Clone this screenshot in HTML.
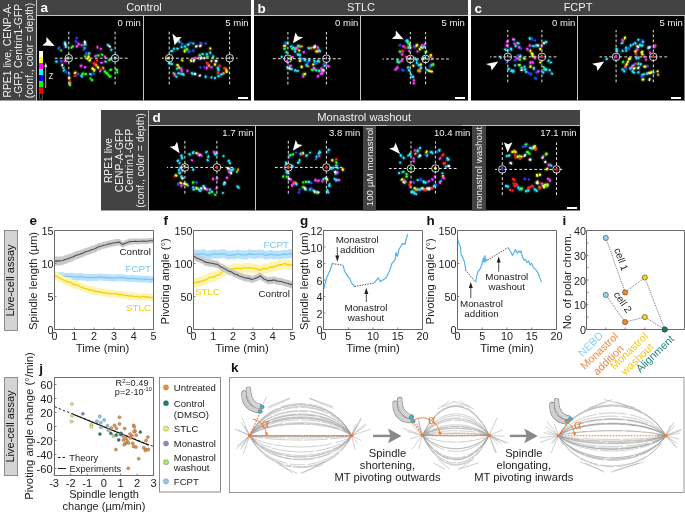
<!DOCTYPE html><html><head><meta charset="utf-8"><style>html,body{margin:0;padding:0;background:#fff;}svg{display:block;will-change:transform;}</style></head><body><svg width="685" height="513" viewBox="0 0 685 513" font-family='"Liberation Sans", sans-serif'>
<rect x="0" y="0" width="685" height="513" fill="#fff" />
<rect x="0" y="0" width="36" height="100.5" fill="#434343" />
<rect x="36" y="0" width="1" height="100.5" fill="#c4c4c4" />
<text transform="translate(10.6,50.5) rotate(-90)" font-size="10.4" fill="#f0f0f0" text-anchor="middle" font-weight="normal">RPE1 live, CENP-A-</text>
<text transform="translate(21.7,50.5) rotate(-90)" font-size="10.4" fill="#f0f0f0" text-anchor="middle" font-weight="normal">-GFP, Centrin1-GFP</text>
<text transform="translate(32.8,50.5) rotate(-90)" font-size="10.4" fill="#f0f0f0" text-anchor="middle" font-weight="normal">(conf., color = depth)</text>
<rect x="37" y="0" width="214" height="15" fill="#434343" />
<rect x="37" y="15" width="214" height="1" fill="#c4c4c4" />
<rect x="37" y="16" width="214" height="84.5" fill="#000" />
<rect x="143" y="16" width="1" height="84.5" fill="#c4c4c4" />
<text x="40.5" y="12" font-size="13.5" fill="#fff" text-anchor="start" font-weight="bold" >a</text>
<text x="144.0" y="10.7" font-size="11" fill="#f0f0f0" text-anchor="middle" font-weight="normal" >Control</text>
<rect x="254" y="0" width="214" height="15" fill="#434343" />
<rect x="254" y="15" width="214" height="1" fill="#c4c4c4" />
<rect x="254" y="16" width="214" height="84.5" fill="#000" />
<rect x="360" y="16" width="1" height="84.5" fill="#c4c4c4" />
<text x="257.5" y="12.7" font-size="13.5" fill="#fff" text-anchor="start" font-weight="bold" >b</text>
<text x="361.0" y="10.7" font-size="11" fill="#f0f0f0" text-anchor="middle" font-weight="normal" >STLC</text>
<rect x="471" y="0" width="214" height="15" fill="#434343" />
<rect x="471" y="15" width="214" height="1" fill="#c4c4c4" />
<rect x="471" y="16" width="214" height="84.5" fill="#000" />
<rect x="577" y="16" width="1" height="84.5" fill="#c4c4c4" />
<text x="474.5" y="12.7" font-size="13.5" fill="#fff" text-anchor="start" font-weight="bold" >c</text>
<text x="578.0" y="10.7" font-size="11" fill="#f0f0f0" text-anchor="middle" font-weight="normal" >FCPT</text>
<rect x="684" y="16" width="1" height="84.5" fill="#777" />
<rect x="39" y="51" width="4" height="6" fill="#ffffff" />
<rect x="39" y="57" width="4" height="6" fill="#ffff00" />
<rect x="39" y="63" width="4" height="6" fill="#ff00ff" />
<rect x="39" y="69" width="4" height="6" fill="#00ffff" />
<rect x="39" y="75" width="4" height="6" fill="#0000ff" />
<rect x="39" y="81" width="4" height="6" fill="#00ff00" />
<rect x="39" y="87" width="4" height="6" fill="#ff0000" />
<rect x="39" y="93" width="4" height="6" fill="#000000" />
<rect x="39.5" y="93.5" width="3" height="5.5" fill="none" stroke="#555" stroke-width="0.8"/>
<line x1="45.7" y1="88" x2="45.7" y2="66" stroke="#ddd" stroke-width="0.8"/>
<polygon points="45.7,62.5 44.2,67 47.2,67" fill="#ddd"/>
<text x="48.5" y="79" font-size="10" fill="#ddd" text-anchor="start" font-weight="normal" >z</text>
<defs><filter id="gl" x="-50%" y="-50%" width="200%" height="200%"><feGaussianBlur stdDeviation="0.9" result="b"/><feMerge><feMergeNode in="b"/><feMergeNode in="SourceGraphic"/></feMerge></filter></defs>
<g filter="url(#gl)"><ellipse cx="76.7" cy="38.0" rx="1.34" ry="0.91" fill="#2a4cff" transform="rotate(32 76.7 38.0)"/><ellipse cx="76.0" cy="41.5" rx="1.25" ry="1.08" fill="#2a4cff" transform="rotate(45 76.0 41.5)"/><ellipse cx="64.9" cy="42.6" rx="1.33" ry="1.06" fill="#28e6ff" transform="rotate(97 64.9 42.6)"/><ellipse cx="65.4" cy="44.6" rx="1.66" ry="1.00" fill="#ffffff" transform="rotate(76 65.4 44.6)"/><ellipse cx="66.1" cy="47.0" rx="1.47" ry="0.92" fill="#28e6ff" transform="rotate(162 66.1 47.0)"/><ellipse cx="71.6" cy="47.5" rx="1.32" ry="0.97" fill="#2cff2c" transform="rotate(123 71.6 47.5)"/><ellipse cx="72.8" cy="46.4" rx="1.19" ry="1.05" fill="#2cff2c" transform="rotate(153 72.8 46.4)"/><ellipse cx="76.9" cy="46.4" rx="1.30" ry="1.13" fill="#ff3cff" transform="rotate(95 76.9 46.4)"/><ellipse cx="78.7" cy="44.0" rx="1.56" ry="0.99" fill="#ff3cff" transform="rotate(72 78.7 44.0)"/><ellipse cx="81.6" cy="45.2" rx="1.26" ry="0.85" fill="#ff3cff" transform="rotate(37 81.6 45.2)"/><ellipse cx="84.9" cy="42.3" rx="1.69" ry="1.01" fill="#ffffff" transform="rotate(83 84.9 42.3)"/><ellipse cx="85.1" cy="44.6" rx="1.64" ry="1.03" fill="#28e6ff" transform="rotate(176 85.1 44.6)"/><ellipse cx="84.5" cy="48.1" rx="1.31" ry="0.91" fill="#28e6ff" transform="rotate(166 84.5 48.1)"/><ellipse cx="83.9" cy="49.3" rx="1.20" ry="1.09" fill="#2a4cff" transform="rotate(107 83.9 49.3)"/><ellipse cx="58.8" cy="48.1" rx="1.69" ry="1.13" fill="#2a4cff" transform="rotate(119 58.8 48.1)"/><ellipse cx="61.1" cy="50.5" rx="1.12" ry="0.86" fill="#2cff2c" transform="rotate(85 61.1 50.5)"/><ellipse cx="97.4" cy="47.3" rx="1.59" ry="0.87" fill="#ff3cff" transform="rotate(77 97.4 47.3)"/><ellipse cx="100.9" cy="48.7" rx="1.15" ry="0.94" fill="#ff3cff" transform="rotate(1 100.9 48.7)"/><ellipse cx="107.9" cy="45.0" rx="1.30" ry="1.01" fill="#28e6ff" transform="rotate(36 107.9 45.0)"/><ellipse cx="109.6" cy="46.4" rx="1.57" ry="0.87" fill="#ffffff" transform="rotate(38 109.6 46.4)"/><ellipse cx="111.4" cy="49.9" rx="1.25" ry="0.97" fill="#28e6ff" transform="rotate(137 111.4 49.9)"/><ellipse cx="86.3" cy="53.4" rx="1.31" ry="1.06" fill="#2a4cff" transform="rotate(166 86.3 53.4)"/><ellipse cx="89.2" cy="53.4" rx="1.18" ry="1.11" fill="#28e6ff" transform="rotate(108 89.2 53.4)"/><ellipse cx="88.6" cy="56.9" rx="1.55" ry="1.03" fill="#ffff28" transform="rotate(73 88.6 56.9)"/><ellipse cx="85.1" cy="56.3" rx="1.16" ry="0.89" fill="#2cff2c" transform="rotate(31 85.1 56.3)"/><ellipse cx="87.4" cy="58.7" rx="1.21" ry="0.89" fill="#ffff28" transform="rotate(37 87.4 58.7)"/><ellipse cx="89.8" cy="60.4" rx="1.44" ry="1.08" fill="#ffff28" transform="rotate(144 89.8 60.4)"/><ellipse cx="95.6" cy="56.0" rx="1.61" ry="0.89" fill="#ff3cff" transform="rotate(148 95.6 56.0)"/><ellipse cx="98.5" cy="55.5" rx="1.21" ry="0.87" fill="#2cff2c" transform="rotate(52 98.5 55.5)"/><ellipse cx="102.0" cy="54.6" rx="1.45" ry="0.86" fill="#2cff2c" transform="rotate(39 102.0 54.6)"/><ellipse cx="105.0" cy="56.9" rx="1.34" ry="1.10" fill="#ff3cff" transform="rotate(72 105.0 56.9)"/><ellipse cx="105.6" cy="61.6" rx="1.35" ry="0.96" fill="#28e6ff" transform="rotate(17 105.6 61.6)"/><ellipse cx="109.6" cy="59.8" rx="1.63" ry="1.13" fill="#2cff2c" transform="rotate(130 109.6 59.8)"/><ellipse cx="114.9" cy="58.1" rx="1.34" ry="0.98" fill="#28e6ff" transform="rotate(56 114.9 58.1)"/><ellipse cx="67.8" cy="58.1" rx="1.49" ry="1.05" fill="#2cff2c" transform="rotate(56 67.8 58.1)"/><ellipse cx="65.2" cy="61.0" rx="1.62" ry="1.07" fill="#ff3cff" transform="rotate(39 65.2 61.0)"/><ellipse cx="61.1" cy="61.0" rx="1.59" ry="1.05" fill="#2a4cff" transform="rotate(45 61.1 61.0)"/><ellipse cx="56.4" cy="61.6" rx="1.28" ry="1.08" fill="#28e6ff" transform="rotate(14 56.4 61.6)"/><ellipse cx="96.8" cy="60.4" rx="1.36" ry="1.14" fill="#ff2424" transform="rotate(46 96.8 60.4)"/><ellipse cx="93.9" cy="63.3" rx="1.40" ry="1.12" fill="#ff2424" transform="rotate(157 93.9 63.3)"/><ellipse cx="95.0" cy="64.2" rx="1.57" ry="1.01" fill="#ff2424" transform="rotate(167 95.0 64.2)"/><ellipse cx="96.2" cy="65.1" rx="1.25" ry="1.11" fill="#ff9a10" transform="rotate(74 96.2 65.1)"/><ellipse cx="98.0" cy="67.4" rx="1.49" ry="1.03" fill="#ffff28" transform="rotate(51 98.0 67.4)"/><ellipse cx="101.5" cy="62.7" rx="1.51" ry="1.03" fill="#ff3cff" transform="rotate(178 101.5 62.7)"/><ellipse cx="103.2" cy="68.0" rx="1.50" ry="0.98" fill="#ff9a10" transform="rotate(68 103.2 68.0)"/><ellipse cx="100.3" cy="70.9" rx="1.63" ry="0.95" fill="#ff3cff" transform="rotate(120 100.3 70.9)"/><ellipse cx="92.7" cy="68.6" rx="1.52" ry="1.14" fill="#ffff28" transform="rotate(35 92.7 68.6)"/><ellipse cx="94.4" cy="70.4" rx="1.50" ry="0.90" fill="#ffff28" transform="rotate(115 94.4 70.4)"/><ellipse cx="81.0" cy="65.7" rx="1.49" ry="1.07" fill="#ff3cff" transform="rotate(156 81.0 65.7)"/><ellipse cx="85.1" cy="67.2" rx="1.24" ry="1.11" fill="#ff3cff" transform="rotate(62 85.1 67.2)"/><ellipse cx="62.3" cy="65.1" rx="1.34" ry="0.88" fill="#ffffff" transform="rotate(96 62.3 65.1)"/><ellipse cx="63.5" cy="68.0" rx="1.10" ry="0.94" fill="#28e6ff" transform="rotate(121 63.5 68.0)"/><ellipse cx="64.0" cy="70.4" rx="1.55" ry="0.90" fill="#28e6ff" transform="rotate(141 64.0 70.4)"/><ellipse cx="66.4" cy="72.1" rx="1.37" ry="0.91" fill="#2a4cff" transform="rotate(135 66.4 72.1)"/><ellipse cx="69.3" cy="73.9" rx="1.54" ry="0.99" fill="#2a4cff" transform="rotate(96 69.3 73.9)"/><ellipse cx="75.1" cy="72.7" rx="1.47" ry="1.04" fill="#ffff28" transform="rotate(138 75.1 72.7)"/><ellipse cx="75.1" cy="76.2" rx="1.56" ry="0.91" fill="#ff2424" transform="rotate(4 75.1 76.2)"/><ellipse cx="78.1" cy="73.9" rx="1.16" ry="0.94" fill="#2a4cff" transform="rotate(104 78.1 73.9)"/><ellipse cx="81.6" cy="76.2" rx="1.68" ry="0.98" fill="#28e6ff" transform="rotate(66 81.6 76.2)"/><ellipse cx="82.7" cy="73.9" rx="1.43" ry="1.13" fill="#2cff2c" transform="rotate(106 82.7 73.9)"/><ellipse cx="85.7" cy="74.2" rx="1.28" ry="1.08" fill="#2cff2c" transform="rotate(179 85.7 74.2)"/><ellipse cx="90.4" cy="74.2" rx="1.58" ry="0.97" fill="#28e6ff" transform="rotate(31 90.4 74.2)"/><ellipse cx="93.9" cy="73.9" rx="1.38" ry="0.89" fill="#2a4cff" transform="rotate(24 93.9 73.9)"/><ellipse cx="105.0" cy="71.5" rx="1.37" ry="1.11" fill="#2cff2c" transform="rotate(126 105.0 71.5)"/><ellipse cx="106.7" cy="73.3" rx="1.35" ry="1.14" fill="#2cff2c" transform="rotate(32 106.7 73.3)"/><ellipse cx="108.5" cy="75.0" rx="1.25" ry="0.93" fill="#2cff2c" transform="rotate(103 108.5 75.0)"/><ellipse cx="110.2" cy="76.5" rx="1.63" ry="0.96" fill="#2cff2c" transform="rotate(149 110.2 76.5)"/><ellipse cx="110.8" cy="69.8" rx="1.66" ry="0.99" fill="#2cff2c" transform="rotate(161 110.8 69.8)"/><ellipse cx="116.7" cy="69.8" rx="1.63" ry="0.99" fill="#2cff2c" transform="rotate(31 116.7 69.8)"/><ellipse cx="117.3" cy="72.3" rx="1.14" ry="0.92" fill="#2cff2c" transform="rotate(83 117.3 72.3)"/><ellipse cx="90.4" cy="78.5" rx="1.11" ry="0.95" fill="#2cff2c" transform="rotate(89 90.4 78.5)"/><ellipse cx="92.1" cy="80.1" rx="1.30" ry="1.07" fill="#2cff2c" transform="rotate(103 92.1 80.1)"/><ellipse cx="69.3" cy="78.0" rx="1.42" ry="1.04" fill="#ffff28" transform="rotate(105 69.3 78.0)"/><ellipse cx="69.9" cy="81.5" rx="1.35" ry="0.90" fill="#ff2424" transform="rotate(106 69.9 81.5)"/><ellipse cx="70.1" cy="83.2" rx="1.13" ry="0.86" fill="#ff9a10" transform="rotate(62 70.1 83.2)"/><ellipse cx="69.9" cy="85.0" rx="1.24" ry="1.08" fill="#2cff2c" transform="rotate(29 69.9 85.0)"/></g>
<g stroke="#e8e8e8" stroke-width="1" stroke-dasharray="2.8,2.2" fill="none">
<line x1="53.6" y1="58.2" x2="128.9" y2="58.2" stroke-dashoffset="3.80"/>
<line x1="68.8" y1="31.7" x2="68.8" y2="85.5" stroke-dashoffset="0.10"/>
<line x1="115.1" y1="31.7" x2="115.1" y2="85.5" stroke-dashoffset="0.10"/>
</g>
<circle cx="68.8" cy="58.2" r="3.8" fill="none" stroke="#e6e6e6" stroke-width="0.9"/>
<circle cx="115.1" cy="58.2" r="3.8" fill="none" stroke="#e6e6e6" stroke-width="0.9"/>
<polygon points="54.7,45.9 46.4,36.9 46.4,42.1 42.2,45.5" fill="#fff"/>
<text x="140.8" y="26.4" font-size="9.5" fill="#f2f2f2" text-anchor="end" font-weight="normal" >0 min</text>
<g filter="url(#gl)"><ellipse cx="179.3" cy="41.7" rx="1.36" ry="1.06" fill="#28e6ff" transform="rotate(75 179.3 41.7)"/><ellipse cx="182.2" cy="43.8" rx="1.58" ry="0.89" fill="#2a4cff" transform="rotate(31 182.2 43.8)"/><ellipse cx="181.6" cy="47.0" rx="1.27" ry="0.96" fill="#28e6ff" transform="rotate(101 181.6 47.0)"/><ellipse cx="185.1" cy="46.4" rx="1.22" ry="1.02" fill="#28e6ff" transform="rotate(126 185.1 46.4)"/><ellipse cx="188.1" cy="44.6" rx="1.49" ry="1.09" fill="#28e6ff" transform="rotate(15 188.1 44.6)"/><ellipse cx="190.4" cy="42.9" rx="1.51" ry="1.07" fill="#2a4cff" transform="rotate(149 190.4 42.9)"/><ellipse cx="193.3" cy="43.5" rx="1.19" ry="0.88" fill="#28e6ff" transform="rotate(137 193.3 43.5)"/><ellipse cx="196.3" cy="46.4" rx="1.49" ry="0.90" fill="#ffffff" transform="rotate(157 196.3 46.4)"/><ellipse cx="200.4" cy="45.8" rx="1.53" ry="1.03" fill="#ffffff" transform="rotate(137 200.4 45.8)"/><ellipse cx="200.9" cy="42.9" rx="1.47" ry="0.95" fill="#2a4cff" transform="rotate(10 200.9 42.9)"/><ellipse cx="205.6" cy="43.5" rx="1.31" ry="1.04" fill="#2a4cff" transform="rotate(34 205.6 43.5)"/><ellipse cx="174.0" cy="48.7" rx="1.21" ry="0.88" fill="#28e6ff" transform="rotate(89 174.0 48.7)"/><ellipse cx="171.7" cy="51.1" rx="1.68" ry="1.07" fill="#28e6ff" transform="rotate(2 171.7 51.1)"/><ellipse cx="177.5" cy="48.7" rx="1.33" ry="1.05" fill="#28e6ff" transform="rotate(17 177.5 48.7)"/><ellipse cx="184.6" cy="51.1" rx="1.58" ry="0.92" fill="#ffff28" transform="rotate(80 184.6 51.1)"/><ellipse cx="186.9" cy="49.3" rx="1.58" ry="1.11" fill="#2cff2c" transform="rotate(14 186.9 49.3)"/><ellipse cx="189.2" cy="51.6" rx="1.59" ry="1.11" fill="#2a4cff" transform="rotate(151 189.2 51.6)"/><ellipse cx="193.3" cy="50.8" rx="1.56" ry="0.96" fill="#2a4cff" transform="rotate(56 193.3 50.8)"/><ellipse cx="210.3" cy="48.5" rx="1.13" ry="0.97" fill="#ffff28" transform="rotate(54 210.3 48.5)"/><ellipse cx="199.8" cy="55.1" rx="1.20" ry="1.13" fill="#2cff2c" transform="rotate(159 199.8 55.1)"/><ellipse cx="202.7" cy="54.0" rx="1.59" ry="0.94" fill="#28e6ff" transform="rotate(22 202.7 54.0)"/><ellipse cx="206.8" cy="54.0" rx="1.36" ry="0.87" fill="#28e6ff" transform="rotate(64 206.8 54.0)"/><ellipse cx="210.3" cy="52.8" rx="1.46" ry="0.95" fill="#28e6ff" transform="rotate(60 210.3 52.8)"/><ellipse cx="207.4" cy="56.7" rx="1.30" ry="1.10" fill="#2cff2c" transform="rotate(6 207.4 56.7)"/><ellipse cx="213.2" cy="56.9" rx="1.59" ry="1.03" fill="#28e6ff" transform="rotate(99 213.2 56.9)"/><ellipse cx="168.2" cy="58.1" rx="1.52" ry="0.86" fill="#ffff28" transform="rotate(155 168.2 58.1)"/><ellipse cx="195.1" cy="58.1" rx="1.27" ry="0.97" fill="#ff3cff" transform="rotate(92 195.1 58.1)"/><ellipse cx="198.6" cy="58.1" rx="1.64" ry="0.92" fill="#ff3cff" transform="rotate(94 198.6 58.1)"/><ellipse cx="200.9" cy="58.1" rx="1.69" ry="0.91" fill="#ffffff" transform="rotate(117 200.9 58.1)"/><ellipse cx="204.4" cy="58.1" rx="1.20" ry="1.02" fill="#ffffff" transform="rotate(78 204.4 58.1)"/><ellipse cx="182.2" cy="60.4" rx="1.44" ry="0.86" fill="#ffff28" transform="rotate(36 182.2 60.4)"/><ellipse cx="191.0" cy="60.6" rx="1.64" ry="0.90" fill="#ffff28" transform="rotate(54 191.0 60.6)"/><ellipse cx="193.9" cy="60.6" rx="1.69" ry="0.93" fill="#ffffff" transform="rotate(104 193.9 60.6)"/><ellipse cx="211.5" cy="61.0" rx="1.36" ry="0.85" fill="#ffff28" transform="rotate(116 211.5 61.0)"/><ellipse cx="216.1" cy="61.0" rx="1.40" ry="1.13" fill="#ffffff" transform="rotate(176 216.1 61.0)"/><ellipse cx="206.8" cy="62.7" rx="1.14" ry="1.03" fill="#ff2424" transform="rotate(61 206.8 62.7)"/><ellipse cx="208.0" cy="64.2" rx="1.18" ry="1.13" fill="#ff2424" transform="rotate(16 208.0 64.2)"/><ellipse cx="209.1" cy="65.7" rx="1.40" ry="0.92" fill="#ff9a10" transform="rotate(103 209.1 65.7)"/><ellipse cx="215.0" cy="64.5" rx="1.23" ry="1.11" fill="#ffff28" transform="rotate(79 215.0 64.5)"/><ellipse cx="219.6" cy="65.7" rx="1.22" ry="1.09" fill="#ff2424" transform="rotate(24 219.6 65.7)"/><ellipse cx="224.3" cy="68.0" rx="1.54" ry="0.92" fill="#ff2424" transform="rotate(151 224.3 68.0)"/><ellipse cx="226.1" cy="69.2" rx="1.25" ry="1.05" fill="#ff9a10" transform="rotate(121 226.1 69.2)"/><ellipse cx="226.7" cy="71.5" rx="1.40" ry="1.11" fill="#ffff28" transform="rotate(98 226.7 71.5)"/><ellipse cx="223.7" cy="73.3" rx="1.24" ry="1.01" fill="#ff9a10" transform="rotate(124 223.7 73.3)"/><ellipse cx="217.9" cy="68.0" rx="1.35" ry="1.01" fill="#28e6ff" transform="rotate(13 217.9 68.0)"/><ellipse cx="218.5" cy="69.8" rx="1.25" ry="1.08" fill="#28e6ff" transform="rotate(60 218.5 69.8)"/><ellipse cx="211.5" cy="67.4" rx="1.21" ry="1.09" fill="#ff3cff" transform="rotate(5 211.5 67.4)"/><ellipse cx="204.4" cy="67.4" rx="1.12" ry="0.87" fill="#2a4cff" transform="rotate(34 204.4 67.4)"/><ellipse cx="200.4" cy="67.4" rx="1.13" ry="0.94" fill="#2a4cff" transform="rotate(48 200.4 67.4)"/><ellipse cx="206.8" cy="68.0" rx="1.65" ry="0.93" fill="#ff3cff" transform="rotate(104 206.8 68.0)"/><ellipse cx="177.5" cy="65.1" rx="1.28" ry="1.07" fill="#ffff28" transform="rotate(21 177.5 65.1)"/><ellipse cx="179.3" cy="67.4" rx="1.31" ry="0.89" fill="#ffff28" transform="rotate(55 179.3 67.4)"/><ellipse cx="177.0" cy="68.6" rx="1.26" ry="0.99" fill="#28e6ff" transform="rotate(170 177.0 68.6)"/><ellipse cx="181.6" cy="68.6" rx="1.12" ry="0.92" fill="#ff3cff" transform="rotate(109 181.6 68.6)"/><ellipse cx="181.6" cy="70.4" rx="1.60" ry="0.96" fill="#ff3cff" transform="rotate(65 181.6 70.4)"/><ellipse cx="187.5" cy="70.9" rx="1.29" ry="0.96" fill="#ff3cff" transform="rotate(97 187.5 70.9)"/><ellipse cx="174.0" cy="73.3" rx="1.57" ry="0.86" fill="#2cff2c" transform="rotate(32 174.0 73.3)"/><ellipse cx="174.6" cy="75.0" rx="1.23" ry="1.04" fill="#ff3cff" transform="rotate(137 174.6 75.0)"/><ellipse cx="176.4" cy="76.8" rx="1.14" ry="0.85" fill="#28e6ff" transform="rotate(21 176.4 76.8)"/><ellipse cx="178.7" cy="73.3" rx="1.36" ry="1.06" fill="#28e6ff" transform="rotate(175 178.7 73.3)"/><ellipse cx="181.6" cy="73.9" rx="1.32" ry="0.98" fill="#28e6ff" transform="rotate(158 181.6 73.9)"/><ellipse cx="183.4" cy="74.4" rx="1.56" ry="1.12" fill="#28e6ff" transform="rotate(47 183.4 74.4)"/><ellipse cx="192.2" cy="73.5" rx="1.53" ry="1.09" fill="#28e6ff" transform="rotate(49 192.2 73.5)"/><ellipse cx="195.1" cy="73.9" rx="1.25" ry="1.13" fill="#ffffff" transform="rotate(40 195.1 73.9)"/><ellipse cx="199.8" cy="75.6" rx="1.30" ry="0.88" fill="#ffffff" transform="rotate(158 199.8 75.6)"/><ellipse cx="205.6" cy="76.8" rx="1.47" ry="0.92" fill="#28e6ff" transform="rotate(80 205.6 76.8)"/><ellipse cx="211.5" cy="77.4" rx="1.37" ry="0.86" fill="#28e6ff" transform="rotate(134 211.5 77.4)"/><ellipse cx="215.0" cy="78.0" rx="1.15" ry="0.97" fill="#28e6ff" transform="rotate(133 215.0 78.0)"/><ellipse cx="218.5" cy="76.2" rx="1.27" ry="1.08" fill="#28e6ff" transform="rotate(162 218.5 76.2)"/><ellipse cx="221.4" cy="74.4" rx="1.52" ry="0.98" fill="#28e6ff" transform="rotate(167 221.4 74.4)"/><ellipse cx="217.9" cy="72.7" rx="1.29" ry="1.15" fill="#ff2424" transform="rotate(109 217.9 72.7)"/><ellipse cx="169.4" cy="63.3" rx="1.42" ry="1.11" fill="#28e6ff" transform="rotate(19 169.4 63.3)"/><ellipse cx="171.7" cy="63.9" rx="1.27" ry="1.08" fill="#28e6ff" transform="rotate(12 171.7 63.9)"/></g>
<g stroke="#e8e8e8" stroke-width="1" stroke-dasharray="2.8,2.2" fill="none">
<line x1="161.9" y1="58.2" x2="237.5" y2="58.2" stroke-dashoffset="0.90"/>
<line x1="169.2" y1="31.7" x2="169.2" y2="84.7" stroke-dashoffset="0.10"/>
<line x1="229.6" y1="31.7" x2="229.6" y2="84.7" stroke-dashoffset="0.10"/>
</g>
<circle cx="169.2" cy="58.2" r="3.8" fill="none" stroke="#e6e6e6" stroke-width="0.9"/>
<circle cx="229.6" cy="58.2" r="3.8" fill="none" stroke="#e6e6e6" stroke-width="0.9"/>
<polygon points="174.6,45.2 172.3,33.5 176.5,37.2 181.6,37.0" fill="#fff"/>
<text x="248.6" y="26.4" font-size="9.5" fill="#f2f2f2" text-anchor="end" font-weight="normal" >5 min</text>
<rect x="238" y="97" width="10" height="2" fill="#fff" />
<g filter="url(#gl)"><ellipse cx="285.2" cy="42.9" rx="1.66" ry="0.99" fill="#2a4cff" transform="rotate(88 285.2 42.9)"/><ellipse cx="284.6" cy="45.8" rx="1.70" ry="0.88" fill="#ffff28" transform="rotate(4 284.6 45.8)"/><ellipse cx="284.6" cy="48.7" rx="1.44" ry="1.04" fill="#2cff2c" transform="rotate(155 284.6 48.7)"/><ellipse cx="287.5" cy="42.9" rx="1.22" ry="1.11" fill="#28e6ff" transform="rotate(118 287.5 42.9)"/><ellipse cx="291.1" cy="46.4" rx="1.45" ry="0.86" fill="#28e6ff" transform="rotate(144 291.1 46.4)"/><ellipse cx="292.2" cy="48.7" rx="1.23" ry="1.05" fill="#2cff2c" transform="rotate(179 292.2 48.7)"/><ellipse cx="293.4" cy="47.5" rx="1.11" ry="0.98" fill="#28e6ff" transform="rotate(169 293.4 47.5)"/><ellipse cx="295.1" cy="48.7" rx="1.27" ry="1.10" fill="#28e6ff" transform="rotate(147 295.1 48.7)"/><ellipse cx="296.9" cy="48.1" rx="1.51" ry="1.15" fill="#ff3cff" transform="rotate(127 296.9 48.1)"/><ellipse cx="298.1" cy="45.8" rx="1.16" ry="1.10" fill="#28e6ff" transform="rotate(135 298.1 45.8)"/><ellipse cx="299.8" cy="46.4" rx="1.33" ry="0.88" fill="#2cff2c" transform="rotate(48 299.8 46.4)"/><ellipse cx="301.6" cy="46.4" rx="1.42" ry="0.93" fill="#ff9a10" transform="rotate(178 301.6 46.4)"/><ellipse cx="299.2" cy="50.5" rx="1.19" ry="0.93" fill="#ffff28" transform="rotate(22 299.2 50.5)"/><ellipse cx="298.1" cy="54.6" rx="1.55" ry="1.10" fill="#28e6ff" transform="rotate(45 298.1 54.6)"/><ellipse cx="299.8" cy="55.1" rx="1.33" ry="1.12" fill="#28e6ff" transform="rotate(108 299.8 55.1)"/><ellipse cx="303.9" cy="52.2" rx="1.23" ry="1.15" fill="#ff3cff" transform="rotate(139 303.9 52.2)"/><ellipse cx="295.1" cy="51.6" rx="1.28" ry="0.98" fill="#28e6ff" transform="rotate(90 295.1 51.6)"/><ellipse cx="308.6" cy="48.1" rx="1.48" ry="0.99" fill="#28e6ff" transform="rotate(27 308.6 48.1)"/><ellipse cx="310.9" cy="48.1" rx="1.30" ry="0.89" fill="#ff9a10" transform="rotate(90 310.9 48.1)"/><ellipse cx="313.9" cy="47.5" rx="1.47" ry="1.03" fill="#ffff28" transform="rotate(13 313.9 47.5)"/><ellipse cx="315.0" cy="46.4" rx="1.43" ry="1.08" fill="#ffffff" transform="rotate(103 315.0 46.4)"/><ellipse cx="318.0" cy="47.5" rx="1.30" ry="1.09" fill="#ff3cff" transform="rotate(72 318.0 47.5)"/><ellipse cx="316.2" cy="51.6" rx="1.58" ry="0.85" fill="#ff9a10" transform="rotate(16 316.2 51.6)"/><ellipse cx="317.4" cy="51.1" rx="1.37" ry="0.88" fill="#ffff28" transform="rotate(35 317.4 51.1)"/><ellipse cx="319.7" cy="50.8" rx="1.66" ry="1.08" fill="#28e6ff" transform="rotate(54 319.7 50.8)"/><ellipse cx="286.4" cy="52.2" rx="1.17" ry="1.07" fill="#28e6ff" transform="rotate(127 286.4 52.2)"/><ellipse cx="281.7" cy="56.9" rx="1.20" ry="1.02" fill="#28e6ff" transform="rotate(115 281.7 56.9)"/><ellipse cx="287.0" cy="61.0" rx="1.15" ry="0.88" fill="#ff3cff" transform="rotate(5 287.0 61.0)"/><ellipse cx="290.5" cy="58.7" rx="1.60" ry="0.94" fill="#2cff2c" transform="rotate(60 290.5 58.7)"/><ellipse cx="292.8" cy="56.9" rx="1.13" ry="1.04" fill="#ff3cff" transform="rotate(45 292.8 56.9)"/><ellipse cx="300.4" cy="58.7" rx="1.43" ry="0.95" fill="#28e6ff" transform="rotate(63 300.4 58.7)"/><ellipse cx="299.8" cy="61.0" rx="1.13" ry="0.95" fill="#ffff28" transform="rotate(164 299.8 61.0)"/><ellipse cx="302.7" cy="59.2" rx="1.67" ry="1.12" fill="#2a4cff" transform="rotate(153 302.7 59.2)"/><ellipse cx="305.1" cy="59.8" rx="1.59" ry="1.04" fill="#28e6ff" transform="rotate(109 305.1 59.8)"/><ellipse cx="309.2" cy="60.4" rx="1.53" ry="1.14" fill="#28e6ff" transform="rotate(109 309.2 60.4)"/><ellipse cx="307.4" cy="63.3" rx="1.43" ry="1.07" fill="#2a4cff" transform="rotate(152 307.4 63.3)"/><ellipse cx="306.3" cy="65.1" rx="1.42" ry="0.86" fill="#28e6ff" transform="rotate(109 306.3 65.1)"/><ellipse cx="308.0" cy="66.3" rx="1.31" ry="0.89" fill="#ff9a10" transform="rotate(8 308.0 66.3)"/><ellipse cx="301.6" cy="66.8" rx="1.42" ry="1.14" fill="#ffff28" transform="rotate(100 301.6 66.8)"/><ellipse cx="314.4" cy="61.0" rx="1.60" ry="0.90" fill="#28e6ff" transform="rotate(59 314.4 61.0)"/><ellipse cx="318.0" cy="61.0" rx="1.67" ry="1.06" fill="#28e6ff" transform="rotate(131 318.0 61.0)"/><ellipse cx="316.2" cy="63.3" rx="1.28" ry="1.05" fill="#2a4cff" transform="rotate(62 316.2 63.3)"/><ellipse cx="319.1" cy="61.6" rx="1.22" ry="0.90" fill="#2cff2c" transform="rotate(32 319.1 61.6)"/><ellipse cx="313.3" cy="64.5" rx="1.16" ry="0.97" fill="#ffff28" transform="rotate(156 313.3 64.5)"/><ellipse cx="323.8" cy="63.9" rx="1.43" ry="0.96" fill="#2a4cff" transform="rotate(115 323.8 63.9)"/><ellipse cx="325.0" cy="65.7" rx="1.65" ry="0.93" fill="#28e6ff" transform="rotate(165 325.0 65.7)"/><ellipse cx="328.5" cy="66.3" rx="1.69" ry="0.96" fill="#ff3cff" transform="rotate(11 328.5 66.3)"/><ellipse cx="287.5" cy="67.4" rx="1.51" ry="1.13" fill="#28e6ff" transform="rotate(66 287.5 67.4)"/><ellipse cx="289.9" cy="68.6" rx="1.29" ry="0.92" fill="#ffffff" transform="rotate(22 289.9 68.6)"/><ellipse cx="291.6" cy="69.2" rx="1.50" ry="0.94" fill="#28e6ff" transform="rotate(168 291.6 69.2)"/><ellipse cx="295.1" cy="70.4" rx="1.34" ry="0.89" fill="#28e6ff" transform="rotate(120 295.1 70.4)"/><ellipse cx="297.5" cy="70.9" rx="1.69" ry="0.89" fill="#28e6ff" transform="rotate(175 297.5 70.9)"/><ellipse cx="290.5" cy="65.7" rx="1.50" ry="1.08" fill="#ff3cff" transform="rotate(170 290.5 65.7)"/><ellipse cx="312.1" cy="69.8" rx="1.43" ry="1.01" fill="#2cff2c" transform="rotate(26 312.1 69.8)"/><ellipse cx="313.9" cy="68.6" rx="1.35" ry="1.02" fill="#28e6ff" transform="rotate(48 313.9 68.6)"/><ellipse cx="316.2" cy="70.4" rx="1.36" ry="0.97" fill="#28e6ff" transform="rotate(151 316.2 70.4)"/><ellipse cx="319.1" cy="70.9" rx="1.31" ry="1.12" fill="#2cff2c" transform="rotate(41 319.1 70.9)"/><ellipse cx="321.5" cy="68.6" rx="1.49" ry="1.00" fill="#ff3cff" transform="rotate(54 321.5 68.6)"/><ellipse cx="323.2" cy="70.4" rx="1.57" ry="1.15" fill="#ffffff" transform="rotate(23 323.2 70.4)"/><ellipse cx="322.6" cy="72.1" rx="1.59" ry="0.87" fill="#ff3cff" transform="rotate(64 322.6 72.1)"/><ellipse cx="321.5" cy="73.9" rx="1.67" ry="1.14" fill="#ff3cff" transform="rotate(167 321.5 73.9)"/><ellipse cx="303.9" cy="74.4" rx="1.31" ry="1.07" fill="#2cff2c" transform="rotate(176 303.9 74.4)"/><ellipse cx="305.1" cy="73.9" rx="1.14" ry="1.10" fill="#ffff28" transform="rotate(130 305.1 73.9)"/><ellipse cx="303.3" cy="76.2" rx="1.66" ry="0.99" fill="#ff3cff" transform="rotate(116 303.3 76.2)"/><ellipse cx="318.0" cy="76.2" rx="1.56" ry="1.00" fill="#ff3cff" transform="rotate(129 318.0 76.2)"/><ellipse cx="314.4" cy="68.0" rx="1.23" ry="0.86" fill="#ff3cff" transform="rotate(40 314.4 68.0)"/></g>
<g stroke="#e8e8e8" stroke-width="1" stroke-dasharray="2.8,2.2" fill="none">
<line x1="272.2" y1="58.7" x2="340.9" y2="58.7" stroke-dashoffset="4.30"/>
<line x1="287.9" y1="32" x2="287.9" y2="85.5" stroke-dashoffset="0.30"/>
<line x1="326.4" y1="32" x2="326.4" y2="85.5" stroke-dashoffset="0.30"/>
</g>
<circle cx="287.9" cy="58.7" r="3.8" fill="none" stroke="#e6e6e6" stroke-width="0.9"/>
<circle cx="326.4" cy="58.7" r="3.8" fill="none" stroke="#e6e6e6" stroke-width="0.9"/>
<polygon points="292.9,43.3 295.4,32.6 298.0,36.6 303.2,37.2" fill="#fff"/>
<text x="358.3" y="26.4" font-size="9.5" fill="#f2f2f2" text-anchor="end" font-weight="normal" >0 min</text>
<g filter="url(#gl)"><ellipse cx="406.9" cy="40.3" rx="1.69" ry="0.98" fill="#28e6ff" transform="rotate(160 406.9 40.3)"/><ellipse cx="407.5" cy="41.7" rx="1.68" ry="1.13" fill="#28e6ff" transform="rotate(99 407.5 41.7)"/><ellipse cx="408.7" cy="43.5" rx="1.27" ry="1.03" fill="#2cff2c" transform="rotate(139 408.7 43.5)"/><ellipse cx="410.4" cy="47.5" rx="1.53" ry="0.86" fill="#ff9a10" transform="rotate(10 410.4 47.5)"/><ellipse cx="409.8" cy="45.2" rx="1.12" ry="0.92" fill="#ffff28" transform="rotate(71 409.8 45.2)"/><ellipse cx="399.9" cy="45.2" rx="1.32" ry="1.08" fill="#2a4cff" transform="rotate(138 399.9 45.2)"/><ellipse cx="403.4" cy="46.4" rx="1.27" ry="0.95" fill="#ff3cff" transform="rotate(160 403.4 46.4)"/><ellipse cx="405.1" cy="47.5" rx="1.51" ry="0.86" fill="#ff2424" transform="rotate(59 405.1 47.5)"/><ellipse cx="402.8" cy="51.1" rx="1.59" ry="1.01" fill="#ff2424" transform="rotate(36 402.8 51.1)"/><ellipse cx="399.9" cy="51.6" rx="1.35" ry="1.05" fill="#2cff2c" transform="rotate(32 399.9 51.6)"/><ellipse cx="402.2" cy="54.6" rx="1.25" ry="1.10" fill="#ff3cff" transform="rotate(70 402.2 54.6)"/><ellipse cx="408.7" cy="47.5" rx="1.35" ry="1.15" fill="#28e6ff" transform="rotate(172 408.7 47.5)"/><ellipse cx="409.2" cy="51.1" rx="1.28" ry="0.85" fill="#ff3cff" transform="rotate(31 409.2 51.1)"/><ellipse cx="414.5" cy="47.0" rx="1.69" ry="1.06" fill="#2a4cff" transform="rotate(42 414.5 47.0)"/><ellipse cx="416.8" cy="45.2" rx="1.64" ry="1.11" fill="#ffff28" transform="rotate(128 416.8 45.2)"/><ellipse cx="417.4" cy="51.6" rx="1.11" ry="1.01" fill="#ff3cff" transform="rotate(40 417.4 51.6)"/><ellipse cx="419.8" cy="49.3" rx="1.25" ry="0.97" fill="#ffff28" transform="rotate(72 419.8 49.3)"/><ellipse cx="421.5" cy="47.5" rx="1.63" ry="0.96" fill="#ffff28" transform="rotate(30 421.5 47.5)"/><ellipse cx="422.1" cy="45.2" rx="1.19" ry="0.99" fill="#ff3cff" transform="rotate(50 422.1 45.2)"/><ellipse cx="423.9" cy="47.0" rx="1.60" ry="1.04" fill="#28e6ff" transform="rotate(132 423.9 47.0)"/><ellipse cx="425.0" cy="44.0" rx="1.21" ry="1.02" fill="#ff3cff" transform="rotate(124 425.0 44.0)"/><ellipse cx="426.2" cy="51.6" rx="1.13" ry="0.97" fill="#ffffff" transform="rotate(120 426.2 51.6)"/><ellipse cx="425.6" cy="52.2" rx="1.19" ry="1.14" fill="#2cff2c" transform="rotate(38 425.6 52.2)"/><ellipse cx="430.9" cy="55.1" rx="1.17" ry="1.06" fill="#ffff28" transform="rotate(177 430.9 55.1)"/><ellipse cx="430.3" cy="56.3" rx="1.56" ry="1.01" fill="#ff9a10" transform="rotate(59 430.3 56.3)"/><ellipse cx="406.3" cy="56.9" rx="1.23" ry="0.87" fill="#ff3cff" transform="rotate(40 406.3 56.9)"/><ellipse cx="409.8" cy="58.7" rx="1.48" ry="0.92" fill="#ffff28" transform="rotate(178 409.8 58.7)"/><ellipse cx="415.1" cy="58.1" rx="1.19" ry="0.92" fill="#28e6ff" transform="rotate(73 415.1 58.1)"/><ellipse cx="416.3" cy="59.8" rx="1.67" ry="0.95" fill="#28e6ff" transform="rotate(33 416.3 59.8)"/><ellipse cx="416.8" cy="62.7" rx="1.53" ry="0.88" fill="#28e6ff" transform="rotate(85 416.8 62.7)"/><ellipse cx="418.6" cy="65.1" rx="1.23" ry="1.14" fill="#28e6ff" transform="rotate(79 418.6 65.1)"/><ellipse cx="420.9" cy="68.0" rx="1.40" ry="1.14" fill="#28e6ff" transform="rotate(117 420.9 68.0)"/><ellipse cx="418.6" cy="70.4" rx="1.70" ry="0.98" fill="#ff9a10" transform="rotate(157 418.6 70.4)"/><ellipse cx="419.8" cy="71.5" rx="1.36" ry="0.93" fill="#ff9a10" transform="rotate(173 419.8 71.5)"/><ellipse cx="423.3" cy="58.7" rx="1.47" ry="0.89" fill="#ffff28" transform="rotate(102 423.3 58.7)"/><ellipse cx="425.0" cy="58.1" rx="1.51" ry="0.89" fill="#28e6ff" transform="rotate(87 425.0 58.1)"/><ellipse cx="432.0" cy="58.7" rx="1.37" ry="0.90" fill="#ff3cff" transform="rotate(124 432.0 58.7)"/><ellipse cx="431.5" cy="65.1" rx="1.39" ry="1.03" fill="#2cff2c" transform="rotate(96 431.5 65.1)"/><ellipse cx="433.2" cy="64.5" rx="1.47" ry="1.08" fill="#2cff2c" transform="rotate(87 433.2 64.5)"/><ellipse cx="430.3" cy="66.3" rx="1.68" ry="1.12" fill="#2a4cff" transform="rotate(82 430.3 66.3)"/><ellipse cx="429.1" cy="70.9" rx="1.17" ry="1.00" fill="#ffff28" transform="rotate(69 429.1 70.9)"/><ellipse cx="431.5" cy="71.5" rx="1.63" ry="0.94" fill="#ffff28" transform="rotate(11 431.5 71.5)"/><ellipse cx="426.8" cy="69.8" rx="1.22" ry="1.11" fill="#28e6ff" transform="rotate(22 426.8 69.8)"/><ellipse cx="397.5" cy="61.0" rx="1.65" ry="0.98" fill="#28e6ff" transform="rotate(97 397.5 61.0)"/><ellipse cx="398.7" cy="62.2" rx="1.55" ry="1.11" fill="#2cff2c" transform="rotate(20 398.7 62.2)"/><ellipse cx="401.6" cy="61.0" rx="1.45" ry="0.91" fill="#ff3cff" transform="rotate(172 401.6 61.0)"/><ellipse cx="397.5" cy="67.4" rx="1.56" ry="0.93" fill="#ff3cff" transform="rotate(62 397.5 67.4)"/><ellipse cx="395.8" cy="69.2" rx="1.69" ry="1.14" fill="#ff3cff" transform="rotate(138 395.8 69.2)"/><ellipse cx="402.2" cy="69.8" rx="1.12" ry="0.92" fill="#2a4cff" transform="rotate(109 402.2 69.8)"/><ellipse cx="403.4" cy="70.4" rx="1.22" ry="1.01" fill="#2a4cff" transform="rotate(1 403.4 70.4)"/><ellipse cx="408.1" cy="67.4" rx="1.38" ry="0.99" fill="#28e6ff" transform="rotate(149 408.1 67.4)"/><ellipse cx="409.2" cy="70.4" rx="1.31" ry="1.12" fill="#28e6ff" transform="rotate(44 409.2 70.4)"/><ellipse cx="411.0" cy="74.4" rx="1.11" ry="0.99" fill="#28e6ff" transform="rotate(30 411.0 74.4)"/><ellipse cx="412.7" cy="76.8" rx="1.67" ry="1.10" fill="#28e6ff" transform="rotate(168 412.7 76.8)"/><ellipse cx="413.9" cy="80.3" rx="1.23" ry="1.11" fill="#ff3cff" transform="rotate(165 413.9 80.3)"/><ellipse cx="413.9" cy="83.2" rx="1.27" ry="1.09" fill="#ff3cff" transform="rotate(66 413.9 83.2)"/><ellipse cx="413.3" cy="65.7" rx="1.21" ry="1.05" fill="#ffff28" transform="rotate(60 413.3 65.7)"/><ellipse cx="420.9" cy="64.5" rx="1.28" ry="1.04" fill="#ffff28" transform="rotate(117 420.9 64.5)"/></g>
<g stroke="#e8e8e8" stroke-width="1" stroke-dasharray="2.8,2.2" fill="none">
<line x1="382.5" y1="59" x2="451.2" y2="59" stroke-dashoffset="1.40"/>
<line x1="410.3" y1="32" x2="410.3" y2="85.5" stroke-dashoffset="0.60"/>
<line x1="425.6" y1="32" x2="425.6" y2="85.5" stroke-dashoffset="0.60"/>
</g>
<circle cx="410.3" cy="59" r="3.8" fill="none" stroke="#e6e6e6" stroke-width="0.9"/>
<circle cx="425.6" cy="59" r="3.8" fill="none" stroke="#e6e6e6" stroke-width="0.9"/>
<polygon points="403.7,39.2 395.8,30.6 395.7,35.6 391.6,38.8" fill="#fff"/>
<text x="464.8" y="26.4" font-size="9.5" fill="#f2f2f2" text-anchor="end" font-weight="normal" >5 min</text>
<rect x="455" y="97" width="10" height="2" fill="#fff" />
<g filter="url(#gl)"><ellipse cx="512.8" cy="39.1" rx="1.11" ry="0.86" fill="#ff3cff" transform="rotate(96 512.8 39.1)"/><ellipse cx="514.0" cy="39.7" rx="1.15" ry="0.88" fill="#28e6ff" transform="rotate(168 514.0 39.7)"/><ellipse cx="507.5" cy="41.5" rx="1.67" ry="1.06" fill="#ff3cff" transform="rotate(166 507.5 41.5)"/><ellipse cx="507.0" cy="45.5" rx="1.51" ry="1.13" fill="#ff3cff" transform="rotate(1 507.0 45.5)"/><ellipse cx="505.2" cy="49.6" rx="1.32" ry="0.96" fill="#28e6ff" transform="rotate(61 505.2 49.6)"/><ellipse cx="507.5" cy="50.2" rx="1.26" ry="0.95" fill="#28e6ff" transform="rotate(134 507.5 50.2)"/><ellipse cx="511.1" cy="49.1" rx="1.67" ry="1.13" fill="#28e6ff" transform="rotate(70 511.1 49.1)"/><ellipse cx="514.6" cy="43.8" rx="1.46" ry="0.92" fill="#ff3cff" transform="rotate(56 514.6 43.8)"/><ellipse cx="518.1" cy="43.2" rx="1.65" ry="1.01" fill="#28e6ff" transform="rotate(16 518.1 43.2)"/><ellipse cx="519.2" cy="47.3" rx="1.39" ry="1.09" fill="#ff3cff" transform="rotate(123 519.2 47.3)"/><ellipse cx="521.0" cy="48.5" rx="1.17" ry="0.97" fill="#2a4cff" transform="rotate(58 521.0 48.5)"/><ellipse cx="515.7" cy="46.1" rx="1.23" ry="0.92" fill="#28e6ff" transform="rotate(151 515.7 46.1)"/><ellipse cx="529.8" cy="38.5" rx="1.43" ry="1.09" fill="#28e6ff" transform="rotate(71 529.8 38.5)"/><ellipse cx="532.1" cy="39.1" rx="1.61" ry="0.85" fill="#2a4cff" transform="rotate(61 532.1 39.1)"/><ellipse cx="535.0" cy="40.3" rx="1.21" ry="0.93" fill="#2a4cff" transform="rotate(132 535.0 40.3)"/><ellipse cx="529.8" cy="45.5" rx="1.21" ry="1.11" fill="#ff3cff" transform="rotate(104 529.8 45.5)"/><ellipse cx="533.3" cy="46.1" rx="1.63" ry="0.86" fill="#28e6ff" transform="rotate(11 533.3 46.1)"/><ellipse cx="536.2" cy="45.5" rx="1.12" ry="1.15" fill="#28e6ff" transform="rotate(84 536.2 45.5)"/><ellipse cx="538.0" cy="45.5" rx="1.14" ry="0.94" fill="#ffffff" transform="rotate(64 538.0 45.5)"/><ellipse cx="541.5" cy="45.5" rx="1.26" ry="0.94" fill="#ff3cff" transform="rotate(43 541.5 45.5)"/><ellipse cx="543.8" cy="43.2" rx="1.25" ry="0.98" fill="#ffffff" transform="rotate(20 543.8 43.2)"/><ellipse cx="546.1" cy="42.0" rx="1.46" ry="1.09" fill="#28e6ff" transform="rotate(32 546.1 42.0)"/><ellipse cx="527.4" cy="49.1" rx="1.48" ry="1.06" fill="#ff3cff" transform="rotate(57 527.4 49.1)"/><ellipse cx="530.4" cy="50.8" rx="1.33" ry="0.89" fill="#ffff28" transform="rotate(111 530.4 50.8)"/><ellipse cx="532.1" cy="53.7" rx="1.69" ry="1.08" fill="#ffff28" transform="rotate(39 532.1 53.7)"/><ellipse cx="532.7" cy="56.1" rx="1.36" ry="1.00" fill="#ffff28" transform="rotate(51 532.7 56.1)"/><ellipse cx="535.0" cy="57.8" rx="1.68" ry="1.11" fill="#ff3cff" transform="rotate(80 535.0 57.8)"/><ellipse cx="540.3" cy="49.1" rx="1.24" ry="1.08" fill="#ffff28" transform="rotate(93 540.3 49.1)"/><ellipse cx="518.1" cy="55.5" rx="1.53" ry="1.11" fill="#2a4cff" transform="rotate(175 518.1 55.5)"/><ellipse cx="520.4" cy="56.1" rx="1.57" ry="0.91" fill="#28e6ff" transform="rotate(100 520.4 56.1)"/><ellipse cx="517.5" cy="58.4" rx="1.53" ry="0.90" fill="#ff3cff" transform="rotate(178 517.5 58.4)"/><ellipse cx="519.8" cy="59.6" rx="1.26" ry="1.10" fill="#2cff2c" transform="rotate(3 519.8 59.6)"/><ellipse cx="523.9" cy="58.4" rx="1.15" ry="0.85" fill="#ffff28" transform="rotate(16 523.9 58.4)"/><ellipse cx="525.1" cy="59.0" rx="1.14" ry="0.87" fill="#2cff2c" transform="rotate(130 525.1 59.0)"/><ellipse cx="515.1" cy="60.2" rx="1.65" ry="1.09" fill="#2a4cff" transform="rotate(147 515.1 60.2)"/><ellipse cx="500.5" cy="57.2" rx="1.57" ry="0.90" fill="#28e6ff" transform="rotate(69 500.5 57.2)"/><ellipse cx="507.0" cy="62.5" rx="1.13" ry="0.90" fill="#2a4cff" transform="rotate(35 507.0 62.5)"/><ellipse cx="530.4" cy="62.5" rx="1.38" ry="1.13" fill="#ff3cff" transform="rotate(64 530.4 62.5)"/><ellipse cx="532.7" cy="62.5" rx="1.51" ry="1.05" fill="#ff3cff" transform="rotate(55 532.7 62.5)"/><ellipse cx="540.3" cy="62.5" rx="1.13" ry="0.91" fill="#ffff28" transform="rotate(36 540.3 62.5)"/><ellipse cx="548.5" cy="60.7" rx="1.41" ry="0.94" fill="#28e6ff" transform="rotate(117 548.5 60.7)"/><ellipse cx="550.8" cy="62.5" rx="1.47" ry="0.88" fill="#28e6ff" transform="rotate(155 550.8 62.5)"/><ellipse cx="519.2" cy="64.8" rx="1.35" ry="0.91" fill="#ffff28" transform="rotate(6 519.2 64.8)"/><ellipse cx="519.8" cy="65.4" rx="1.39" ry="0.89" fill="#2cff2c" transform="rotate(136 519.8 65.4)"/><ellipse cx="515.1" cy="65.4" rx="1.22" ry="0.90" fill="#28e6ff" transform="rotate(77 515.1 65.4)"/><ellipse cx="521.6" cy="67.8" rx="1.15" ry="1.12" fill="#28e6ff" transform="rotate(154 521.6 67.8)"/><ellipse cx="524.5" cy="66.6" rx="1.15" ry="0.92" fill="#28e6ff" transform="rotate(150 524.5 66.6)"/><ellipse cx="525.1" cy="69.5" rx="1.56" ry="1.01" fill="#28e6ff" transform="rotate(122 525.1 69.5)"/><ellipse cx="530.4" cy="66.6" rx="1.36" ry="1.03" fill="#ffff28" transform="rotate(111 530.4 66.6)"/><ellipse cx="533.9" cy="68.4" rx="1.55" ry="1.14" fill="#28e6ff" transform="rotate(93 533.9 68.4)"/><ellipse cx="508.7" cy="68.9" rx="1.18" ry="1.08" fill="#28e6ff" transform="rotate(175 508.7 68.9)"/><ellipse cx="511.6" cy="70.7" rx="1.42" ry="1.13" fill="#28e6ff" transform="rotate(135 511.6 70.7)"/><ellipse cx="513.4" cy="71.3" rx="1.55" ry="1.09" fill="#28e6ff" transform="rotate(109 513.4 71.3)"/><ellipse cx="526.3" cy="71.9" rx="1.17" ry="0.89" fill="#28e6ff" transform="rotate(156 526.3 71.9)"/><ellipse cx="528.6" cy="73.0" rx="1.49" ry="0.90" fill="#2a4cff" transform="rotate(42 528.6 73.0)"/><ellipse cx="530.9" cy="74.2" rx="1.62" ry="0.89" fill="#2a4cff" transform="rotate(105 530.9 74.2)"/><ellipse cx="536.8" cy="72.4" rx="1.56" ry="0.94" fill="#2a4cff" transform="rotate(3 536.8 72.4)"/><ellipse cx="538.5" cy="71.3" rx="1.33" ry="1.05" fill="#ff3cff" transform="rotate(158 538.5 71.3)"/><ellipse cx="543.8" cy="67.2" rx="1.46" ry="0.87" fill="#2cff2c" transform="rotate(36 543.8 67.2)"/><ellipse cx="544.4" cy="69.5" rx="1.41" ry="0.93" fill="#28e6ff" transform="rotate(24 544.4 69.5)"/><ellipse cx="543.2" cy="72.4" rx="1.19" ry="1.08" fill="#28e6ff" transform="rotate(63 543.2 72.4)"/><ellipse cx="546.1" cy="69.5" rx="1.61" ry="1.14" fill="#28e6ff" transform="rotate(62 546.1 69.5)"/><ellipse cx="549.6" cy="70.1" rx="1.50" ry="0.91" fill="#28e6ff" transform="rotate(50 549.6 70.1)"/><ellipse cx="552.0" cy="73.6" rx="1.23" ry="1.00" fill="#28e6ff" transform="rotate(18 552.0 73.6)"/><ellipse cx="535.6" cy="78.3" rx="1.58" ry="1.06" fill="#2a4cff" transform="rotate(23 535.6 78.3)"/><ellipse cx="521.6" cy="70.1" rx="1.27" ry="0.93" fill="#ffffff" transform="rotate(170 521.6 70.1)"/></g>
<g stroke="#e8e8e8" stroke-width="1" stroke-dasharray="2.8,2.2" fill="none">
<line x1="490" y1="56.9" x2="558.7" y2="56.9" stroke-dashoffset="1.40"/>
<line x1="507.8" y1="30" x2="507.8" y2="83.9" stroke-dashoffset="0.50"/>
<line x1="541.9" y1="30" x2="541.9" y2="83.9" stroke-dashoffset="0.50"/>
</g>
<circle cx="507.8" cy="56.9" r="3.8" fill="none" stroke="#e6e6e6" stroke-width="0.9"/>
<circle cx="541.9" cy="56.9" r="1.4" fill="#ff2020"/>
<circle cx="541.9" cy="56.9" r="3.8" fill="none" stroke="#e6e6e6" stroke-width="0.9"/>
<polygon points="498.3,61.5 485.9,64.0 490.7,66.1 491.7,70.6" fill="#fff"/>
<text x="575.3" y="26.4" font-size="9.5" fill="#f2f2f2" text-anchor="end" font-weight="normal" >0 min</text>
<g filter="url(#gl)"><ellipse cx="624.9" cy="37.9" rx="1.64" ry="0.91" fill="#ffff28" transform="rotate(112 624.9 37.9)"/><ellipse cx="622.6" cy="40.3" rx="1.55" ry="1.01" fill="#ff3cff" transform="rotate(50 622.6 40.3)"/><ellipse cx="622.0" cy="43.2" rx="1.61" ry="0.85" fill="#28e6ff" transform="rotate(169 622.0 43.2)"/><ellipse cx="616.7" cy="49.1" rx="1.55" ry="1.04" fill="#28e6ff" transform="rotate(49 616.7 49.1)"/><ellipse cx="617.3" cy="51.4" rx="1.15" ry="0.97" fill="#28e6ff" transform="rotate(92 617.3 51.4)"/><ellipse cx="622.6" cy="50.8" rx="1.44" ry="0.90" fill="#28e6ff" transform="rotate(67 622.6 50.8)"/><ellipse cx="626.1" cy="50.8" rx="1.19" ry="0.86" fill="#28e6ff" transform="rotate(92 626.1 50.8)"/><ellipse cx="626.1" cy="47.9" rx="1.39" ry="1.03" fill="#28e6ff" transform="rotate(78 626.1 47.9)"/><ellipse cx="629.0" cy="48.5" rx="1.50" ry="1.13" fill="#2a4cff" transform="rotate(72 629.0 48.5)"/><ellipse cx="630.7" cy="45.5" rx="1.45" ry="1.01" fill="#28e6ff" transform="rotate(88 630.7 45.5)"/><ellipse cx="633.1" cy="44.4" rx="1.10" ry="0.88" fill="#28e6ff" transform="rotate(104 633.1 44.4)"/><ellipse cx="635.4" cy="43.2" rx="1.45" ry="0.96" fill="#28e6ff" transform="rotate(62 635.4 43.2)"/><ellipse cx="638.4" cy="39.7" rx="1.16" ry="1.05" fill="#28e6ff" transform="rotate(116 638.4 39.7)"/><ellipse cx="642.4" cy="40.3" rx="1.17" ry="0.90" fill="#2a4cff" transform="rotate(44 642.4 40.3)"/><ellipse cx="643.0" cy="42.0" rx="1.27" ry="1.02" fill="#28e6ff" transform="rotate(144 643.0 42.0)"/><ellipse cx="640.1" cy="45.0" rx="1.44" ry="1.09" fill="#28e6ff" transform="rotate(56 640.1 45.0)"/><ellipse cx="642.4" cy="45.5" rx="1.33" ry="1.05" fill="#28e6ff" transform="rotate(151 642.4 45.5)"/><ellipse cx="637.8" cy="46.7" rx="1.65" ry="1.07" fill="#ffffff" transform="rotate(32 637.8 46.7)"/><ellipse cx="637.2" cy="49.6" rx="1.45" ry="0.88" fill="#ff3cff" transform="rotate(33 637.2 49.6)"/><ellipse cx="635.4" cy="51.4" rx="1.36" ry="1.04" fill="#ffff28" transform="rotate(38 635.4 51.4)"/><ellipse cx="636.0" cy="54.3" rx="1.36" ry="0.94" fill="#ff2424" transform="rotate(19 636.0 54.3)"/><ellipse cx="641.9" cy="52.0" rx="1.63" ry="1.10" fill="#ffff28" transform="rotate(141 641.9 52.0)"/><ellipse cx="642.4" cy="54.3" rx="1.19" ry="1.10" fill="#ffff28" transform="rotate(167 642.4 54.3)"/><ellipse cx="644.2" cy="56.7" rx="1.14" ry="0.92" fill="#ff3cff" transform="rotate(53 644.2 56.7)"/><ellipse cx="646.0" cy="59.6" rx="1.22" ry="1.02" fill="#ff3cff" transform="rotate(132 646.0 59.6)"/><ellipse cx="648.3" cy="47.9" rx="1.45" ry="1.12" fill="#28e6ff" transform="rotate(109 648.3 47.9)"/><ellipse cx="649.5" cy="47.3" rx="1.54" ry="0.98" fill="#ffffff" transform="rotate(134 649.5 47.3)"/><ellipse cx="655.3" cy="45.5" rx="1.19" ry="0.99" fill="#ff3cff" transform="rotate(45 655.3 45.5)"/><ellipse cx="654.1" cy="47.3" rx="1.32" ry="0.96" fill="#ff3cff" transform="rotate(14 654.1 47.3)"/><ellipse cx="650.0" cy="52.6" rx="1.41" ry="0.91" fill="#ff3cff" transform="rotate(94 650.0 52.6)"/><ellipse cx="606.8" cy="59.0" rx="1.42" ry="0.98" fill="#28e6ff" transform="rotate(158 606.8 59.0)"/><ellipse cx="615.5" cy="57.2" rx="1.42" ry="1.05" fill="#ff3cff" transform="rotate(168 615.5 57.2)"/><ellipse cx="629.0" cy="59.0" rx="1.36" ry="1.11" fill="#ffff28" transform="rotate(74 629.0 59.0)"/><ellipse cx="630.2" cy="58.4" rx="1.11" ry="0.92" fill="#ffff28" transform="rotate(45 630.2 58.4)"/><ellipse cx="627.8" cy="61.9" rx="1.49" ry="0.90" fill="#ffff28" transform="rotate(117 627.8 61.9)"/><ellipse cx="626.7" cy="64.3" rx="1.29" ry="1.05" fill="#ffff28" transform="rotate(163 626.7 64.3)"/><ellipse cx="625.5" cy="66.6" rx="1.50" ry="1.06" fill="#ff9a10" transform="rotate(105 625.5 66.6)"/><ellipse cx="623.1" cy="61.9" rx="1.44" ry="0.99" fill="#2cff2c" transform="rotate(136 623.1 61.9)"/><ellipse cx="636.6" cy="58.4" rx="1.35" ry="0.97" fill="#28e6ff" transform="rotate(145 636.6 58.4)"/><ellipse cx="638.4" cy="57.8" rx="1.55" ry="0.85" fill="#28e6ff" transform="rotate(57 638.4 57.8)"/><ellipse cx="635.4" cy="63.7" rx="1.29" ry="0.93" fill="#ff2424" transform="rotate(22 635.4 63.7)"/><ellipse cx="638.4" cy="63.7" rx="1.38" ry="0.99" fill="#28e6ff" transform="rotate(112 638.4 63.7)"/><ellipse cx="640.7" cy="64.3" rx="1.33" ry="1.09" fill="#28e6ff" transform="rotate(133 640.7 64.3)"/><ellipse cx="633.1" cy="65.4" rx="1.66" ry="0.86" fill="#28e6ff" transform="rotate(148 633.1 65.4)"/><ellipse cx="631.9" cy="67.2" rx="1.68" ry="1.00" fill="#ff3cff" transform="rotate(94 631.9 67.2)"/><ellipse cx="634.3" cy="68.4" rx="1.64" ry="0.95" fill="#ffff28" transform="rotate(148 634.3 68.4)"/><ellipse cx="638.4" cy="67.8" rx="1.38" ry="1.11" fill="#ffffff" transform="rotate(133 638.4 67.8)"/><ellipse cx="626.1" cy="68.4" rx="1.38" ry="0.90" fill="#2a4cff" transform="rotate(52 626.1 68.4)"/><ellipse cx="622.6" cy="69.5" rx="1.48" ry="0.95" fill="#28e6ff" transform="rotate(35 622.6 69.5)"/><ellipse cx="624.3" cy="71.3" rx="1.26" ry="0.99" fill="#28e6ff" transform="rotate(104 624.3 71.3)"/><ellipse cx="630.2" cy="68.4" rx="1.54" ry="0.86" fill="#28e6ff" transform="rotate(108 630.2 68.4)"/><ellipse cx="632.5" cy="71.3" rx="1.15" ry="1.01" fill="#28e6ff" transform="rotate(39 632.5 71.3)"/><ellipse cx="633.7" cy="72.4" rx="1.53" ry="0.99" fill="#28e6ff" transform="rotate(21 633.7 72.4)"/><ellipse cx="638.4" cy="72.4" rx="1.40" ry="0.99" fill="#28e6ff" transform="rotate(128 638.4 72.4)"/><ellipse cx="644.8" cy="66.6" rx="1.64" ry="1.15" fill="#ffff28" transform="rotate(175 644.8 66.6)"/><ellipse cx="647.7" cy="66.0" rx="1.14" ry="1.01" fill="#2a4cff" transform="rotate(71 647.7 66.0)"/><ellipse cx="642.4" cy="74.8" rx="1.59" ry="0.93" fill="#28e6ff" transform="rotate(165 642.4 74.8)"/><ellipse cx="644.2" cy="74.2" rx="1.18" ry="0.89" fill="#28e6ff" transform="rotate(46 644.2 74.2)"/><ellipse cx="647.1" cy="73.6" rx="1.31" ry="1.09" fill="#28e6ff" transform="rotate(69 647.1 73.6)"/><ellipse cx="649.5" cy="73.0" rx="1.44" ry="1.11" fill="#ffff28" transform="rotate(17 649.5 73.0)"/><ellipse cx="651.2" cy="72.4" rx="1.40" ry="1.04" fill="#ffff28" transform="rotate(130 651.2 72.4)"/><ellipse cx="653.6" cy="72.4" rx="1.13" ry="0.96" fill="#28e6ff" transform="rotate(116 653.6 72.4)"/><ellipse cx="657.6" cy="71.3" rx="1.18" ry="0.85" fill="#ffff28" transform="rotate(143 657.6 71.3)"/><ellipse cx="658.2" cy="74.8" rx="1.18" ry="1.00" fill="#ff9a10" transform="rotate(62 658.2 74.8)"/><ellipse cx="641.9" cy="76.5" rx="1.36" ry="1.10" fill="#2a4cff" transform="rotate(141 641.9 76.5)"/><ellipse cx="643.0" cy="79.5" rx="1.53" ry="1.10" fill="#ffff28" transform="rotate(157 643.0 79.5)"/><ellipse cx="649.5" cy="79.5" rx="1.56" ry="0.87" fill="#ffffff" transform="rotate(104 649.5 79.5)"/></g>
<g stroke="#e8e8e8" stroke-width="1" stroke-dasharray="2.8,2.2" fill="none">
<line x1="599.5" y1="56.9" x2="668.2" y2="56.9" stroke-dashoffset="0.20"/>
<line x1="616.1" y1="30" x2="616.1" y2="84" stroke-dashoffset="0.50"/>
<line x1="653.3" y1="30" x2="653.3" y2="84" stroke-dashoffset="0.50"/>
</g>
<circle cx="616.1" cy="56.9" r="1.4" fill="#cc33cc"/>
<circle cx="616.1" cy="56.9" r="3.8" fill="none" stroke="#e6e6e6" stroke-width="0.9"/>
<circle cx="653.3" cy="56.9" r="1.4" fill="#ff2020"/>
<circle cx="653.3" cy="56.9" r="3.8" fill="none" stroke="#e6e6e6" stroke-width="0.9"/>
<polygon points="604.2,61.5 592.0,63.7 596.6,66.2 597.5,71.0" fill="#fff"/>
<text x="682.8" y="26.4" font-size="9.5" fill="#f2f2f2" text-anchor="end" font-weight="normal" >5 min</text>
<rect x="671" y="97" width="10" height="2" fill="#fff" />
<rect x="101" y="110" width="47" height="100.5" fill="#434343" />
<rect x="148" y="110" width="1" height="100.5" fill="#c4c4c4" />
<rect x="149" y="110" width="431" height="15" fill="#434343" />
<rect x="149" y="125" width="431" height="1" fill="#c4c4c4" />
<rect x="387" y="125" width="75" height="1" fill="#8a8a8a" />
<rect x="149" y="126" width="431" height="84.5" fill="#000" />
<rect x="255" y="126" width="1" height="84.5" fill="#c4c4c4" />
<rect x="363" y="126" width="13" height="84.5" fill="#434343" />
<rect x="472" y="126" width="14" height="84.5" fill="#434343" />
<text transform="translate(112.3,160.5) rotate(-90)" font-size="10.3" fill="#f0f0f0" text-anchor="middle" font-weight="normal">RPE1 live</text>
<text transform="translate(122.75,160.5) rotate(-90)" font-size="10.3" fill="#f0f0f0" text-anchor="middle" font-weight="normal">CENP-A-GFP</text>
<text transform="translate(133.2,160.5) rotate(-90)" font-size="10.3" fill="#f0f0f0" text-anchor="middle" font-weight="normal">Centrin1-GFP</text>
<text transform="translate(143.65,160.5) rotate(-90)" font-size="10.3" fill="#f0f0f0" text-anchor="middle" font-weight="normal">(conf., color = depth)</text>
<text x="152.5" y="122" font-size="13.5" fill="#fff" text-anchor="start" font-weight="bold" >d</text>
<text x="364.2" y="120.6" font-size="11.2" fill="#f0f0f0" text-anchor="middle" font-weight="normal" >Monastrol washout</text>
<text transform="translate(373,167) rotate(-90)" font-size="9.8" fill="#f0f0f0" text-anchor="middle" font-weight="normal">100 µM monastrol</text>
<text transform="translate(482.3,168) rotate(-90)" font-size="9.8" fill="#f0f0f0" text-anchor="middle" font-weight="normal">monastrol washout</text>
<g filter="url(#gl)"><ellipse cx="181.4" cy="155.5" rx="1.20" ry="1.12" fill="#28e6ff" transform="rotate(137 181.4 155.5)"/><ellipse cx="182.0" cy="157.9" rx="1.59" ry="1.01" fill="#28e6ff" transform="rotate(72 182.0 157.9)"/><ellipse cx="177.9" cy="160.8" rx="1.30" ry="1.13" fill="#28e6ff" transform="rotate(160 177.9 160.8)"/><ellipse cx="179.6" cy="163.1" rx="1.19" ry="0.87" fill="#28e6ff" transform="rotate(118 179.6 163.1)"/><ellipse cx="180.2" cy="167.8" rx="1.27" ry="1.01" fill="#28e6ff" transform="rotate(111 180.2 167.8)"/><ellipse cx="179.0" cy="170.2" rx="1.36" ry="0.88" fill="#28e6ff" transform="rotate(91 179.0 170.2)"/><ellipse cx="179.6" cy="173.1" rx="1.64" ry="0.99" fill="#28e6ff" transform="rotate(28 179.6 173.1)"/><ellipse cx="181.4" cy="176.6" rx="1.18" ry="1.14" fill="#28e6ff" transform="rotate(124 181.4 176.6)"/><ellipse cx="182.5" cy="178.4" rx="1.30" ry="1.00" fill="#ffffff" transform="rotate(159 182.5 178.4)"/><ellipse cx="174.9" cy="176.0" rx="1.36" ry="0.91" fill="#ff2424" transform="rotate(150 174.9 176.0)"/><ellipse cx="176.1" cy="175.4" rx="1.45" ry="1.00" fill="#ffff28" transform="rotate(34 176.1 175.4)"/><ellipse cx="189.6" cy="154.4" rx="1.49" ry="1.01" fill="#28e6ff" transform="rotate(48 189.6 154.4)"/><ellipse cx="193.1" cy="152.6" rx="1.70" ry="1.00" fill="#28e6ff" transform="rotate(113 193.1 152.6)"/><ellipse cx="196.6" cy="153.2" rx="1.46" ry="0.90" fill="#ffff28" transform="rotate(7 196.6 153.2)"/><ellipse cx="198.3" cy="154.4" rx="1.63" ry="0.95" fill="#ff3cff" transform="rotate(81 198.3 154.4)"/><ellipse cx="200.1" cy="155.0" rx="1.23" ry="1.03" fill="#ffffff" transform="rotate(134 200.1 155.0)"/><ellipse cx="201.3" cy="155.5" rx="1.33" ry="0.98" fill="#ff3cff" transform="rotate(36 201.3 155.5)"/><ellipse cx="206.5" cy="152.0" rx="1.46" ry="0.94" fill="#28e6ff" transform="rotate(142 206.5 152.0)"/><ellipse cx="208.3" cy="156.7" rx="1.62" ry="0.85" fill="#28e6ff" transform="rotate(106 208.3 156.7)"/><ellipse cx="207.7" cy="160.2" rx="1.30" ry="0.93" fill="#28e6ff" transform="rotate(43 207.7 160.2)"/><ellipse cx="191.9" cy="160.2" rx="1.28" ry="0.88" fill="#ff3cff" transform="rotate(23 191.9 160.2)"/><ellipse cx="184.3" cy="166.1" rx="1.13" ry="0.95" fill="#ffff28" transform="rotate(167 184.3 166.1)"/><ellipse cx="214.1" cy="152.0" rx="1.30" ry="1.10" fill="#ff3cff" transform="rotate(33 214.1 152.0)"/><ellipse cx="215.3" cy="154.4" rx="1.53" ry="1.14" fill="#28e6ff" transform="rotate(38 215.3 154.4)"/><ellipse cx="216.5" cy="153.2" rx="1.45" ry="1.07" fill="#28e6ff" transform="rotate(1 216.5 153.2)"/><ellipse cx="223.5" cy="156.1" rx="1.12" ry="0.98" fill="#28e6ff" transform="rotate(47 223.5 156.1)"/><ellipse cx="228.7" cy="160.8" rx="1.32" ry="1.01" fill="#28e6ff" transform="rotate(140 228.7 160.8)"/><ellipse cx="229.9" cy="163.1" rx="1.25" ry="1.10" fill="#28e6ff" transform="rotate(49 229.9 163.1)"/><ellipse cx="228.2" cy="168.4" rx="1.50" ry="1.12" fill="#ffffff" transform="rotate(19 228.2 168.4)"/><ellipse cx="230.5" cy="169.6" rx="1.67" ry="0.85" fill="#28e6ff" transform="rotate(15 230.5 169.6)"/><ellipse cx="229.3" cy="171.9" rx="1.47" ry="1.03" fill="#ff3cff" transform="rotate(165 229.3 171.9)"/><ellipse cx="231.1" cy="173.1" rx="1.50" ry="0.90" fill="#ffffff" transform="rotate(97 231.1 173.1)"/><ellipse cx="232.8" cy="169.6" rx="1.68" ry="1.10" fill="#28e6ff" transform="rotate(129 232.8 169.6)"/><ellipse cx="238.1" cy="169.6" rx="1.25" ry="0.98" fill="#ff9a10" transform="rotate(105 238.1 169.6)"/><ellipse cx="236.9" cy="171.9" rx="1.18" ry="0.97" fill="#2cff2c" transform="rotate(81 236.9 171.9)"/><ellipse cx="227.0" cy="177.8" rx="1.33" ry="1.08" fill="#ff3cff" transform="rotate(47 227.0 177.8)"/><ellipse cx="224.6" cy="183.0" rx="1.39" ry="1.13" fill="#ffffff" transform="rotate(108 224.6 183.0)"/><ellipse cx="224.1" cy="184.2" rx="1.41" ry="1.07" fill="#28e6ff" transform="rotate(126 224.1 184.2)"/><ellipse cx="213.0" cy="178.9" rx="1.43" ry="0.96" fill="#ff3cff" transform="rotate(104 213.0 178.9)"/><ellipse cx="217.0" cy="178.4" rx="1.66" ry="0.98" fill="#ff3cff" transform="rotate(119 217.0 178.4)"/><ellipse cx="237.5" cy="186.5" rx="1.26" ry="1.01" fill="#28e6ff" transform="rotate(54 237.5 186.5)"/><ellipse cx="238.7" cy="187.7" rx="1.28" ry="0.91" fill="#28e6ff" transform="rotate(31 238.7 187.7)"/><ellipse cx="222.9" cy="193.0" rx="1.16" ry="0.87" fill="#28e6ff" transform="rotate(172 222.9 193.0)"/><ellipse cx="177.9" cy="184.2" rx="1.50" ry="0.91" fill="#2a4cff" transform="rotate(81 177.9 184.2)"/><ellipse cx="180.8" cy="183.0" rx="1.61" ry="0.89" fill="#ffff28" transform="rotate(32 180.8 183.0)"/><ellipse cx="181.4" cy="186.0" rx="1.16" ry="0.99" fill="#ff3cff" transform="rotate(83 181.4 186.0)"/><ellipse cx="184.3" cy="183.6" rx="1.13" ry="1.02" fill="#ffffff" transform="rotate(105 184.3 183.6)"/><ellipse cx="186.1" cy="184.2" rx="1.51" ry="1.03" fill="#ffff28" transform="rotate(6 186.1 184.2)"/><ellipse cx="187.8" cy="185.4" rx="1.14" ry="1.00" fill="#28e6ff" transform="rotate(42 187.8 185.4)"/><ellipse cx="193.1" cy="182.4" rx="1.28" ry="1.06" fill="#2cff2c" transform="rotate(126 193.1 182.4)"/><ellipse cx="196.6" cy="182.4" rx="1.30" ry="1.10" fill="#2a4cff" transform="rotate(22 196.6 182.4)"/><ellipse cx="193.1" cy="187.1" rx="1.17" ry="0.90" fill="#28e6ff" transform="rotate(160 193.1 187.1)"/><ellipse cx="193.7" cy="189.5" rx="1.43" ry="1.05" fill="#28e6ff" transform="rotate(1 193.7 189.5)"/><ellipse cx="196.6" cy="188.3" rx="1.43" ry="1.11" fill="#ffff28" transform="rotate(91 196.6 188.3)"/><ellipse cx="198.9" cy="189.5" rx="1.53" ry="0.95" fill="#28e6ff" transform="rotate(53 198.9 189.5)"/><ellipse cx="200.1" cy="190.6" rx="1.60" ry="1.08" fill="#28e6ff" transform="rotate(5 200.1 190.6)"/><ellipse cx="201.3" cy="188.3" rx="1.30" ry="0.88" fill="#ffffff" transform="rotate(35 201.3 188.3)"/><ellipse cx="203.6" cy="186.0" rx="1.32" ry="0.94" fill="#28e6ff" transform="rotate(164 203.6 186.0)"/><ellipse cx="204.8" cy="188.3" rx="1.63" ry="1.04" fill="#ffffff" transform="rotate(58 204.8 188.3)"/><ellipse cx="207.1" cy="189.5" rx="1.33" ry="1.12" fill="#ff3cff" transform="rotate(16 207.1 189.5)"/><ellipse cx="210.0" cy="189.5" rx="1.34" ry="0.88" fill="#28e6ff" transform="rotate(111 210.0 189.5)"/><ellipse cx="211.8" cy="191.8" rx="1.40" ry="1.02" fill="#28e6ff" transform="rotate(19 211.8 191.8)"/><ellipse cx="209.4" cy="193.0" rx="1.31" ry="0.91" fill="#2cff2c" transform="rotate(169 209.4 193.0)"/><ellipse cx="215.3" cy="194.7" rx="1.38" ry="0.87" fill="#2cff2c" transform="rotate(33 215.3 194.7)"/><ellipse cx="216.5" cy="188.3" rx="1.38" ry="0.95" fill="#ff3cff" transform="rotate(110 216.5 188.3)"/><ellipse cx="182.5" cy="170.7" rx="1.66" ry="0.98" fill="#ff3cff" transform="rotate(106 182.5 170.7)"/><ellipse cx="193.1" cy="169.6" rx="1.26" ry="1.11" fill="#28e6ff" transform="rotate(105 193.1 169.6)"/></g>
<g stroke="#e8e8e8" stroke-width="1" stroke-dasharray="2.8,2.2" fill="none">
<line x1="166.9" y1="167.4" x2="235.1" y2="167.4" stroke-dashoffset="1.60"/>
<line x1="184.9" y1="140.9" x2="184.9" y2="193.9" stroke-dashoffset="0.10"/>
<line x1="216.9" y1="140.9" x2="216.9" y2="193.9" stroke-dashoffset="0.10"/>
</g>
<circle cx="184.9" cy="167.4" r="3.8" fill="none" stroke="#e6e6e6" stroke-width="0.9"/>
<circle cx="216.9" cy="167.4" r="1.4" fill="#ff3030"/>
<circle cx="216.9" cy="167.4" r="3.8" fill="none" stroke="#e6e6e6" stroke-width="0.9"/>
<polygon points="179.6,153.3 169.7,146.7 174.6,146.0 177.1,141.7" fill="#fff"/>
<text x="253.5" y="136.4" font-size="9.5" fill="#f2f2f2" text-anchor="end" font-weight="normal" >1.7 min</text>
<g filter="url(#gl)"><ellipse cx="290.2" cy="155.0" rx="1.69" ry="1.00" fill="#2cff2c" transform="rotate(165 290.2 155.0)"/><ellipse cx="293.1" cy="154.4" rx="1.20" ry="1.12" fill="#2cff2c" transform="rotate(97 293.1 154.4)"/><ellipse cx="289.6" cy="157.3" rx="1.17" ry="1.03" fill="#2a4cff" transform="rotate(56 289.6 157.3)"/><ellipse cx="296.1" cy="152.6" rx="1.10" ry="0.87" fill="#2a4cff" transform="rotate(1 296.1 152.6)"/><ellipse cx="300.7" cy="153.8" rx="1.36" ry="1.10" fill="#28e6ff" transform="rotate(107 300.7 153.8)"/><ellipse cx="301.9" cy="154.4" rx="1.49" ry="0.89" fill="#ff2424" transform="rotate(114 301.9 154.4)"/><ellipse cx="303.1" cy="153.2" rx="1.36" ry="0.89" fill="#ffff28" transform="rotate(81 303.1 153.2)"/><ellipse cx="306.6" cy="155.5" rx="1.60" ry="1.05" fill="#28e6ff" transform="rotate(142 306.6 155.5)"/><ellipse cx="310.1" cy="152.6" rx="1.10" ry="0.93" fill="#28e6ff" transform="rotate(180 310.1 152.6)"/><ellipse cx="316.5" cy="156.7" rx="1.13" ry="0.90" fill="#28e6ff" transform="rotate(72 316.5 156.7)"/><ellipse cx="315.9" cy="159.1" rx="1.14" ry="0.92" fill="#2a4cff" transform="rotate(162 315.9 159.1)"/><ellipse cx="318.9" cy="153.2" rx="1.48" ry="1.05" fill="#28e6ff" transform="rotate(135 318.9 153.2)"/><ellipse cx="320.0" cy="152.0" rx="1.62" ry="0.89" fill="#28e6ff" transform="rotate(46 320.0 152.0)"/><ellipse cx="319.4" cy="156.1" rx="1.11" ry="0.95" fill="#ff3cff" transform="rotate(121 319.4 156.1)"/><ellipse cx="328.8" cy="149.7" rx="1.32" ry="1.03" fill="#28e6ff" transform="rotate(180 328.8 149.7)"/><ellipse cx="327.6" cy="152.0" rx="1.37" ry="1.03" fill="#2a4cff" transform="rotate(98 327.6 152.0)"/><ellipse cx="299.6" cy="160.2" rx="1.37" ry="0.88" fill="#28e6ff" transform="rotate(71 299.6 160.2)"/><ellipse cx="298.4" cy="162.6" rx="1.58" ry="1.07" fill="#28e6ff" transform="rotate(158 298.4 162.6)"/><ellipse cx="286.1" cy="163.1" rx="1.64" ry="1.11" fill="#28e6ff" transform="rotate(71 286.1 163.1)"/><ellipse cx="292.5" cy="166.1" rx="1.69" ry="0.95" fill="#28e6ff" transform="rotate(59 292.5 166.1)"/><ellipse cx="288.5" cy="166.7" rx="1.20" ry="0.92" fill="#ff2424" transform="rotate(125 288.5 166.7)"/><ellipse cx="286.7" cy="171.9" rx="1.57" ry="0.87" fill="#28e6ff" transform="rotate(143 286.7 171.9)"/><ellipse cx="287.9" cy="173.1" rx="1.66" ry="1.02" fill="#28e6ff" transform="rotate(21 287.9 173.1)"/><ellipse cx="283.2" cy="176.6" rx="1.42" ry="0.94" fill="#2cff2c" transform="rotate(107 283.2 176.6)"/><ellipse cx="286.7" cy="176.6" rx="1.11" ry="0.86" fill="#2cff2c" transform="rotate(67 286.7 176.6)"/><ellipse cx="289.0" cy="178.9" rx="1.27" ry="1.08" fill="#ffffff" transform="rotate(13 289.0 178.9)"/><ellipse cx="290.8" cy="179.5" rx="1.18" ry="1.05" fill="#ff3cff" transform="rotate(127 290.8 179.5)"/><ellipse cx="294.3" cy="182.4" rx="1.67" ry="1.05" fill="#ff2424" transform="rotate(36 294.3 182.4)"/><ellipse cx="295.5" cy="183.0" rx="1.27" ry="1.07" fill="#ff9a10" transform="rotate(91 295.5 183.0)"/><ellipse cx="293.7" cy="183.6" rx="1.11" ry="1.02" fill="#ff3cff" transform="rotate(75 293.7 183.6)"/><ellipse cx="296.6" cy="184.2" rx="1.52" ry="0.86" fill="#28e6ff" transform="rotate(101 296.6 184.2)"/><ellipse cx="292.0" cy="185.4" rx="1.65" ry="1.01" fill="#ff3cff" transform="rotate(71 292.0 185.4)"/><ellipse cx="303.1" cy="182.4" rx="1.21" ry="0.89" fill="#2cff2c" transform="rotate(78 303.1 182.4)"/><ellipse cx="306.0" cy="181.9" rx="1.35" ry="1.02" fill="#2cff2c" transform="rotate(17 306.0 181.9)"/><ellipse cx="308.9" cy="181.9" rx="1.31" ry="1.10" fill="#28e6ff" transform="rotate(20 308.9 181.9)"/><ellipse cx="311.3" cy="183.0" rx="1.24" ry="1.10" fill="#2a4cff" transform="rotate(43 311.3 183.0)"/><ellipse cx="303.1" cy="187.1" rx="1.34" ry="1.03" fill="#2cff2c" transform="rotate(166 303.1 187.1)"/><ellipse cx="304.8" cy="188.3" rx="1.64" ry="0.98" fill="#ffffff" transform="rotate(91 304.8 188.3)"/><ellipse cx="306.0" cy="189.5" rx="1.41" ry="0.94" fill="#28e6ff" transform="rotate(126 306.0 189.5)"/><ellipse cx="299.6" cy="189.5" rx="1.12" ry="1.05" fill="#2a4cff" transform="rotate(6 299.6 189.5)"/><ellipse cx="299.0" cy="192.4" rx="1.29" ry="0.95" fill="#2a4cff" transform="rotate(138 299.0 192.4)"/><ellipse cx="310.1" cy="189.5" rx="1.22" ry="0.97" fill="#28e6ff" transform="rotate(82 310.1 189.5)"/><ellipse cx="311.3" cy="188.3" rx="1.13" ry="1.04" fill="#2a4cff" transform="rotate(33 311.3 188.3)"/><ellipse cx="313.6" cy="190.6" rx="1.16" ry="1.14" fill="#28e6ff" transform="rotate(167 313.6 190.6)"/><ellipse cx="314.8" cy="191.8" rx="1.39" ry="0.92" fill="#ffffff" transform="rotate(78 314.8 191.8)"/><ellipse cx="316.5" cy="192.4" rx="1.40" ry="1.09" fill="#2cff2c" transform="rotate(43 316.5 192.4)"/><ellipse cx="318.3" cy="192.4" rx="1.19" ry="1.12" fill="#ffffff" transform="rotate(157 318.3 192.4)"/><ellipse cx="315.4" cy="180.1" rx="1.57" ry="1.06" fill="#ff3cff" transform="rotate(88 315.4 180.1)"/><ellipse cx="318.3" cy="180.7" rx="1.57" ry="1.11" fill="#ff3cff" transform="rotate(157 318.3 180.7)"/><ellipse cx="322.4" cy="181.3" rx="1.16" ry="0.92" fill="#ff3cff" transform="rotate(47 322.4 181.3)"/><ellipse cx="323.5" cy="178.9" rx="1.49" ry="0.86" fill="#28e6ff" transform="rotate(148 323.5 178.9)"/><ellipse cx="326.5" cy="178.4" rx="1.62" ry="0.92" fill="#ffffff" transform="rotate(44 326.5 178.4)"/><ellipse cx="327.0" cy="179.5" rx="1.59" ry="0.99" fill="#ffff28" transform="rotate(36 327.0 179.5)"/><ellipse cx="329.4" cy="184.2" rx="1.38" ry="0.88" fill="#28e6ff" transform="rotate(129 329.4 184.2)"/><ellipse cx="329.4" cy="186.0" rx="1.42" ry="0.98" fill="#28e6ff" transform="rotate(167 329.4 186.0)"/><ellipse cx="327.6" cy="190.6" rx="1.61" ry="0.91" fill="#28e6ff" transform="rotate(67 327.6 190.6)"/><ellipse cx="328.2" cy="192.4" rx="1.37" ry="0.88" fill="#28e6ff" transform="rotate(31 328.2 192.4)"/><ellipse cx="332.3" cy="160.2" rx="1.29" ry="1.07" fill="#ffff28" transform="rotate(80 332.3 160.2)"/><ellipse cx="336.4" cy="159.1" rx="1.24" ry="1.06" fill="#ff2424" transform="rotate(154 336.4 159.1)"/><ellipse cx="336.4" cy="162.6" rx="1.36" ry="0.96" fill="#2cff2c" transform="rotate(50 336.4 162.6)"/><ellipse cx="336.4" cy="165.5" rx="1.42" ry="0.89" fill="#28e6ff" transform="rotate(12 336.4 165.5)"/><ellipse cx="333.5" cy="167.8" rx="1.50" ry="0.89" fill="#28e6ff" transform="rotate(126 333.5 167.8)"/><ellipse cx="331.1" cy="168.4" rx="1.47" ry="1.08" fill="#28e6ff" transform="rotate(62 331.1 168.4)"/><ellipse cx="337.6" cy="167.8" rx="1.66" ry="0.87" fill="#28e6ff" transform="rotate(14 337.6 167.8)"/><ellipse cx="342.3" cy="168.4" rx="1.41" ry="0.92" fill="#ff2424" transform="rotate(7 342.3 168.4)"/><ellipse cx="342.8" cy="169.6" rx="1.39" ry="1.12" fill="#ffff28" transform="rotate(74 342.8 169.6)"/><ellipse cx="335.2" cy="171.9" rx="1.35" ry="1.09" fill="#ffffff" transform="rotate(155 335.2 171.9)"/><ellipse cx="337.6" cy="172.5" rx="1.21" ry="1.06" fill="#ff3cff" transform="rotate(119 337.6 172.5)"/><ellipse cx="335.8" cy="173.7" rx="1.27" ry="0.87" fill="#28e6ff" transform="rotate(146 335.8 173.7)"/><ellipse cx="334.6" cy="178.9" rx="1.23" ry="0.98" fill="#28e6ff" transform="rotate(80 334.6 178.9)"/><ellipse cx="336.4" cy="180.1" rx="1.54" ry="1.02" fill="#28e6ff" transform="rotate(131 336.4 180.1)"/><ellipse cx="338.7" cy="180.1" rx="1.67" ry="1.05" fill="#ff3cff" transform="rotate(3 338.7 180.1)"/></g>
<g stroke="#e8e8e8" stroke-width="1" stroke-dasharray="2.8,2.2" fill="none">
<line x1="273.4" y1="167.4" x2="342.1" y2="167.4" stroke-dashoffset="3.50"/>
<line x1="288.3" y1="140.9" x2="288.3" y2="193.9" stroke-dashoffset="0.10"/>
<line x1="326.4" y1="140.9" x2="326.4" y2="193.9" stroke-dashoffset="0.10"/>
</g>
<circle cx="288.3" cy="167.4" r="1.4" fill="#ff5030"/>
<circle cx="288.3" cy="167.4" r="3.8" fill="none" stroke="#e6e6e6" stroke-width="0.9"/>
<circle cx="326.4" cy="167.4" r="1.4" fill="#ff3030"/>
<circle cx="326.4" cy="167.4" r="3.8" fill="none" stroke="#e6e6e6" stroke-width="0.9"/>
<polygon points="292.8,150.8 295.7,140.1 297.9,144.2 302.7,145.0" fill="#fff"/>
<text x="360.2" y="136.4" font-size="9.5" fill="#f2f2f2" text-anchor="end" font-weight="normal" >3.8 min</text>
<g filter="url(#gl)"><ellipse cx="400.8" cy="155.5" rx="1.69" ry="0.97" fill="#28e6ff" transform="rotate(70 400.8 155.5)"/><ellipse cx="403.7" cy="157.9" rx="1.28" ry="1.11" fill="#28e6ff" transform="rotate(67 403.7 157.9)"/><ellipse cx="400.2" cy="162.6" rx="1.13" ry="0.98" fill="#28e6ff" transform="rotate(38 400.2 162.6)"/><ellipse cx="408.4" cy="155.5" rx="1.35" ry="0.85" fill="#28e6ff" transform="rotate(144 408.4 155.5)"/><ellipse cx="410.1" cy="154.4" rx="1.64" ry="1.04" fill="#28e6ff" transform="rotate(72 410.1 154.4)"/><ellipse cx="414.8" cy="150.3" rx="1.18" ry="0.91" fill="#ff3cff" transform="rotate(114 414.8 150.3)"/><ellipse cx="415.4" cy="153.8" rx="1.14" ry="0.98" fill="#ff9a10" transform="rotate(161 415.4 153.8)"/><ellipse cx="417.7" cy="150.9" rx="1.69" ry="1.10" fill="#28e6ff" transform="rotate(97 417.7 150.9)"/><ellipse cx="420.1" cy="147.9" rx="1.31" ry="0.99" fill="#28e6ff" transform="rotate(130 420.1 147.9)"/><ellipse cx="418.9" cy="156.7" rx="1.19" ry="1.13" fill="#28e6ff" transform="rotate(134 418.9 156.7)"/><ellipse cx="420.1" cy="155.5" rx="1.29" ry="1.11" fill="#ffffff" transform="rotate(43 420.1 155.5)"/><ellipse cx="413.7" cy="158.5" rx="1.17" ry="0.94" fill="#ff3cff" transform="rotate(63 413.7 158.5)"/><ellipse cx="413.7" cy="161.4" rx="1.14" ry="1.10" fill="#ff3cff" transform="rotate(161 413.7 161.4)"/><ellipse cx="426.5" cy="152.0" rx="1.70" ry="0.93" fill="#ffff28" transform="rotate(112 426.5 152.0)"/><ellipse cx="427.1" cy="155.5" rx="1.37" ry="0.98" fill="#28e6ff" transform="rotate(110 427.1 155.5)"/><ellipse cx="425.9" cy="154.4" rx="1.56" ry="0.91" fill="#2a4cff" transform="rotate(98 425.9 154.4)"/><ellipse cx="431.2" cy="152.0" rx="1.62" ry="1.06" fill="#28e6ff" transform="rotate(171 431.2 152.0)"/><ellipse cx="432.4" cy="153.2" rx="1.13" ry="0.95" fill="#28e6ff" transform="rotate(29 432.4 153.2)"/><ellipse cx="437.0" cy="152.0" rx="1.25" ry="0.99" fill="#2a4cff" transform="rotate(93 437.0 152.0)"/><ellipse cx="439.4" cy="150.3" rx="1.45" ry="1.14" fill="#28e6ff" transform="rotate(116 439.4 150.3)"/><ellipse cx="442.3" cy="155.5" rx="1.43" ry="0.87" fill="#ff2424" transform="rotate(159 442.3 155.5)"/><ellipse cx="443.5" cy="154.4" rx="1.29" ry="1.02" fill="#ff2424" transform="rotate(30 443.5 154.4)"/><ellipse cx="440.0" cy="158.5" rx="1.53" ry="0.92" fill="#ff3cff" transform="rotate(124 440.0 158.5)"/><ellipse cx="447.6" cy="158.5" rx="1.57" ry="1.03" fill="#28e6ff" transform="rotate(47 447.6 158.5)"/><ellipse cx="448.2" cy="159.6" rx="1.60" ry="1.13" fill="#28e6ff" transform="rotate(6 448.2 159.6)"/><ellipse cx="444.6" cy="163.1" rx="1.58" ry="1.08" fill="#ff2424" transform="rotate(144 444.6 163.1)"/><ellipse cx="443.5" cy="163.7" rx="1.42" ry="0.89" fill="#ff2424" transform="rotate(65 443.5 163.7)"/><ellipse cx="448.7" cy="166.1" rx="1.51" ry="1.05" fill="#ffffff" transform="rotate(17 448.7 166.1)"/><ellipse cx="445.8" cy="166.7" rx="1.12" ry="0.88" fill="#28e6ff" transform="rotate(141 445.8 166.7)"/><ellipse cx="442.3" cy="173.1" rx="1.12" ry="0.88" fill="#28e6ff" transform="rotate(17 442.3 173.1)"/><ellipse cx="442.9" cy="176.0" rx="1.13" ry="0.88" fill="#ffff28" transform="rotate(145 442.9 176.0)"/><ellipse cx="443.5" cy="177.8" rx="1.69" ry="1.09" fill="#ff3cff" transform="rotate(40 443.5 177.8)"/><ellipse cx="440.6" cy="181.3" rx="1.31" ry="0.90" fill="#28e6ff" transform="rotate(160 440.6 181.3)"/><ellipse cx="440.0" cy="183.0" rx="1.28" ry="0.92" fill="#ff3cff" transform="rotate(32 440.0 183.0)"/><ellipse cx="435.9" cy="184.8" rx="1.52" ry="1.04" fill="#2a4cff" transform="rotate(174 435.9 184.8)"/><ellipse cx="434.1" cy="186.0" rx="1.61" ry="0.99" fill="#28e6ff" transform="rotate(119 434.1 186.0)"/><ellipse cx="399.0" cy="173.1" rx="1.12" ry="1.09" fill="#28e6ff" transform="rotate(22 399.0 173.1)"/><ellipse cx="403.1" cy="171.9" rx="1.59" ry="1.02" fill="#28e6ff" transform="rotate(160 403.1 171.9)"/><ellipse cx="406.6" cy="174.3" rx="1.55" ry="0.95" fill="#2cff2c" transform="rotate(78 406.6 174.3)"/><ellipse cx="406.6" cy="176.6" rx="1.53" ry="0.91" fill="#2cff2c" transform="rotate(1 406.6 176.6)"/><ellipse cx="402.0" cy="179.5" rx="1.67" ry="0.88" fill="#ffff28" transform="rotate(149 402.0 179.5)"/><ellipse cx="404.3" cy="180.7" rx="1.21" ry="1.01" fill="#ff3cff" transform="rotate(119 404.3 180.7)"/><ellipse cx="405.5" cy="181.9" rx="1.32" ry="0.94" fill="#2cff2c" transform="rotate(104 405.5 181.9)"/><ellipse cx="403.7" cy="182.4" rx="1.50" ry="0.85" fill="#ffffff" transform="rotate(40 403.7 182.4)"/><ellipse cx="410.1" cy="182.4" rx="1.49" ry="1.03" fill="#ff2424" transform="rotate(122 410.1 182.4)"/><ellipse cx="409.6" cy="184.8" rx="1.24" ry="1.13" fill="#ff2424" transform="rotate(108 409.6 184.8)"/><ellipse cx="410.1" cy="187.1" rx="1.16" ry="0.91" fill="#ff2424" transform="rotate(155 410.1 187.1)"/><ellipse cx="413.7" cy="182.4" rx="1.39" ry="1.00" fill="#2a4cff" transform="rotate(60 413.7 182.4)"/><ellipse cx="414.8" cy="188.3" rx="1.40" ry="0.93" fill="#ffff28" transform="rotate(178 414.8 188.3)"/><ellipse cx="416.0" cy="189.5" rx="1.43" ry="1.05" fill="#ff9a10" transform="rotate(46 416.0 189.5)"/><ellipse cx="417.7" cy="189.5" rx="1.23" ry="1.11" fill="#28e6ff" transform="rotate(46 417.7 189.5)"/><ellipse cx="420.1" cy="189.5" rx="1.47" ry="0.98" fill="#28e6ff" transform="rotate(88 420.1 189.5)"/><ellipse cx="422.4" cy="188.3" rx="1.34" ry="1.14" fill="#ffffff" transform="rotate(2 422.4 188.3)"/><ellipse cx="424.2" cy="189.5" rx="1.18" ry="0.92" fill="#ff9a10" transform="rotate(100 424.2 189.5)"/><ellipse cx="425.4" cy="190.0" rx="1.51" ry="1.00" fill="#ff2424" transform="rotate(46 425.4 190.0)"/><ellipse cx="427.7" cy="188.3" rx="1.63" ry="1.11" fill="#ffffff" transform="rotate(172 427.7 188.3)"/><ellipse cx="429.4" cy="188.9" rx="1.66" ry="1.11" fill="#ffffff" transform="rotate(128 429.4 188.9)"/><ellipse cx="431.8" cy="188.3" rx="1.67" ry="0.91" fill="#ff2424" transform="rotate(26 431.8 188.3)"/><ellipse cx="412.5" cy="191.8" rx="1.60" ry="1.13" fill="#28e6ff" transform="rotate(97 412.5 191.8)"/><ellipse cx="414.2" cy="193.0" rx="1.43" ry="1.04" fill="#28e6ff" transform="rotate(124 414.2 193.0)"/><ellipse cx="416.0" cy="194.1" rx="1.37" ry="0.89" fill="#28e6ff" transform="rotate(31 416.0 194.1)"/><ellipse cx="417.7" cy="180.1" rx="1.37" ry="0.88" fill="#28e6ff" transform="rotate(11 417.7 180.1)"/><ellipse cx="420.7" cy="179.5" rx="1.46" ry="1.13" fill="#2a4cff" transform="rotate(73 420.7 179.5)"/><ellipse cx="423.6" cy="181.9" rx="1.58" ry="1.02" fill="#28e6ff" transform="rotate(79 423.6 181.9)"/><ellipse cx="425.4" cy="182.4" rx="1.44" ry="1.15" fill="#28e6ff" transform="rotate(21 425.4 182.4)"/><ellipse cx="428.9" cy="181.3" rx="1.44" ry="0.93" fill="#ff3cff" transform="rotate(107 428.9 181.3)"/><ellipse cx="432.4" cy="179.5" rx="1.55" ry="0.95" fill="#ff3cff" transform="rotate(46 432.4 179.5)"/><ellipse cx="434.7" cy="176.6" rx="1.31" ry="0.86" fill="#ff3cff" transform="rotate(117 434.7 176.6)"/></g>
<g stroke="#e8e8e8" stroke-width="1" stroke-dasharray="2.8,2.2" fill="none">
<line x1="389.2" y1="168.5" x2="457.1" y2="168.5" stroke-dashoffset="0.40"/>
<line x1="411" y1="141.4" x2="411" y2="195.7" stroke-dashoffset="0.70"/>
<line x1="435.4" y1="141.4" x2="435.4" y2="195.7" stroke-dashoffset="0.70"/>
</g>
<circle cx="411" cy="168.5" r="1.4" fill="#30ff30"/>
<circle cx="411" cy="168.5" r="3.8" fill="none" stroke="#e6e6e6" stroke-width="0.9"/>
<circle cx="435.4" cy="168.5" r="1.4" fill="#ffff30"/>
<circle cx="435.4" cy="168.5" r="3.8" fill="none" stroke="#e6e6e6" stroke-width="0.9"/>
<polygon points="400.1,154.0 389.2,148.6 393.9,147.3 395.6,142.7" fill="#fff"/>
<text x="470.4" y="136.4" font-size="9.5" fill="#f2f2f2" text-anchor="end" font-weight="normal" >10.4 min</text>
<g filter="url(#gl)"><ellipse cx="506.7" cy="156.1" rx="1.23" ry="0.89" fill="#28e6ff" transform="rotate(44 506.7 156.1)"/><ellipse cx="509.0" cy="155.5" rx="1.45" ry="1.12" fill="#28e6ff" transform="rotate(158 509.0 155.5)"/><ellipse cx="512.5" cy="152.0" rx="1.31" ry="0.95" fill="#ffff28" transform="rotate(172 512.5 152.0)"/><ellipse cx="514.3" cy="150.9" rx="1.63" ry="0.91" fill="#ff9a10" transform="rotate(22 514.3 150.9)"/><ellipse cx="515.5" cy="152.0" rx="1.35" ry="1.09" fill="#ffff28" transform="rotate(73 515.5 152.0)"/><ellipse cx="514.9" cy="155.5" rx="1.27" ry="0.85" fill="#ff2424" transform="rotate(60 514.9 155.5)"/><ellipse cx="515.5" cy="157.9" rx="1.14" ry="0.94" fill="#ff2424" transform="rotate(3 515.5 157.9)"/><ellipse cx="517.8" cy="156.7" rx="1.21" ry="1.00" fill="#ffff28" transform="rotate(66 517.8 156.7)"/><ellipse cx="519.6" cy="156.1" rx="1.64" ry="1.00" fill="#2cff2c" transform="rotate(33 519.6 156.1)"/><ellipse cx="521.3" cy="156.7" rx="1.21" ry="0.97" fill="#ffff28" transform="rotate(147 521.3 156.7)"/><ellipse cx="520.1" cy="158.5" rx="1.21" ry="1.13" fill="#ff2424" transform="rotate(89 520.1 158.5)"/><ellipse cx="523.1" cy="146.8" rx="1.19" ry="1.01" fill="#2a4cff" transform="rotate(47 523.1 146.8)"/><ellipse cx="526.0" cy="144.4" rx="1.68" ry="0.93" fill="#2cff2c" transform="rotate(156 526.0 144.4)"/><ellipse cx="525.4" cy="146.2" rx="1.42" ry="1.10" fill="#2a4cff" transform="rotate(173 525.4 146.2)"/><ellipse cx="527.2" cy="152.0" rx="1.36" ry="1.13" fill="#2cff2c" transform="rotate(36 527.2 152.0)"/><ellipse cx="528.3" cy="152.6" rx="1.19" ry="1.08" fill="#2cff2c" transform="rotate(102 528.3 152.6)"/><ellipse cx="529.5" cy="153.8" rx="1.17" ry="1.00" fill="#2cff2c" transform="rotate(42 529.5 153.8)"/><ellipse cx="530.1" cy="147.9" rx="1.28" ry="1.14" fill="#28e6ff" transform="rotate(175 530.1 147.9)"/><ellipse cx="531.8" cy="148.5" rx="1.53" ry="0.90" fill="#28e6ff" transform="rotate(42 531.8 148.5)"/><ellipse cx="533.6" cy="147.4" rx="1.55" ry="1.01" fill="#ffff28" transform="rotate(84 533.6 147.4)"/><ellipse cx="535.4" cy="148.5" rx="1.29" ry="1.13" fill="#ff9a10" transform="rotate(45 535.4 148.5)"/><ellipse cx="534.8" cy="146.2" rx="1.34" ry="0.88" fill="#ffff28" transform="rotate(164 534.8 146.2)"/><ellipse cx="535.9" cy="149.7" rx="1.50" ry="0.90" fill="#ff2424" transform="rotate(142 535.9 149.7)"/><ellipse cx="524.8" cy="155.5" rx="1.67" ry="0.99" fill="#ffffff" transform="rotate(124 524.8 155.5)"/><ellipse cx="530.1" cy="159.6" rx="1.43" ry="1.09" fill="#ffffff" transform="rotate(165 530.1 159.6)"/><ellipse cx="542.4" cy="157.9" rx="1.12" ry="0.91" fill="#ffffff" transform="rotate(17 542.4 157.9)"/><ellipse cx="543.0" cy="156.7" rx="1.18" ry="0.88" fill="#ffaaff" transform="rotate(107 543.0 156.7)"/><ellipse cx="546.5" cy="153.8" rx="1.18" ry="1.13" fill="#ffff28" transform="rotate(54 546.5 153.8)"/><ellipse cx="545.9" cy="154.4" rx="1.47" ry="0.87" fill="#2cff2c" transform="rotate(100 545.9 154.4)"/><ellipse cx="548.8" cy="164.9" rx="1.30" ry="1.14" fill="#ff3cff" transform="rotate(117 548.8 164.9)"/><ellipse cx="551.1" cy="165.5" rx="1.49" ry="0.89" fill="#28e6ff" transform="rotate(32 551.1 165.5)"/><ellipse cx="547.0" cy="169.0" rx="1.57" ry="1.02" fill="#ffff28" transform="rotate(137 547.0 169.0)"/><ellipse cx="545.3" cy="162.0" rx="1.15" ry="1.05" fill="#ffffff" transform="rotate(114 545.3 162.0)"/><ellipse cx="510.8" cy="163.1" rx="1.57" ry="1.05" fill="#ffffff" transform="rotate(43 510.8 163.1)"/><ellipse cx="513.1" cy="178.9" rx="1.28" ry="1.01" fill="#ff2424" transform="rotate(167 513.1 178.9)"/><ellipse cx="514.3" cy="180.1" rx="1.43" ry="0.92" fill="#ff2424" transform="rotate(170 514.3 180.1)"/><ellipse cx="524.8" cy="178.9" rx="1.13" ry="1.06" fill="#2a4cff" transform="rotate(137 524.8 178.9)"/><ellipse cx="528.9" cy="179.5" rx="1.12" ry="0.92" fill="#2a4cff" transform="rotate(150 528.9 179.5)"/><ellipse cx="537.1" cy="175.4" rx="1.60" ry="1.10" fill="#ffff28" transform="rotate(81 537.1 175.4)"/><ellipse cx="540.0" cy="174.8" rx="1.22" ry="1.11" fill="#ffff28" transform="rotate(80 540.0 174.8)"/><ellipse cx="548.2" cy="178.9" rx="1.69" ry="0.87" fill="#ff3cff" transform="rotate(19 548.2 178.9)"/><ellipse cx="550.0" cy="180.7" rx="1.37" ry="1.10" fill="#ff3cff" transform="rotate(97 550.0 180.7)"/><ellipse cx="513.7" cy="183.6" rx="1.26" ry="1.00" fill="#ff2424" transform="rotate(55 513.7 183.6)"/><ellipse cx="516.6" cy="184.2" rx="1.67" ry="0.97" fill="#ff2424" transform="rotate(46 516.6 184.2)"/><ellipse cx="514.9" cy="186.0" rx="1.47" ry="0.98" fill="#ff2424" transform="rotate(155 514.9 186.0)"/><ellipse cx="506.1" cy="186.0" rx="1.14" ry="1.12" fill="#28e6ff" transform="rotate(51 506.1 186.0)"/><ellipse cx="507.9" cy="186.5" rx="1.34" ry="1.10" fill="#28e6ff" transform="rotate(16 507.9 186.5)"/><ellipse cx="518.4" cy="187.7" rx="1.38" ry="1.02" fill="#28e6ff" transform="rotate(98 518.4 187.7)"/><ellipse cx="521.3" cy="188.3" rx="1.18" ry="1.06" fill="#2cff2c" transform="rotate(98 521.3 188.3)"/><ellipse cx="520.1" cy="189.5" rx="1.52" ry="0.87" fill="#28e6ff" transform="rotate(175 520.1 189.5)"/><ellipse cx="521.9" cy="188.9" rx="1.52" ry="1.01" fill="#2cff2c" transform="rotate(102 521.9 188.9)"/><ellipse cx="528.3" cy="187.7" rx="1.30" ry="0.96" fill="#ff2424" transform="rotate(86 528.3 187.7)"/><ellipse cx="530.1" cy="187.1" rx="1.55" ry="0.89" fill="#ff2424" transform="rotate(2 530.1 187.1)"/><ellipse cx="532.4" cy="186.0" rx="1.59" ry="1.10" fill="#ff2424" transform="rotate(14 532.4 186.0)"/><ellipse cx="534.8" cy="189.5" rx="1.46" ry="0.96" fill="#28e6ff" transform="rotate(67 534.8 189.5)"/><ellipse cx="536.5" cy="190.6" rx="1.52" ry="1.01" fill="#28e6ff" transform="rotate(52 536.5 190.6)"/><ellipse cx="537.1" cy="183.0" rx="1.70" ry="1.05" fill="#ffffff" transform="rotate(36 537.1 183.0)"/><ellipse cx="537.7" cy="181.9" rx="1.50" ry="0.86" fill="#ffff28" transform="rotate(72 537.7 181.9)"/><ellipse cx="539.4" cy="187.1" rx="1.21" ry="0.87" fill="#ff9a10" transform="rotate(114 539.4 187.1)"/><ellipse cx="540.0" cy="188.3" rx="1.60" ry="0.90" fill="#ff2424" transform="rotate(136 540.0 188.3)"/><ellipse cx="541.8" cy="183.6" rx="1.35" ry="1.04" fill="#ff3cff" transform="rotate(14 541.8 183.6)"/><ellipse cx="543.5" cy="186.0" rx="1.34" ry="1.06" fill="#ffff28" transform="rotate(19 543.5 186.0)"/><ellipse cx="545.3" cy="184.8" rx="1.24" ry="1.07" fill="#ffff28" transform="rotate(146 545.3 184.8)"/><ellipse cx="547.6" cy="184.8" rx="1.52" ry="1.06" fill="#ffff28" transform="rotate(69 547.6 184.8)"/><ellipse cx="547.0" cy="186.0" rx="1.59" ry="0.96" fill="#2cff2c" transform="rotate(64 547.0 186.0)"/><ellipse cx="526.0" cy="191.2" rx="1.22" ry="1.00" fill="#28e6ff" transform="rotate(63 526.0 191.2)"/><ellipse cx="528.3" cy="190.6" rx="1.32" ry="1.07" fill="#28e6ff" transform="rotate(158 528.3 190.6)"/><ellipse cx="510.2" cy="190.0" rx="1.28" ry="0.90" fill="#ff2424" transform="rotate(177 510.2 190.0)"/><ellipse cx="512.5" cy="190.6" rx="1.20" ry="1.04" fill="#ff2424" transform="rotate(25 512.5 190.6)"/><ellipse cx="544.1" cy="187.1" rx="1.36" ry="1.15" fill="#ffff28" transform="rotate(119 544.1 187.1)"/></g>
<g stroke="#e8e8e8" stroke-width="1" stroke-dasharray="2.8,2.2" fill="none">
<line x1="495.1" y1="169.4" x2="564" y2="169.4" stroke-dashoffset="0.80"/>
<line x1="502.3" y1="142.6" x2="502.3" y2="196.5" stroke-dashoffset="0.40"/>
<line x1="556.5" y1="142.6" x2="556.5" y2="196.5" stroke-dashoffset="0.40"/>
</g>
<circle cx="502.3" cy="169.4" r="1.4" fill="#3040ff"/>
<circle cx="502.3" cy="169.4" r="3.8" fill="none" stroke="#e6e6e6" stroke-width="0.9"/>
<circle cx="556.5" cy="169.4" r="1.4" fill="#ff2020"/>
<circle cx="556.5" cy="169.4" r="3.8" fill="none" stroke="#e6e6e6" stroke-width="0.9"/>
<polygon points="507.6,152.5 503.9,142.3 508.1,144.3 512.5,142.3" fill="#fff"/>
<text x="576.6" y="136.4" font-size="9.5" fill="#f2f2f2" text-anchor="end" font-weight="normal" >17.1 min</text>
<rect x="567" y="207" width="10" height="2" fill="#fff" />
<path d="M54.5,256.8 L56.6,256.5 L58.8,256.6 L60.9,256.4 L63.0,256.2 L65.0,255.3 L67.1,254.7 L69.1,253.9 L71.1,253.3 L73.2,252.7 L75.2,251.6 L77.2,250.8 L79.2,250.5 L81.3,249.6 L83.3,249.0 L85.3,247.9 L87.4,247.4 L89.4,246.8 L91.4,245.8 L93.4,245.5 L95.5,244.7 L97.5,243.6 L99.5,242.8 L101.6,242.4 L103.6,241.6 L105.5,241.5 L107.4,240.8 L109.4,240.4 L111.3,240.1 L113.2,239.6 L115.2,239.3 L117.1,239.0 L119.0,238.7 L120.8,240.0 L122.6,241.3 L124.4,240.5 L126.2,239.8 L128.1,239.1 L129.9,238.5 L131.9,238.5 L133.8,238.4 L135.8,238.2 L137.8,238.6 L139.7,238.4 L141.7,238.4 L143.7,238.2 L145.6,238.6 L147.6,238.5 L149.6,238.1 L151.5,238.1 L153.5,238.2 L153.5,243.4 L151.5,243.4 L149.6,243.4 L147.6,243.9 L145.6,244.1 L143.7,243.8 L141.7,244.1 L139.7,244.2 L137.8,244.4 L135.8,244.1 L133.8,244.3 L131.9,244.5 L129.9,244.7 L128.1,245.3 L126.2,246.0 L124.4,246.8 L122.6,247.7 L120.8,246.5 L119.0,245.3 L117.1,245.7 L115.2,246.0 L113.2,246.4 L111.3,247.0 L109.4,247.3 L107.4,247.9 L105.5,248.6 L103.6,248.8 L101.6,249.6 L99.5,250.2 L97.5,251.0 L95.5,252.2 L93.4,253.0 L91.4,253.5 L89.4,254.5 L87.4,255.2 L85.3,255.8 L83.3,256.9 L81.3,257.6 L79.2,258.6 L77.2,259.0 L75.2,259.8 L73.2,261.0 L71.1,261.7 L69.1,262.4 L67.1,263.2 L65.0,263.9 L63.0,264.8 L60.9,265.2 L58.8,265.5 L56.6,265.4 L54.5,265.8Z" fill="#c9c9c9"/>
<path d="M54.5,261.3 L56.6,260.9 L58.8,261.1 L60.9,260.8 L63.0,260.5 L65.0,259.6 L67.1,259.0 L69.1,258.2 L71.1,257.5 L73.2,256.8 L75.2,255.7 L77.2,254.9 L79.2,254.5 L81.3,253.6 L83.3,253.0 L85.3,251.8 L87.4,251.3 L89.4,250.7 L91.4,249.7 L93.4,249.2 L95.5,248.5 L97.5,247.3 L99.5,246.5 L101.6,246.0 L103.6,245.2 L105.5,245.0 L107.4,244.3 L109.4,243.9 L111.3,243.6 L113.2,243.0 L115.2,242.7 L117.1,242.4 L119.0,242.0 L120.8,243.2 L122.6,244.5 L124.4,243.6 L126.2,242.9 L128.1,242.2 L129.9,241.6 L131.9,241.5 L133.8,241.4 L135.8,241.2 L137.8,241.5 L139.7,241.3 L141.7,241.3 L143.7,241.0 L145.6,241.3 L147.6,241.2 L149.6,240.7 L151.5,240.8 L153.5,240.8" fill="none" stroke="#505050" stroke-width="1.1" stroke-linejoin="round"/>
<path d="M54.5,271.7 L56.4,272.3 L58.4,272.5 L60.3,271.7 L62.2,271.9 L64.2,272.8 L66.1,272.9 L68.1,273.0 L70.0,272.9 L72.0,272.8 L74.0,273.2 L76.0,273.3 L78.0,273.4 L80.0,273.0 L82.0,273.4 L84.0,273.4 L86.0,273.9 L88.0,274.2 L90.0,273.8 L92.0,274.3 L94.0,274.0 L96.0,273.9 L98.0,273.8 L100.0,273.6 L102.0,273.7 L104.0,274.2 L106.0,274.1 L108.0,274.2 L110.0,274.4 L112.0,274.8 L114.0,274.5 L116.0,274.6 L118.0,274.3 L120.0,274.2 L122.0,274.5 L124.0,274.4 L126.0,274.8 L128.0,275.4 L130.0,274.9 L132.0,275.2 L133.9,274.8 L135.9,275.6 L137.8,275.6 L139.8,275.6 L141.8,275.9 L143.7,275.8 L145.7,275.9 L147.6,275.6 L149.6,276.3 L151.5,276.4 L153.5,276.0 L153.5,282.6 L151.5,283.0 L149.6,282.9 L147.6,282.2 L145.7,282.6 L143.7,282.5 L141.8,282.5 L139.8,282.3 L137.8,282.3 L135.9,282.3 L133.9,281.5 L132.0,281.9 L130.0,281.7 L128.0,282.1 L126.0,281.6 L124.0,281.2 L122.0,281.3 L120.0,281.0 L118.0,281.1 L116.0,281.4 L114.0,281.3 L112.0,281.7 L110.0,281.2 L108.0,281.1 L106.0,281.0 L104.0,281.1 L102.0,280.6 L100.0,280.5 L98.0,280.7 L96.0,280.9 L94.0,280.9 L92.0,281.3 L90.0,280.8 L88.0,281.2 L86.0,280.9 L84.0,280.5 L82.0,280.4 L80.0,280.1 L78.0,280.4 L76.0,280.4 L74.0,280.3 L72.0,279.9 L70.0,280.1 L68.1,280.1 L66.1,280.0 L64.2,280.0 L62.2,279.1 L60.3,278.9 L58.4,279.6 L56.4,279.5 L54.5,278.9Z" fill="#b9e2fa"/>
<path d="M54.5,275.3 L56.4,275.9 L58.4,276.0 L60.3,275.3 L62.2,275.5 L64.2,276.4 L66.1,276.4 L68.1,276.5 L70.0,276.5 L72.0,276.4 L74.0,276.8 L76.0,276.8 L78.0,276.9 L80.0,276.6 L82.0,276.9 L84.0,277.0 L86.0,277.4 L88.0,277.7 L90.0,277.3 L92.0,277.8 L94.0,277.4 L96.0,277.4 L98.0,277.3 L100.0,277.1 L102.0,277.1 L104.0,277.6 L106.0,277.5 L108.0,277.6 L110.0,277.8 L112.0,278.2 L114.0,277.9 L116.0,278.0 L118.0,277.7 L120.0,277.6 L122.0,277.9 L124.0,277.8 L126.0,278.2 L128.0,278.7 L130.0,278.3 L132.0,278.6 L133.9,278.1 L135.9,278.9 L137.8,278.9 L139.8,279.0 L141.8,279.2 L143.7,279.1 L145.7,279.3 L147.6,278.9 L149.6,279.6 L151.5,279.7 L153.5,279.3" fill="none" stroke="#7cc6f3" stroke-width="1.2" stroke-linejoin="round"/>
<path d="M54.5,271.1 L56.7,272.0 L59.0,273.5 L61.2,274.5 L63.4,275.9 L65.3,276.7 L67.3,277.5 L69.2,277.8 L71.1,278.5 L73.1,280.1 L75.0,280.5 L76.9,281.0 L78.8,281.7 L80.6,283.1 L82.5,283.3 L84.4,284.3 L86.2,284.7 L88.1,285.5 L90.0,286.1 L92.1,286.1 L94.2,287.1 L96.4,287.7 L98.5,287.8 L100.4,288.1 L102.3,288.7 L104.2,288.9 L106.2,288.6 L108.1,289.6 L110.0,289.7 L112.0,290.0 L114.0,289.9 L116.0,289.9 L117.9,290.9 L119.9,290.7 L121.9,291.0 L123.9,291.5 L125.8,291.9 L127.8,292.0 L129.7,292.5 L131.7,292.3 L133.6,292.7 L135.6,293.1 L137.5,292.9 L139.4,293.5 L141.4,293.6 L143.4,292.9 L145.3,293.4 L147.4,293.2 L149.4,293.4 L151.4,294.3 L153.5,294.0 L153.5,301.0 L151.4,301.4 L149.4,300.5 L147.4,300.3 L145.3,300.6 L143.4,300.1 L141.4,300.7 L139.4,300.7 L137.5,300.1 L135.6,300.3 L133.6,299.9 L131.7,299.6 L129.7,299.9 L127.8,299.4 L125.8,299.3 L123.9,298.9 L121.9,298.4 L119.9,298.2 L117.9,298.4 L116.0,297.4 L114.0,297.5 L112.0,297.6 L110.0,297.3 L108.1,297.3 L106.2,296.3 L104.2,296.6 L102.3,296.4 L100.4,295.9 L98.5,295.6 L96.4,295.5 L94.2,294.9 L92.1,294.0 L90.0,293.9 L88.1,293.4 L86.2,292.6 L84.4,292.3 L82.5,291.3 L80.6,291.1 L78.8,289.7 L76.9,289.1 L75.0,288.7 L73.1,288.2 L71.1,286.7 L69.2,286.0 L67.3,285.8 L65.3,285.0 L63.4,284.1 L61.2,282.9 L59.0,281.9 L56.7,280.4 L54.5,279.5Z" fill="#fcf5b2"/>
<path d="M54.5,275.3 L56.7,276.2 L59.0,277.7 L61.2,278.7 L63.4,280.0 L65.3,280.9 L67.3,281.7 L69.2,281.9 L71.1,282.6 L73.1,284.2 L75.0,284.6 L76.9,285.0 L78.8,285.7 L80.6,287.1 L82.5,287.3 L84.4,288.3 L86.2,288.6 L88.1,289.5 L90.0,290.0 L92.1,290.1 L94.2,291.0 L96.4,291.6 L98.5,291.7 L100.4,292.0 L102.3,292.5 L104.2,292.8 L106.2,292.5 L108.1,293.5 L110.0,293.5 L112.0,293.8 L114.0,293.7 L116.0,293.6 L117.9,294.7 L119.9,294.5 L121.9,294.7 L123.9,295.2 L125.8,295.6 L127.8,295.7 L129.7,296.2 L131.7,295.9 L133.6,296.3 L135.6,296.7 L137.5,296.5 L139.4,297.1 L141.4,297.1 L143.4,296.5 L145.3,297.0 L147.4,296.8 L149.4,297.0 L151.4,297.8 L153.5,297.5" fill="none" stroke="#f8cf00" stroke-width="1.3" stroke-linejoin="round"/>
<path d="M54.5,230.5H153.5V329.5H54.5Z" fill="none" stroke="#6a6a6a" stroke-width="1"/>
<line x1="54.5" y1="329.5" x2="54.5" y2="327.5" stroke="#6a6a6a" stroke-width="0.8"/>
<text x="54.5" y="340.2" font-size="10.8" fill="#222" text-anchor="middle" font-weight="normal" >0</text>
<line x1="74.3" y1="329.5" x2="74.3" y2="327.5" stroke="#6a6a6a" stroke-width="0.8"/>
<text x="74.3" y="340.2" font-size="10.8" fill="#222" text-anchor="middle" font-weight="normal" >1</text>
<line x1="94.1" y1="329.5" x2="94.1" y2="327.5" stroke="#6a6a6a" stroke-width="0.8"/>
<text x="94.1" y="340.2" font-size="10.8" fill="#222" text-anchor="middle" font-weight="normal" >2</text>
<line x1="113.9" y1="329.5" x2="113.9" y2="327.5" stroke="#6a6a6a" stroke-width="0.8"/>
<text x="113.9" y="340.2" font-size="10.8" fill="#222" text-anchor="middle" font-weight="normal" >3</text>
<line x1="133.7" y1="329.5" x2="133.7" y2="327.5" stroke="#6a6a6a" stroke-width="0.8"/>
<text x="133.7" y="340.2" font-size="10.8" fill="#222" text-anchor="middle" font-weight="normal" >4</text>
<line x1="153.5" y1="329.5" x2="153.5" y2="327.5" stroke="#6a6a6a" stroke-width="0.8"/>
<text x="153.5" y="340.2" font-size="10.8" fill="#222" text-anchor="middle" font-weight="normal" >5</text>
<line x1="54.5" y1="329.5" x2="56.5" y2="329.5" stroke="#6a6a6a" stroke-width="0.8"/>
<text x="53.4" y="334.0" font-size="10.8" fill="#222" text-anchor="end" font-weight="normal" >0</text>
<line x1="54.5" y1="296.5" x2="56.5" y2="296.5" stroke="#6a6a6a" stroke-width="0.8"/>
<text x="53.4" y="301.0" font-size="10.8" fill="#222" text-anchor="end" font-weight="normal" >5</text>
<line x1="54.5" y1="263.5" x2="56.5" y2="263.5" stroke="#6a6a6a" stroke-width="0.8"/>
<text x="53.4" y="268.0" font-size="10.8" fill="#222" text-anchor="end" font-weight="normal" >10</text>
<line x1="54.5" y1="230.5" x2="56.5" y2="230.5" stroke="#6a6a6a" stroke-width="0.8"/>
<text x="53.4" y="235.0" font-size="10.8" fill="#222" text-anchor="end" font-weight="normal" >15</text>
<text x="102.6" y="351.6" font-size="11.3" fill="#222" text-anchor="middle" font-weight="normal" >Time (min)</text>
<text transform="translate(37.3,281.0) rotate(-90)" font-size="11.3" fill="#222" text-anchor="middle" font-weight="normal">Spindle length (µm)</text>
<text x="151" y="254.5" font-size="9.8" fill="#222" text-anchor="end" font-weight="normal" >Control</text>
<text x="151" y="271.5" font-size="9.8" fill="#7cc8f0" text-anchor="end" font-weight="normal" >FCPT</text>
<text x="151" y="310.5" font-size="9.8" fill="#f2cf00" text-anchor="end" font-weight="normal" >STLC</text>
<text x="29.5" y="225" font-size="13.5" fill="#111" text-anchor="start" font-weight="bold" >e</text>
<path d="M193.5,250.2 L195.4,249.7 L197.4,249.4 L199.3,249.9 L201.3,249.4 L203.2,249.2 L205.2,249.8 L207.2,250.7 L209.1,250.4 L211.1,250.3 L213.0,249.8 L215.0,249.3 L217.0,249.9 L219.0,249.5 L221.0,249.4 L223.0,249.3 L225.0,249.5 L227.0,250.8 L229.0,250.7 L231.0,250.7 L233.0,250.2 L235.0,250.7 L237.0,249.6 L239.0,249.7 L241.0,250.3 L243.0,250.4 L245.0,250.6 L247.0,250.6 L249.0,249.1 L251.0,250.0 L253.0,249.8 L255.0,250.1 L257.0,249.9 L259.0,249.3 L261.0,249.9 L263.0,249.3 L265.0,250.8 L267.0,250.7 L269.0,250.2 L271.0,249.8 L273.0,250.2 L274.9,250.9 L276.9,250.2 L278.9,250.7 L280.8,250.6 L282.8,249.9 L284.7,249.7 L286.6,250.0 L288.6,249.6 L290.6,249.1 L292.5,249.6 L292.5,258.4 L290.6,257.9 L288.6,258.4 L286.6,258.8 L284.7,258.5 L282.8,258.7 L280.8,259.4 L278.9,259.5 L276.9,259.0 L274.9,259.7 L273.0,259.0 L271.0,258.6 L269.0,259.0 L267.0,259.5 L265.0,259.6 L263.0,258.1 L261.0,258.7 L259.0,258.1 L257.0,258.7 L255.0,258.9 L253.0,258.6 L251.0,258.8 L249.0,257.9 L247.0,259.4 L245.0,259.4 L243.0,259.2 L241.0,259.1 L239.0,258.5 L237.0,258.4 L235.0,259.5 L233.0,259.0 L231.0,259.5 L229.0,259.5 L227.0,259.6 L225.0,258.3 L223.0,258.1 L221.0,258.2 L219.0,258.3 L217.0,258.7 L215.0,258.1 L213.0,258.6 L211.1,259.1 L209.1,259.2 L207.2,259.5 L205.2,258.6 L203.2,258.0 L201.3,258.2 L199.3,258.7 L197.4,258.2 L195.4,258.5 L193.5,259.0Z" fill="#b9e2fa"/>
<path d="M193.5,254.6 L195.4,254.1 L197.4,253.8 L199.3,254.3 L201.3,253.8 L203.2,253.6 L205.2,254.2 L207.2,255.1 L209.1,254.8 L211.1,254.7 L213.0,254.2 L215.0,253.7 L217.0,254.3 L219.0,253.9 L221.0,253.8 L223.0,253.7 L225.0,253.9 L227.0,255.2 L229.0,255.1 L231.0,255.1 L233.0,254.6 L235.0,255.1 L237.0,254.0 L239.0,254.1 L241.0,254.7 L243.0,254.8 L245.0,255.0 L247.0,255.0 L249.0,253.5 L251.0,254.4 L253.0,254.2 L255.0,254.5 L257.0,254.3 L259.0,253.7 L261.0,254.3 L263.0,253.7 L265.0,255.2 L267.0,255.1 L269.0,254.6 L271.0,254.2 L273.0,254.6 L274.9,255.3 L276.9,254.6 L278.9,255.1 L280.8,255.0 L282.8,254.3 L284.7,254.1 L286.6,254.4 L288.6,254.0 L290.6,253.5 L292.5,254.0" fill="none" stroke="#7cc6f3" stroke-width="1.2" stroke-linejoin="round"/>
<path d="M193.5,278.1 L195.5,277.6 L197.5,277.2 L199.5,276.6 L201.6,276.2 L203.6,275.3 L205.6,274.9 L207.6,273.7 L209.6,272.3 L211.7,272.2 L213.7,272.1 L215.8,270.9 L217.8,270.0 L219.8,269.4 L221.7,267.1 L223.7,266.4 L225.6,265.9 L227.4,265.2 L229.3,265.2 L231.2,264.8 L233.1,263.6 L234.9,263.5 L236.8,263.5 L238.8,263.1 L240.7,263.8 L242.7,263.5 L244.6,262.5 L246.6,263.2 L248.5,262.7 L250.5,262.6 L252.6,263.7 L254.6,263.5 L256.7,263.8 L258.7,264.9 L260.6,265.0 L262.4,263.7 L264.3,263.3 L266.2,263.9 L268.1,263.3 L269.9,262.1 L271.8,262.0 L273.7,262.1 L275.6,261.0 L277.5,260.7 L279.3,259.5 L281.2,260.0 L283.1,259.2 L285.0,258.4 L286.9,259.6 L288.8,260.0 L290.6,259.7 L292.5,260.5 L292.5,270.5 L290.6,269.7 L288.8,270.0 L286.9,269.6 L285.0,268.4 L283.1,269.2 L281.2,270.0 L279.3,269.5 L277.5,270.7 L275.6,271.0 L273.7,272.1 L271.8,272.0 L269.9,272.1 L268.1,273.3 L266.2,273.9 L264.3,273.3 L262.4,273.7 L260.6,275.0 L258.7,274.9 L256.7,273.8 L254.6,273.5 L252.6,273.7 L250.5,272.6 L248.5,272.7 L246.6,273.2 L244.6,272.5 L242.7,273.5 L240.7,273.8 L238.8,273.1 L236.8,273.5 L234.9,273.5 L233.1,273.6 L231.2,274.8 L229.3,275.2 L227.4,275.2 L225.6,275.9 L223.7,276.4 L221.7,277.1 L219.8,279.4 L217.8,280.0 L215.8,280.9 L213.7,282.1 L211.7,282.2 L209.6,282.3 L207.6,283.7 L205.6,284.9 L203.6,285.3 L201.6,286.2 L199.5,286.6 L197.5,287.2 L195.5,287.6 L193.5,288.1Z" fill="#fcf5b2"/>
<path d="M193.5,283.1 L195.5,282.6 L197.5,282.2 L199.5,281.6 L201.6,281.2 L203.6,280.3 L205.6,279.9 L207.6,278.7 L209.6,277.3 L211.7,277.2 L213.7,277.1 L215.8,275.9 L217.8,275.0 L219.8,274.4 L221.7,272.1 L223.7,271.4 L225.6,270.9 L227.4,270.2 L229.3,270.2 L231.2,269.8 L233.1,268.6 L234.9,268.5 L236.8,268.5 L238.8,268.1 L240.7,268.8 L242.7,268.5 L244.6,267.5 L246.6,268.2 L248.5,267.7 L250.5,267.6 L252.6,268.7 L254.6,268.5 L256.7,268.8 L258.7,269.9 L260.6,270.0 L262.4,268.7 L264.3,268.3 L266.2,268.9 L268.1,268.3 L269.9,267.1 L271.8,267.0 L273.7,267.1 L275.6,266.0 L277.5,265.7 L279.3,264.5 L281.2,265.0 L283.1,264.2 L285.0,263.4 L286.9,264.6 L288.8,265.0 L290.6,264.7 L292.5,265.5" fill="none" stroke="#f8cf00" stroke-width="1.3" stroke-linejoin="round"/>
<path d="M193.5,252.4 L195.4,253.7 L197.2,254.7 L199.1,255.3 L201.0,256.1 L202.8,256.8 L204.7,258.3 L206.6,258.8 L208.6,259.0 L210.6,259.7 L212.5,259.6 L214.4,260.4 L216.4,260.5 L218.3,261.3 L220.1,262.9 L222.0,263.9 L223.9,264.6 L225.8,265.8 L227.6,266.9 L229.5,267.8 L231.4,268.3 L233.4,269.6 L235.3,270.7 L237.3,271.0 L239.2,272.4 L241.2,272.9 L243.2,273.7 L245.3,274.4 L247.3,274.5 L249.4,274.8 L251.4,275.8 L253.7,275.4 L256.0,274.4 L258.1,273.6 L260.2,272.2 L262.1,273.7 L264.0,275.4 L265.8,275.9 L267.5,277.3 L269.3,276.8 L271.1,277.0 L273.0,276.5 L274.8,276.5 L277.0,277.5 L279.1,277.7 L281.3,277.9 L283.5,278.7 L285.8,279.4 L288.0,279.7 L290.2,280.8 L292.5,280.9 L292.5,288.1 L290.2,288.0 L288.0,286.9 L285.8,286.6 L283.5,285.9 L281.3,285.1 L279.1,284.9 L277.0,284.7 L274.8,283.7 L273.0,283.7 L271.1,284.2 L269.3,284.0 L267.5,284.5 L265.8,283.1 L264.0,282.6 L262.1,280.9 L260.2,279.4 L258.1,280.8 L256.0,281.6 L253.7,282.6 L251.4,283.0 L249.4,282.0 L247.3,281.7 L245.3,281.6 L243.2,280.9 L241.2,280.1 L239.2,279.6 L237.3,278.2 L235.3,277.9 L233.4,276.8 L231.4,275.5 L229.5,275.0 L227.6,274.1 L225.8,273.0 L223.9,271.8 L222.0,271.1 L220.1,270.1 L218.3,268.5 L216.4,267.7 L214.4,267.6 L212.5,266.8 L210.6,266.9 L208.6,266.2 L206.6,266.0 L204.7,265.5 L202.8,264.0 L201.0,263.3 L199.1,262.5 L197.2,261.9 L195.4,260.9 L193.5,259.6Z" fill="#c9c9c9"/>
<path d="M193.5,256.0 L195.4,257.3 L197.2,258.3 L199.1,258.9 L201.0,259.7 L202.8,260.4 L204.7,261.9 L206.6,262.4 L208.6,262.6 L210.6,263.3 L212.5,263.2 L214.4,264.0 L216.4,264.1 L218.3,264.9 L220.1,266.5 L222.0,267.5 L223.9,268.2 L225.8,269.4 L227.6,270.5 L229.5,271.4 L231.4,271.9 L233.4,273.2 L235.3,274.3 L237.3,274.6 L239.2,276.0 L241.2,276.5 L243.2,277.3 L245.3,278.0 L247.3,278.1 L249.4,278.4 L251.4,279.4 L253.7,279.0 L256.0,278.0 L258.1,277.2 L260.2,275.8 L262.1,277.3 L264.0,279.0 L265.8,279.5 L267.5,280.9 L269.3,280.4 L271.1,280.6 L273.0,280.1 L274.8,280.1 L277.0,281.1 L279.1,281.3 L281.3,281.5 L283.5,282.3 L285.8,283.0 L288.0,283.3 L290.2,284.4 L292.5,284.5" fill="none" stroke="#505050" stroke-width="1.1" stroke-linejoin="round"/>
<path d="M193.5,230.5H292.5V329.5H193.5Z" fill="none" stroke="#6a6a6a" stroke-width="1"/>
<line x1="193.5" y1="329.5" x2="193.5" y2="327.5" stroke="#6a6a6a" stroke-width="0.8"/>
<text x="193.5" y="340.2" font-size="10.8" fill="#222" text-anchor="middle" font-weight="normal" >0</text>
<line x1="213.3" y1="329.5" x2="213.3" y2="327.5" stroke="#6a6a6a" stroke-width="0.8"/>
<text x="213.3" y="340.2" font-size="10.8" fill="#222" text-anchor="middle" font-weight="normal" >1</text>
<line x1="233.1" y1="329.5" x2="233.1" y2="327.5" stroke="#6a6a6a" stroke-width="0.8"/>
<text x="233.1" y="340.2" font-size="10.8" fill="#222" text-anchor="middle" font-weight="normal" >2</text>
<line x1="252.9" y1="329.5" x2="252.9" y2="327.5" stroke="#6a6a6a" stroke-width="0.8"/>
<text x="252.9" y="340.2" font-size="10.8" fill="#222" text-anchor="middle" font-weight="normal" >3</text>
<line x1="272.7" y1="329.5" x2="272.7" y2="327.5" stroke="#6a6a6a" stroke-width="0.8"/>
<text x="272.7" y="340.2" font-size="10.8" fill="#222" text-anchor="middle" font-weight="normal" >4</text>
<line x1="292.5" y1="329.5" x2="292.5" y2="327.5" stroke="#6a6a6a" stroke-width="0.8"/>
<text x="292.5" y="340.2" font-size="10.8" fill="#222" text-anchor="middle" font-weight="normal" >5</text>
<line x1="193.5" y1="329.5" x2="195.5" y2="329.5" stroke="#6a6a6a" stroke-width="0.8"/>
<text x="192.4" y="334.0" font-size="10.8" fill="#222" text-anchor="end" font-weight="normal" >0</text>
<line x1="193.5" y1="296.5" x2="195.5" y2="296.5" stroke="#6a6a6a" stroke-width="0.8"/>
<text x="192.4" y="301.0" font-size="10.8" fill="#222" text-anchor="end" font-weight="normal" >50</text>
<line x1="193.5" y1="263.5" x2="195.5" y2="263.5" stroke="#6a6a6a" stroke-width="0.8"/>
<text x="192.4" y="268.0" font-size="10.8" fill="#222" text-anchor="end" font-weight="normal" >100</text>
<line x1="193.5" y1="230.5" x2="195.5" y2="230.5" stroke="#6a6a6a" stroke-width="0.8"/>
<text x="192.4" y="235.0" font-size="10.8" fill="#222" text-anchor="end" font-weight="normal" >150</text>
<text x="242.1" y="351.6" font-size="11.3" fill="#222" text-anchor="middle" font-weight="normal" >Time (min)</text>
<text transform="translate(169.2,281.3) rotate(-90)" font-size="11.3" fill="#222" text-anchor="middle" font-weight="normal">Pivoting angle (°)</text>
<text x="289" y="247.5" font-size="9.8" fill="#7cc8f0" text-anchor="end" font-weight="normal" >FCPT</text>
<text x="195" y="294.5" font-size="9.8" fill="#f2cf00" text-anchor="start" font-weight="normal" >STLC</text>
<text x="290" y="296.5" font-size="9.8" fill="#222" text-anchor="end" font-weight="normal" >Control</text>
<text x="163.5" y="225" font-size="13.5" fill="#111" text-anchor="start" font-weight="bold" >f</text>
<path d="M323.8,288.5 L324.8,284.5 L325.9,280.6 L326.9,277.0 L327.9,275.1 L329.0,272.6 L330.0,270.9 L331.1,267.3 L332.3,263.6" fill="none" stroke="#56b2ee" stroke-width="1.2" stroke-linejoin="round" />
<path d="M332.3,263.6 L342.7,265.1" fill="none" stroke="#222" stroke-width="0.8" stroke-linejoin="round" stroke-dasharray="1.4,1.2"/>
<path d="M342.7,265.1 L343.6,267.3 L344.4,270.4 L345.3,272.4 L346.3,273.6 L347.4,275.7 L348.4,277.0 L349.4,278.4 L350.4,280.3 L351.4,282.4 L352.4,284.3 L353.5,284.9 L354.5,286.6" fill="none" stroke="#56b2ee" stroke-width="1.2" stroke-linejoin="round" />
<path d="M354.5,286.6 L374.4,282.9" fill="none" stroke="#222" stroke-width="0.8" stroke-linejoin="round" stroke-dasharray="1.4,1.2"/>
<path d="M374.4,282.9 L378.2,277.8 L380.5,281.6 L382.8,280.1 L384.5,279.0 L386.7,277.0 L389.0,271.7 L390.5,268.0 L392.0,263.3 L393.5,262.0 L395.1,260.2 L395.9,252.5 L397.4,256.4 L398.9,249.5 L401.0,246.0 L402.8,243.3 L405.1,244.6 L405.8,240.3 L407.7,234.1" fill="none" stroke="#56b2ee" stroke-width="1.2" stroke-linejoin="round" />
<path d="M323.5,230.5H422.5V329.5H323.5Z" fill="none" stroke="#6a6a6a" stroke-width="1"/>
<line x1="323.5" y1="329.5" x2="323.5" y2="327.5" stroke="#6a6a6a" stroke-width="0.8"/>
<text x="323.5" y="340.2" font-size="10.8" fill="#222" text-anchor="middle" font-weight="normal" >0</text>
<line x1="348.25" y1="329.5" x2="348.25" y2="327.5" stroke="#6a6a6a" stroke-width="0.8"/>
<text x="348.25" y="340.2" font-size="10.8" fill="#222" text-anchor="middle" font-weight="normal" >5</text>
<line x1="373.0" y1="329.5" x2="373.0" y2="327.5" stroke="#6a6a6a" stroke-width="0.8"/>
<text x="373.0" y="340.2" font-size="10.8" fill="#222" text-anchor="middle" font-weight="normal" >10</text>
<line x1="397.75" y1="329.5" x2="397.75" y2="327.5" stroke="#6a6a6a" stroke-width="0.8"/>
<text x="397.75" y="340.2" font-size="10.8" fill="#222" text-anchor="middle" font-weight="normal" >15</text>
<line x1="422.5" y1="329.5" x2="422.5" y2="327.5" stroke="#6a6a6a" stroke-width="0.8"/>
<text x="422.5" y="340.2" font-size="10.8" fill="#222" text-anchor="middle" font-weight="normal" >20</text>
<line x1="323.5" y1="329.5" x2="325.5" y2="329.5" stroke="#6a6a6a" stroke-width="0.8"/>
<text x="322.4" y="334.0" font-size="10.8" fill="#222" text-anchor="end" font-weight="normal" >0</text>
<line x1="323.5" y1="313.0" x2="325.5" y2="313.0" stroke="#6a6a6a" stroke-width="0.8"/>
<text x="322.4" y="317.5" font-size="10.8" fill="#222" text-anchor="end" font-weight="normal" >2</text>
<line x1="323.5" y1="296.5" x2="325.5" y2="296.5" stroke="#6a6a6a" stroke-width="0.8"/>
<text x="322.4" y="301.0" font-size="10.8" fill="#222" text-anchor="end" font-weight="normal" >4</text>
<line x1="323.5" y1="280.0" x2="325.5" y2="280.0" stroke="#6a6a6a" stroke-width="0.8"/>
<text x="322.4" y="284.5" font-size="10.8" fill="#222" text-anchor="end" font-weight="normal" >6</text>
<line x1="323.5" y1="263.5" x2="325.5" y2="263.5" stroke="#6a6a6a" stroke-width="0.8"/>
<text x="322.4" y="268.0" font-size="10.8" fill="#222" text-anchor="end" font-weight="normal" >8</text>
<line x1="323.5" y1="247.0" x2="325.5" y2="247.0" stroke="#6a6a6a" stroke-width="0.8"/>
<text x="322.4" y="251.5" font-size="10.8" fill="#222" text-anchor="end" font-weight="normal" >10</text>
<line x1="323.5" y1="230.5" x2="325.5" y2="230.5" stroke="#6a6a6a" stroke-width="0.8"/>
<text x="322.4" y="235.0" font-size="10.8" fill="#222" text-anchor="end" font-weight="normal" >12</text>
<text x="373.0" y="351.6" font-size="11.3" fill="#222" text-anchor="middle" font-weight="normal" >Time (min)</text>
<text transform="translate(308,281.0) rotate(-90)" font-size="11.3" fill="#222" text-anchor="middle" font-weight="normal">Spindle length (µm)</text>
<text x="357.2" y="242.6" font-size="9.8" fill="#222" text-anchor="middle" font-weight="normal" >Monastrol</text>
<text x="357.2" y="252.5" font-size="9.8" fill="#222" text-anchor="middle" font-weight="normal" >addition</text>
<line x1="337.3" y1="247" x2="337.3" y2="256" stroke="#222" stroke-width="0.8"/><polygon points="337.3,261.7 335.3,255.5 339.3,255.5" fill="#222"/>
<text x="366" y="311" font-size="9.8" fill="#222" text-anchor="middle" font-weight="normal" >Monastrol</text>
<text x="366" y="321" font-size="9.8" fill="#222" text-anchor="middle" font-weight="normal" >washout</text>
<line x1="366.3" y1="302" x2="366.3" y2="293" stroke="#222" stroke-width="0.8"/><polygon points="366.3,287.8 364.3,294 368.3,294" fill="#222"/>
<text x="300" y="225" font-size="13.5" fill="#111" text-anchor="start" font-weight="bold" >g</text>
<path d="M457.3,238.0 L458.2,241.0 L458.8,243.3 L459.6,245.0 L460.4,246.4 L461.1,254.8 L462.2,256.0 L463.4,259.4 L464.2,261.0 L465.0,264.8 L465.7,270.2" fill="none" stroke="#56b2ee" stroke-width="1.2" stroke-linejoin="round" />
<path d="M465.7,270.2 L475.7,282.4" fill="none" stroke="#222" stroke-width="0.8" stroke-linejoin="round" stroke-dasharray="1.4,1.2"/>
<path d="M475.7,282.4 L476.5,277.0 L478.0,271.7 L479.0,270.5 L480.3,268.6 L481.8,264.8 L483.4,257.9 L484.1,262.5 L484.9,255.6 L485.7,261.7 L486.4,259.4 L487.5,260.2" fill="none" stroke="#56b2ee" stroke-width="1.2" stroke-linejoin="round" />
<path d="M487.5,260.2 L507.9,247.6" fill="none" stroke="#222" stroke-width="0.8" stroke-linejoin="round" stroke-dasharray="1.4,1.2"/>
<path d="M507.9,247.6 L510.2,251.0 L512.5,255.6 L514.0,252.5 L515.5,249.5 L517.1,253.3 L518.6,251.0 L520.1,252.5 L520.9,251.0 L522.4,256.4 L524.0,260.2 L525.5,259.4 L527.0,262.5 L528.6,261.0 L530.1,264.8 L531.6,263.3 L533.2,267.1 L534.7,268.6 L536.2,270.2 L537.8,272.5 L539.0,275.5 L540.1,278.6 L541.6,282.4" fill="none" stroke="#56b2ee" stroke-width="1.2" stroke-linejoin="round" />
<path d="M457.5,230.5H556.5V329.5H457.5Z" fill="none" stroke="#6a6a6a" stroke-width="1"/>
<line x1="457.5" y1="329.5" x2="457.5" y2="327.5" stroke="#6a6a6a" stroke-width="0.8"/>
<text x="457.5" y="340.2" font-size="10.8" fill="#222" text-anchor="middle" font-weight="normal" >0</text>
<line x1="482.25" y1="329.5" x2="482.25" y2="327.5" stroke="#6a6a6a" stroke-width="0.8"/>
<text x="482.25" y="340.2" font-size="10.8" fill="#222" text-anchor="middle" font-weight="normal" >5</text>
<line x1="507.0" y1="329.5" x2="507.0" y2="327.5" stroke="#6a6a6a" stroke-width="0.8"/>
<text x="507.0" y="340.2" font-size="10.8" fill="#222" text-anchor="middle" font-weight="normal" >10</text>
<line x1="531.75" y1="329.5" x2="531.75" y2="327.5" stroke="#6a6a6a" stroke-width="0.8"/>
<text x="531.75" y="340.2" font-size="10.8" fill="#222" text-anchor="middle" font-weight="normal" >15</text>
<line x1="556.5" y1="329.5" x2="556.5" y2="327.5" stroke="#6a6a6a" stroke-width="0.8"/>
<text x="556.5" y="340.2" font-size="10.8" fill="#222" text-anchor="middle" font-weight="normal" >20</text>
<line x1="457.5" y1="329.5" x2="459.5" y2="329.5" stroke="#6a6a6a" stroke-width="0.8"/>
<text x="456.4" y="334.0" font-size="10.8" fill="#222" text-anchor="end" font-weight="normal" >0</text>
<line x1="457.5" y1="296.5" x2="459.5" y2="296.5" stroke="#6a6a6a" stroke-width="0.8"/>
<text x="456.4" y="301.0" font-size="10.8" fill="#222" text-anchor="end" font-weight="normal" >50</text>
<line x1="457.5" y1="263.5" x2="459.5" y2="263.5" stroke="#6a6a6a" stroke-width="0.8"/>
<text x="456.4" y="268.0" font-size="10.8" fill="#222" text-anchor="end" font-weight="normal" >100</text>
<line x1="457.5" y1="230.5" x2="459.5" y2="230.5" stroke="#6a6a6a" stroke-width="0.8"/>
<text x="456.4" y="235.0" font-size="10.8" fill="#222" text-anchor="end" font-weight="normal" >150</text>
<text x="507.0" y="351.6" font-size="11.3" fill="#222" text-anchor="middle" font-weight="normal" >Time (min)</text>
<text transform="translate(434.2,281.3) rotate(-90)" font-size="11.3" fill="#222" text-anchor="middle" font-weight="normal">Pivoting angle (°)</text>
<text x="481.5" y="307" font-size="9.8" fill="#222" text-anchor="middle" font-weight="normal" >Monastrol</text>
<text x="481.5" y="317" font-size="9.8" fill="#222" text-anchor="middle" font-weight="normal" >addition</text>
<line x1="470.8" y1="298" x2="470.8" y2="287" stroke="#222" stroke-width="0.8"/><polygon points="470.8,282 468.8,288 472.8,288" fill="#222"/>
<text x="506.8" y="280.1" font-size="9.8" fill="#222" text-anchor="middle" font-weight="normal" >Monastrol</text>
<text x="506.8" y="290.1" font-size="9.8" fill="#222" text-anchor="middle" font-weight="normal" >washout</text>
<line x1="498.7" y1="271.7" x2="498.7" y2="261" stroke="#222" stroke-width="0.8"/><polygon points="498.7,256.4 496.7,262.4 500.7,262.4" fill="#222"/>
<text x="426.5" y="225" font-size="13.5" fill="#111" text-anchor="start" font-weight="bold" >h</text>
<path d="M586.5,230.5H684.5V329.5H586.5Z" fill="none" stroke="#6a6a6a" stroke-width="1"/>
<text x="585.9" y="334.0" font-size="10.8" fill="#222" text-anchor="end" font-weight="normal" >0</text>
<text x="585.9" y="309.25" font-size="10.8" fill="#222" text-anchor="end" font-weight="normal" >10</text>
<text x="585.9" y="284.5" font-size="10.8" fill="#222" text-anchor="end" font-weight="normal" >20</text>
<text x="585.9" y="259.75" font-size="10.8" fill="#222" text-anchor="end" font-weight="normal" >30</text>
<text x="585.9" y="235.0" font-size="10.8" fill="#222" text-anchor="end" font-weight="normal" >40</text>
<line x1="586.5" y1="329.5" x2="588.5" y2="329.5" stroke="#6a6a6a" stroke-width="0.8"/>
<line x1="586.5" y1="317.125" x2="588.5" y2="317.125" stroke="#6a6a6a" stroke-width="0.8"/>
<line x1="586.5" y1="304.75" x2="588.5" y2="304.75" stroke="#6a6a6a" stroke-width="0.8"/>
<line x1="586.5" y1="292.375" x2="588.5" y2="292.375" stroke="#6a6a6a" stroke-width="0.8"/>
<line x1="586.5" y1="280.0" x2="588.5" y2="280.0" stroke="#6a6a6a" stroke-width="0.8"/>
<line x1="586.5" y1="267.625" x2="588.5" y2="267.625" stroke="#6a6a6a" stroke-width="0.8"/>
<line x1="586.5" y1="255.25" x2="588.5" y2="255.25" stroke="#6a6a6a" stroke-width="0.8"/>
<line x1="586.5" y1="242.875" x2="588.5" y2="242.875" stroke="#6a6a6a" stroke-width="0.8"/>
<line x1="586.5" y1="230.5" x2="588.5" y2="230.5" stroke="#6a6a6a" stroke-width="0.8"/>
<line x1="605.8" y1="329.5" x2="605.8" y2="327.5" stroke="#6a6a6a" stroke-width="0.8"/>
<line x1="625.1" y1="329.5" x2="625.1" y2="327.5" stroke="#6a6a6a" stroke-width="0.8"/>
<line x1="644.8" y1="329.5" x2="644.8" y2="327.5" stroke="#6a6a6a" stroke-width="0.8"/>
<line x1="664.7" y1="329.5" x2="664.7" y2="327.5" stroke="#6a6a6a" stroke-width="0.8"/>
<text transform="translate(571,281.3) rotate(-90)" font-size="11.3" fill="#222" text-anchor="middle" font-weight="normal">No. of polar chrom.</text>
<path d="M605.8,237.9 L625.1,292.4 L644.8,277.5 L664.7,329.5" fill="none" stroke="#333" stroke-width="0.7" stroke-dasharray="1,1"/>
<path d="M605.8,294.9 L625.1,322.1 L644.8,317.1 L664.7,329.5" fill="none" stroke="#333" stroke-width="0.7" stroke-dasharray="1,1"/>
<circle cx="605.8" cy="237.9" r="2.6" fill="#8dd3f6" stroke="#444" stroke-width="0.6"/>
<circle cx="625.1" cy="292.4" r="2.6" fill="#f08a2a" stroke="#444" stroke-width="0.6"/>
<circle cx="644.8" cy="277.5" r="2.6" fill="#f6d41a" stroke="#444" stroke-width="0.6"/>
<circle cx="664.7" cy="329.5" r="2.6" fill="#127a72" stroke="#444" stroke-width="0.6"/>
<circle cx="605.8" cy="294.9" r="2.6" fill="#8dd3f6" stroke="#444" stroke-width="0.6"/>
<circle cx="625.1" cy="322.1" r="2.6" fill="#f08a2a" stroke="#444" stroke-width="0.6"/>
<circle cx="644.8" cy="317.1" r="2.6" fill="#f6d41a" stroke="#444" stroke-width="0.6"/>
<circle cx="664.7" cy="329.5" r="2.6" fill="#127a72" stroke="#444" stroke-width="0.6"/>
<text transform="translate(618,260.5) rotate(70)" font-size="10" fill="#222" text-anchor="middle" font-weight="normal">cell 1</text>
<text transform="translate(620,304) rotate(55)" font-size="10" fill="#222" text-anchor="middle" font-weight="normal">cell 2</text>
<text x="562.6" y="224.8" font-size="13.5" fill="#111" text-anchor="start" font-weight="bold" >i</text>
<text transform="translate(593.1,346.8) rotate(-44)" font-size="10.8" fill="#8ed0f6" text-anchor="middle">NEBD</text>
<text transform="translate(601.9,353.6) rotate(-44)" font-size="10.8" fill="#f0873a" text-anchor="middle">Monastrol</text>
<text transform="translate(610.8,362.5) rotate(-44)" font-size="10.8" fill="#f0873a" text-anchor="middle">addition</text>
<text transform="translate(631.6,353.6) rotate(-44)" font-size="10.8" fill="#f4c614" text-anchor="middle">Monastrol</text>
<text transform="translate(639.7,361.7) rotate(-44)" font-size="10.8" fill="#f4c614" text-anchor="middle">washout</text>
<text transform="translate(657.4,356.4) rotate(-44)" font-size="10.8" fill="#1a877d" text-anchor="middle">Alignment</text>
<rect x="4.5" y="230.5" width="13" height="100" fill="#d4d4d4" stroke="#8c8c8c" stroke-width="1"/>
<text transform="translate(13.6,280.5) rotate(-90)" font-size="11" fill="#111" text-anchor="middle" font-weight="normal">Live-cell assay</text>
<rect x="4.5" y="377.5" width="13" height="98" fill="#d4d4d4" stroke="#8c8c8c" stroke-width="1"/>
<text transform="translate(13.6,426.5) rotate(-90)" font-size="11" fill="#111" text-anchor="middle" font-weight="normal">Live-cell assay</text>
<path d="M54.5,377.5H153.5V475.5H54.5Z" fill="none" stroke="#6a6a6a" stroke-width="1"/>
<text x="54.1" y="486.8" font-size="11.1" fill="#222" text-anchor="middle" font-weight="normal" >-3</text>
<line x1="54.1" y1="475.5" x2="54.1" y2="473.5" stroke="#6a6a6a" stroke-width="0.8"/>
<text x="70.7" y="486.8" font-size="11.1" fill="#222" text-anchor="middle" font-weight="normal" >-2</text>
<line x1="70.7" y1="475.5" x2="70.7" y2="473.5" stroke="#6a6a6a" stroke-width="0.8"/>
<text x="87.30000000000001" y="486.8" font-size="11.1" fill="#222" text-anchor="middle" font-weight="normal" >-1</text>
<line x1="87.3" y1="475.5" x2="87.3" y2="473.5" stroke="#6a6a6a" stroke-width="0.8"/>
<text x="103.9" y="486.8" font-size="11.1" fill="#222" text-anchor="middle" font-weight="normal" >0</text>
<line x1="103.9" y1="475.5" x2="103.9" y2="473.5" stroke="#6a6a6a" stroke-width="0.8"/>
<text x="120.5" y="486.8" font-size="11.1" fill="#222" text-anchor="middle" font-weight="normal" >1</text>
<line x1="120.5" y1="475.5" x2="120.5" y2="473.5" stroke="#6a6a6a" stroke-width="0.8"/>
<text x="137.10000000000002" y="486.8" font-size="11.1" fill="#222" text-anchor="middle" font-weight="normal" >2</text>
<line x1="137.1" y1="475.5" x2="137.1" y2="473.5" stroke="#6a6a6a" stroke-width="0.8"/>
<text x="153.70000000000002" y="486.8" font-size="11.1" fill="#222" text-anchor="middle" font-weight="normal" >3</text>
<line x1="153.7" y1="475.5" x2="153.7" y2="473.5" stroke="#6a6a6a" stroke-width="0.8"/>
<text x="52.6" y="388.5" font-size="11.1" fill="#222" text-anchor="end" font-weight="normal" >60</text>
<line x1="54.5" y1="384.5" x2="56.5" y2="384.5" stroke="#6a6a6a" stroke-width="0.8"/>
<text x="52.6" y="402.5" font-size="11.1" fill="#222" text-anchor="end" font-weight="normal" >40</text>
<line x1="54.5" y1="398.5" x2="56.5" y2="398.5" stroke="#6a6a6a" stroke-width="0.8"/>
<text x="52.6" y="416.5" font-size="11.1" fill="#222" text-anchor="end" font-weight="normal" >20</text>
<line x1="54.5" y1="412.5" x2="56.5" y2="412.5" stroke="#6a6a6a" stroke-width="0.8"/>
<text x="52.6" y="430.5" font-size="11.1" fill="#222" text-anchor="end" font-weight="normal" >0</text>
<line x1="54.5" y1="426.5" x2="56.5" y2="426.5" stroke="#6a6a6a" stroke-width="0.8"/>
<text x="52.6" y="444.5" font-size="11.1" fill="#222" text-anchor="end" font-weight="normal" >-20</text>
<line x1="54.5" y1="440.5" x2="56.5" y2="440.5" stroke="#6a6a6a" stroke-width="0.8"/>
<text x="52.6" y="458.5" font-size="11.1" fill="#222" text-anchor="end" font-weight="normal" >-40</text>
<line x1="54.5" y1="454.5" x2="56.5" y2="454.5" stroke="#6a6a6a" stroke-width="0.8"/>
<text x="52.6" y="472.5" font-size="11.1" fill="#222" text-anchor="end" font-weight="normal" >-60</text>
<line x1="54.5" y1="468.5" x2="56.5" y2="468.5" stroke="#6a6a6a" stroke-width="0.8"/>
<text x="104" y="497.5" font-size="11" fill="#222" text-anchor="middle" font-weight="normal" >Spindle length</text>
<text x="104" y="509.5" font-size="11" fill="#222" text-anchor="middle" font-weight="normal" >change (µm/min)</text>
<text transform="translate(33.3,426) rotate(-90)" font-size="11.3" fill="#222" text-anchor="middle" font-weight="normal">Pivoting angle change (°/min)</text>
<text x="39.3" y="373" font-size="13.5" fill="#111" text-anchor="start" font-weight="bold" >j</text>
<line x1="54.5" y1="406.7" x2="153.5" y2="446.5" stroke="#333" stroke-width="1" stroke-dasharray="2.5,2"/>
<line x1="71.9" y1="413.7" x2="148.9" y2="445.2" stroke="#111" stroke-width="1.1"/>
<circle cx="71.9" cy="404" r="1.55" fill="#eef060" stroke="#666" stroke-width="0.4"/>
<circle cx="71.9" cy="415.6" r="1.55" fill="#eef060" stroke="#666" stroke-width="0.4"/>
<circle cx="71.6" cy="421.5" r="1.55" fill="#eef060" stroke="#666" stroke-width="0.4"/>
<circle cx="91.4" cy="424.6" r="1.55" fill="#eef060" stroke="#666" stroke-width="0.4"/>
<circle cx="91.4" cy="426.7" r="1.55" fill="#eef060" stroke="#666" stroke-width="0.4"/>
<circle cx="82.9" cy="413.7" r="1.55" fill="#8a87c6" stroke="#666" stroke-width="0.4"/>
<circle cx="99.7" cy="416.4" r="1.55" fill="#8cc8f2" stroke="#666" stroke-width="0.4"/>
<circle cx="104.2" cy="420" r="1.55" fill="#8cc8f2" stroke="#666" stroke-width="0.4"/>
<circle cx="96.9" cy="421.2" r="1.55" fill="#8cc8f2" stroke="#666" stroke-width="0.4"/>
<circle cx="100.8" cy="422.8" r="1.55" fill="#8cc8f2" stroke="#666" stroke-width="0.4"/>
<circle cx="101.1" cy="427.3" r="1.55" fill="#8cc8f2" stroke="#666" stroke-width="0.4"/>
<circle cx="107.5" cy="425.7" r="1.55" fill="#8cc8f2" stroke="#666" stroke-width="0.4"/>
<circle cx="108.3" cy="430.1" r="1.55" fill="#8cc8f2" stroke="#666" stroke-width="0.4"/>
<circle cx="99.9" cy="434" r="1.55" fill="#1b7b73" stroke="#666" stroke-width="0.4"/>
<circle cx="110.8" cy="433.2" r="1.55" fill="#1b7b73" stroke="#666" stroke-width="0.4"/>
<circle cx="116.4" cy="435.1" r="1.55" fill="#1b7b73" stroke="#666" stroke-width="0.4"/>
<circle cx="121.1" cy="433.2" r="1.55" fill="#1b7b73" stroke="#666" stroke-width="0.4"/>
<circle cx="120.8" cy="434.5" r="1.55" fill="#1b7b73" stroke="#666" stroke-width="0.4"/>
<circle cx="118.7" cy="439.9" r="1.55" fill="#1b7b73" stroke="#666" stroke-width="0.4"/>
<circle cx="140.3" cy="432" r="1.55" fill="#1b7b73" stroke="#666" stroke-width="0.4"/>
<circle cx="113.3" cy="435.9" r="1.55" fill="#a6e66a" stroke="#666" stroke-width="0.4"/>
<circle cx="119.5" cy="417.2" r="1.55" fill="#f0913a" stroke="#666" stroke-width="0.4"/>
<circle cx="119.5" cy="423.9" r="1.55" fill="#f0913a" stroke="#666" stroke-width="0.4"/>
<circle cx="114.5" cy="425.4" r="1.55" fill="#f0913a" stroke="#666" stroke-width="0.4"/>
<circle cx="111.4" cy="428.1" r="1.55" fill="#f0913a" stroke="#666" stroke-width="0.4"/>
<circle cx="116.4" cy="428.2" r="1.55" fill="#f0913a" stroke="#666" stroke-width="0.4"/>
<circle cx="124.7" cy="428.5" r="1.55" fill="#f0913a" stroke="#666" stroke-width="0.4"/>
<circle cx="133.6" cy="425.4" r="1.55" fill="#f0913a" stroke="#666" stroke-width="0.4"/>
<circle cx="134.3" cy="427" r="1.55" fill="#f0913a" stroke="#666" stroke-width="0.4"/>
<circle cx="135.1" cy="430.9" r="1.55" fill="#f0913a" stroke="#666" stroke-width="0.4"/>
<circle cx="134" cy="431.7" r="1.55" fill="#f0913a" stroke="#666" stroke-width="0.4"/>
<circle cx="136.2" cy="435.1" r="1.55" fill="#f0913a" stroke="#666" stroke-width="0.4"/>
<circle cx="130" cy="434" r="1.55" fill="#f0913a" stroke="#666" stroke-width="0.4"/>
<circle cx="132" cy="435.9" r="1.55" fill="#f0913a" stroke="#666" stroke-width="0.4"/>
<circle cx="130.4" cy="437.9" r="1.55" fill="#f0913a" stroke="#666" stroke-width="0.4"/>
<circle cx="123.4" cy="436.3" r="1.55" fill="#f0913a" stroke="#666" stroke-width="0.4"/>
<circle cx="126.1" cy="438.7" r="1.55" fill="#f0913a" stroke="#666" stroke-width="0.4"/>
<circle cx="123.4" cy="440" r="1.55" fill="#f0913a" stroke="#666" stroke-width="0.4"/>
<circle cx="127.3" cy="441.5" r="1.55" fill="#f0913a" stroke="#666" stroke-width="0.4"/>
<circle cx="125.5" cy="443.4" r="1.55" fill="#f0913a" stroke="#666" stroke-width="0.4"/>
<circle cx="124.2" cy="444.6" r="1.55" fill="#f0913a" stroke="#666" stroke-width="0.4"/>
<circle cx="128.6" cy="443" r="1.55" fill="#f0913a" stroke="#666" stroke-width="0.4"/>
<circle cx="132.8" cy="443.4" r="1.55" fill="#f0913a" stroke="#666" stroke-width="0.4"/>
<circle cx="133.6" cy="446.5" r="1.55" fill="#f0913a" stroke="#666" stroke-width="0.4"/>
<circle cx="135.9" cy="447" r="1.55" fill="#f0913a" stroke="#666" stroke-width="0.4"/>
<circle cx="146" cy="440.6" r="1.55" fill="#f0913a" stroke="#666" stroke-width="0.4"/>
<circle cx="147.8" cy="437.1" r="1.55" fill="#f0913a" stroke="#666" stroke-width="0.4"/>
<circle cx="143.7" cy="447.7" r="1.55" fill="#f0913a" stroke="#666" stroke-width="0.4"/>
<circle cx="146" cy="449.6" r="1.55" fill="#f0913a" stroke="#666" stroke-width="0.4"/>
<circle cx="148.4" cy="449.6" r="1.55" fill="#f0913a" stroke="#666" stroke-width="0.4"/>
<circle cx="145.3" cy="450.4" r="1.55" fill="#f0913a" stroke="#666" stroke-width="0.4"/>
<circle cx="115.9" cy="449.6" r="1.55" fill="#f0913a" stroke="#666" stroke-width="0.4"/>
<circle cx="138.7" cy="458.7" r="1.55" fill="#f0913a" stroke="#666" stroke-width="0.4"/>
<circle cx="128.3" cy="468.3" r="1.55" fill="#f0913a" stroke="#666" stroke-width="0.4"/>
<text x="148.5" y="386.3" font-size="9.2" fill="#222" text-anchor="end" font-weight="normal" >R<tspan font-size="5.6" dy="-3.3">2</tspan><tspan dy="3.3">=0.49</tspan></text>
<text x="151.8" y="394.8" font-size="9.2" fill="#222" text-anchor="end" font-weight="normal" >p=2·10<tspan font-size="5.6" dy="-3.6">-10</tspan></text>
<line x1="58" y1="457.5" x2="66" y2="457.5" stroke="#222" stroke-width="1" stroke-dasharray="2.5,2"/>
<text x="69.3" y="460.8" font-size="9.3" fill="#222" text-anchor="start" font-weight="normal" >Theory</text>
<line x1="58" y1="468.5" x2="66" y2="468.5" stroke="#222" stroke-width="1"/>
<text x="69.6" y="471.6" font-size="9.3" fill="#222" text-anchor="start" font-weight="normal" >Experiments</text>
<rect x="159.5" y="377.5" width="61" height="114.5" fill="none" stroke="#8c8c8c" stroke-width="1"/>
<circle cx="166" cy="387.4" r="2.6" fill="#f0913a" stroke="#777" stroke-width="0.4"/>
<text x="173.8" y="390.8" font-size="9.6" fill="#222" text-anchor="start" font-weight="normal" >Untreated</text>
<circle cx="166" cy="403.2" r="2.6" fill="#1b7b73" stroke="#777" stroke-width="0.4"/>
<text x="173.8" y="406.6" font-size="9.6" fill="#222" text-anchor="start" font-weight="normal" >Control</text>
<text x="173.8" y="417.6" font-size="9.6" fill="#222" text-anchor="start" font-weight="normal" >(DMSO)</text>
<circle cx="166" cy="428.6" r="2.6" fill="#eef060" stroke="#777" stroke-width="0.4"/>
<text x="173.8" y="432" font-size="9.6" fill="#222" text-anchor="start" font-weight="normal" >STLC</text>
<circle cx="166" cy="443.5" r="2.6" fill="#8a87c6" stroke="#777" stroke-width="0.4"/>
<text x="173.8" y="446.9" font-size="9.6" fill="#222" text-anchor="start" font-weight="normal" >Monastrol</text>
<circle cx="166" cy="462.2" r="2.6" fill="#a6e66a" stroke="#777" stroke-width="0.4"/>
<text x="173.8" y="460.8" font-size="9.6" fill="#222" text-anchor="start" font-weight="normal" >Monastrol</text>
<text x="173.8" y="471" font-size="9.6" fill="#222" text-anchor="start" font-weight="normal" >washout</text>
<circle cx="166" cy="481.3" r="2.6" fill="#8cc8f2" stroke="#777" stroke-width="0.4"/>
<text x="173.8" y="484.7" font-size="9.6" fill="#222" text-anchor="start" font-weight="normal" >FCPT</text>
<rect x="229.5" y="377.5" width="454.5" height="115" fill="none" stroke="#9a9a9a" stroke-width="1"/>
<text x="230.9" y="372.3" font-size="13.5" fill="#111" text-anchor="start" font-weight="bold" >k</text>
<g fill="none" stroke="#9c9c9c" stroke-width="0.48"><path d="M249.6,435.6 C270.0,392.9 331.2,392.9 351.6,435.6" stroke-dasharray="53,3,26,2" stroke-dashoffset="13"/><path d="M249.6,435.6 C270.0,478.3 331.2,478.3 351.6,435.6" stroke-dasharray="50,1,16,3" stroke-dashoffset="13"/><path d="M249.6,435.6 C270.0,394.2 331.2,394.2 351.6,435.6" stroke-dasharray="15,2,47,1" stroke-dashoffset="28"/><path d="M249.6,435.6 C270.0,477.0 331.2,477.0 351.6,435.6" stroke-dasharray="16,1,39,3" stroke-dashoffset="11"/><path d="M249.6,435.6 C270.0,411.4 331.2,411.4 351.6,435.6" stroke-dasharray="34,1,25,2" stroke-dashoffset="15"/><path d="M249.6,435.6 C270.0,412.8 331.2,412.8 351.6,435.6" stroke-dasharray="25,1,36,2" stroke-dashoffset="1"/><path d="M249.6,435.6 C270.0,464.4 331.2,464.4 351.6,435.6" stroke-dasharray="40,2,23,3" stroke-dashoffset="26"/><path d="M249.6,435.6 C270.0,403.3 331.2,403.3 351.6,435.6" stroke-dasharray="30,2,47,3" stroke-dashoffset="13"/><path d="M249.6,435.6 C270.0,463.8 331.2,463.8 351.6,435.6" stroke-dasharray="45,2,41,3" stroke-dashoffset="25"/><path d="M249.6,435.6 C270.0,436.1 331.2,436.1 351.6,435.6" stroke-dasharray="42,1,26,3" stroke-dashoffset="12"/><path d="M249.6,435.6 C270.0,407.7 331.2,407.7 351.6,435.6" stroke-dasharray="40,2,45,2" stroke-dashoffset="13"/><path d="M249.6,435.6 C270.0,436.3 331.2,436.3 351.6,435.6" stroke-dasharray="50,2,33,2" stroke-dashoffset="1"/><path d="M249.6,435.6 C270.0,396.7 331.2,396.7 351.6,435.6" stroke-dasharray="47,3,42,2" stroke-dashoffset="5"/><path d="M249.6,435.6 C270.0,435.8 331.2,435.8 351.6,435.6" stroke-dasharray="59,3,39,3" stroke-dashoffset="7"/><path d="M249.6,435.6 C270.0,436.8 331.2,436.8 351.6,435.6" stroke-dasharray="58,2,36,2" stroke-dashoffset="16"/><path d="M249.6,435.6 C270.0,474.6 331.2,474.6 351.6,435.6" stroke-dasharray="15,3,52,3" stroke-dashoffset="22"/><path d="M249.6,435.6 C270.0,462.0 331.2,462.0 351.6,435.6" stroke-dasharray="38,2,34,1" stroke-dashoffset="26"/><path d="M249.6,435.6 C270.0,441.6 331.2,441.6 351.6,435.6" stroke-dasharray="24,2,37,2" stroke-dashoffset="10"/><path d="M249.6,435.6 C270.0,438.9 331.2,438.9 351.6,435.6" stroke-dasharray="43,2,36,1" stroke-dashoffset="7"/><path d="M249.6,435.6 C270.0,408.1 331.2,408.1 351.6,435.6" stroke-dasharray="41,3,51,3" stroke-dashoffset="24"/><path d="M249.6,435.6 C270.0,414.7 331.2,414.7 351.6,435.6" stroke-dasharray="53,2,19,1" stroke-dashoffset="0"/><path d="M249.6,435.6 C270.0,457.4 331.2,457.4 351.6,435.6" stroke-dasharray="26,1,43,2" stroke-dashoffset="2"/><path d="M249.6,435.6 C270.0,406.6 331.2,406.6 351.6,435.6" stroke-dasharray="39,1,27,2" stroke-dashoffset="14"/><path d="M249.6,435.6 C270.0,420.4 331.2,420.4 351.6,435.6" stroke-dasharray="36,1,32,2" stroke-dashoffset="6"/><path d="M249.6,435.6 C270.0,402.2 331.2,402.2 351.6,435.6" stroke-dasharray="55,2,24,2" stroke-dashoffset="25"/><path d="M249.6,435.6 C270.0,394.7 331.2,394.7 351.6,435.6" stroke-dasharray="16,1,47,1" stroke-dashoffset="21"/><path d="M249.6,435.6 C270.0,450.8 331.2,450.8 351.6,435.6" stroke-dasharray="40,1,59,3" stroke-dashoffset="15"/><path d="M249.6,435.6 C270.0,412.0 331.2,412.0 351.6,435.6" stroke-dasharray="44,2,41,2" stroke-dashoffset="19"/><path d="M249.6,435.6 C270.0,398.0 331.2,398.0 351.6,435.6" stroke-dasharray="28,3,54,2" stroke-dashoffset="26"/><path d="M249.6,435.6 C270.0,419.4 331.2,419.4 351.6,435.6" stroke-dasharray="57,2,34,2" stroke-dashoffset="0"/><path d="M249.6,435.6 C270.0,467.9 331.2,467.9 351.6,435.6" stroke-dasharray="17,3,58,2" stroke-dashoffset="5"/><path d="M249.6,435.6 C270.0,467.0 331.2,467.0 351.6,435.6" stroke-dasharray="59,2,38,2" stroke-dashoffset="10"/><path d="M249.6,435.6 C270.0,410.5 331.2,410.5 351.6,435.6" stroke-dasharray="45,2,24,1" stroke-dashoffset="20"/><path d="M249.6,435.6 C270.0,418.2 331.2,418.2 351.6,435.6" stroke-dasharray="37,2,54,3" stroke-dashoffset="1"/><line x1="268.0" y1="408.4" x2="290.3" y2="398.5"/><line x1="333.2" y1="408.4" x2="309.4" y2="398.5"/><line x1="268.2" y1="406.8" x2="289.4" y2="398.1"/><line x1="333.0" y1="406.8" x2="309.1" y2="398.1"/><line x1="278.4" y1="464.5" x2="297.2" y2="473.3"/><line x1="322.8" y1="464.5" x2="300.0" y2="473.3"/><line x1="276.0" y1="461.6" x2="292.5" y2="473.1"/><line x1="325.2" y1="461.6" x2="302.6" y2="473.1"/><line x1="249.6" y1="435.6" x2="237.0" y2="446.4"/><line x1="249.6" y1="435.6" x2="241.2" y2="446.9"/><line x1="249.6" y1="435.6" x2="237.6" y2="430.0"/><line x1="249.6" y1="435.6" x2="240.6" y2="449.6"/><line x1="249.6" y1="435.6" x2="243.1" y2="454.3"/><line x1="249.6" y1="435.6" x2="240.8" y2="422.1"/><line x1="249.6" y1="435.6" x2="244.7" y2="426.4"/><line x1="249.6" y1="435.6" x2="241.8" y2="417.7"/><line x1="249.6" y1="435.6" x2="236.1" y2="449.1"/><line x1="249.6" y1="435.6" x2="234.4" y2="428.6"/><line x1="249.6" y1="435.6" x2="255.9" y2="440.3"/><line x1="249.6" y1="435.6" x2="256.6" y2="436.7"/><line x1="249.6" y1="435.6" x2="253.9" y2="429.6"/><line x1="249.6" y1="435.6" x2="255.2" y2="442.4"/><line x1="249.6" y1="435.6" x2="254.3" y2="442.4"/><line x1="351.6" y1="435.6" x2="366.9" y2="425.0"/><line x1="351.6" y1="435.6" x2="358.0" y2="443.5"/><line x1="351.6" y1="435.6" x2="361.4" y2="440.5"/><line x1="351.6" y1="435.6" x2="361.5" y2="418.5"/><line x1="351.6" y1="435.6" x2="355.6" y2="423.6"/><line x1="351.6" y1="435.6" x2="355.1" y2="449.8"/><line x1="351.6" y1="435.6" x2="357.5" y2="425.3"/><line x1="351.6" y1="435.6" x2="365.5" y2="423.8"/><line x1="351.6" y1="435.6" x2="361.0" y2="417.9"/><line x1="351.6" y1="435.6" x2="371.1" y2="428.9"/><line x1="351.6" y1="435.6" x2="347.1" y2="441.6"/><line x1="351.6" y1="435.6" x2="344.5" y2="431.1"/><line x1="351.6" y1="435.6" x2="345.9" y2="428.3"/><line x1="351.6" y1="435.6" x2="348.6" y2="430.4"/><line x1="351.6" y1="435.6" x2="348.2" y2="442.2"/></g>
<line x1="249.6" y1="435.6" x2="351.6" y2="435.6" stroke="#f07a30" stroke-width="1.1" stroke-dasharray="1.7,1.3"/>
<circle cx="249.6" cy="435.6" r="1.8" fill="#f07a30"/><circle cx="351.6" cy="435.6" r="1.8" fill="#f07a30"/>
<g fill="none" stroke="#9c9c9c" stroke-width="0.48"><path d="M422.4,435.3 C441.1,395.3 470.5,395.3 489.2,435.3" stroke-dasharray="58,1,19,3" stroke-dashoffset="22"/><path d="M422.4,435.3 C441.1,475.3 470.5,475.3 489.2,435.3" stroke-dasharray="29,2,42,2" stroke-dashoffset="5"/><path d="M422.4,435.3 C441.1,396.5 470.5,396.5 489.2,435.3" stroke-dasharray="33,2,60,3" stroke-dashoffset="16"/><path d="M422.4,435.3 C441.1,474.1 470.5,474.1 489.2,435.3" stroke-dasharray="27,1,16,2" stroke-dashoffset="10"/><path d="M422.4,435.3 C441.1,425.7 470.5,425.7 489.2,435.3" stroke-dasharray="55,2,40,1" stroke-dashoffset="1"/><path d="M422.4,435.3 C441.1,421.3 470.5,421.3 489.2,435.3" stroke-dasharray="21,2,60,2" stroke-dashoffset="5"/><path d="M422.4,435.3 C441.1,466.8 470.5,466.8 489.2,435.3" stroke-dasharray="51,2,56,3" stroke-dashoffset="24"/><path d="M422.4,435.3 C441.1,423.6 470.5,423.6 489.2,435.3" stroke-dasharray="59,3,22,3" stroke-dashoffset="21"/><path d="M422.4,435.3 C441.1,432.2 470.5,432.2 489.2,435.3" stroke-dasharray="39,2,57,2" stroke-dashoffset="25"/><path d="M422.4,435.3 C441.1,423.6 470.5,423.6 489.2,435.3" stroke-dasharray="55,3,36,2" stroke-dashoffset="28"/><path d="M422.4,435.3 C441.1,453.2 470.5,453.2 489.2,435.3" stroke-dasharray="37,1,30,2" stroke-dashoffset="5"/><path d="M422.4,435.3 C441.1,467.9 470.5,467.9 489.2,435.3" stroke-dasharray="27,3,29,3" stroke-dashoffset="21"/><path d="M422.4,435.3 C441.1,435.6 470.5,435.6 489.2,435.3" stroke-dasharray="38,2,41,2" stroke-dashoffset="6"/><path d="M422.4,435.3 C441.1,436.3 470.5,436.3 489.2,435.3" stroke-dasharray="57,2,18,3" stroke-dashoffset="22"/><path d="M422.4,435.3 C441.1,467.9 470.5,467.9 489.2,435.3" stroke-dasharray="24,2,18,2" stroke-dashoffset="8"/><path d="M422.4,435.3 C441.1,413.4 470.5,413.4 489.2,435.3" stroke-dasharray="54,1,39,3" stroke-dashoffset="7"/><path d="M422.4,435.3 C441.1,412.1 470.5,412.1 489.2,435.3" stroke-dasharray="55,2,47,1" stroke-dashoffset="11"/><path d="M422.4,435.3 C441.1,409.1 470.5,409.1 489.2,435.3" stroke-dasharray="45,1,58,1" stroke-dashoffset="22"/><path d="M422.4,435.3 C441.1,397.0 470.5,397.0 489.2,435.3" stroke-dasharray="27,3,22,1" stroke-dashoffset="21"/><path d="M422.4,435.3 C441.1,426.1 470.5,426.1 489.2,435.3" stroke-dasharray="17,3,22,1" stroke-dashoffset="10"/><path d="M422.4,435.3 C441.1,444.5 470.5,444.5 489.2,435.3" stroke-dasharray="48,1,30,1" stroke-dashoffset="13"/><path d="M422.4,435.3 C441.1,456.6 470.5,456.6 489.2,435.3" stroke-dasharray="48,3,49,3" stroke-dashoffset="21"/><path d="M422.4,435.3 C441.1,433.1 470.5,433.1 489.2,435.3" stroke-dasharray="25,2,29,1" stroke-dashoffset="13"/><path d="M422.4,435.3 C441.1,465.3 470.5,465.3 489.2,435.3" stroke-dasharray="21,2,33,2" stroke-dashoffset="4"/><path d="M422.4,435.3 C441.1,472.1 470.5,472.1 489.2,435.3" stroke-dasharray="27,2,34,1" stroke-dashoffset="17"/><path d="M422.4,435.3 C441.1,406.6 470.5,406.6 489.2,435.3" stroke-dasharray="18,1,22,1" stroke-dashoffset="19"/><path d="M422.4,435.3 C441.1,436.0 470.5,436.0 489.2,435.3" stroke-dasharray="59,3,60,1" stroke-dashoffset="13"/><path d="M422.4,435.3 C441.1,415.4 470.5,415.4 489.2,435.3" stroke-dasharray="42,2,51,2" stroke-dashoffset="8"/><path d="M422.4,435.3 C441.1,429.1 470.5,429.1 489.2,435.3" stroke-dasharray="39,1,17,2" stroke-dashoffset="3"/><path d="M422.4,435.3 C441.1,453.2 470.5,453.2 489.2,435.3" stroke-dasharray="26,1,23,1" stroke-dashoffset="7"/><line x1="437.6" y1="409.2" x2="449.1" y2="401.0"/><line x1="474.0" y1="409.2" x2="459.2" y2="401.0"/><line x1="441.5" y1="407.0" x2="454.9" y2="401.6"/><line x1="470.1" y1="407.0" x2="453.3" y2="401.6"/><line x1="438.2" y1="459.5" x2="450.2" y2="469.3"/><line x1="473.4" y1="459.5" x2="458.8" y2="469.3"/><line x1="433.4" y1="462.9" x2="445.1" y2="469.3"/><line x1="478.2" y1="462.9" x2="458.7" y2="469.3"/><line x1="422.4" y1="435.3" x2="409.8" y2="439.2"/><line x1="422.4" y1="435.3" x2="418.9" y2="448.9"/><line x1="422.4" y1="435.3" x2="417.9" y2="418.4"/><line x1="422.4" y1="435.3" x2="416.2" y2="423.5"/><line x1="422.4" y1="435.3" x2="412.0" y2="449.2"/><line x1="422.4" y1="435.3" x2="418.7" y2="420.8"/><line x1="422.4" y1="435.3" x2="407.5" y2="431.6"/><line x1="422.4" y1="435.3" x2="410.9" y2="423.5"/><line x1="422.4" y1="435.3" x2="417.2" y2="423.3"/><line x1="422.4" y1="435.3" x2="403.3" y2="428.4"/><line x1="422.4" y1="435.3" x2="428.0" y2="427.3"/><line x1="422.4" y1="435.3" x2="429.2" y2="429.6"/><line x1="422.4" y1="435.3" x2="430.5" y2="433.3"/><line x1="422.4" y1="435.3" x2="429.1" y2="439.6"/><line x1="422.4" y1="435.3" x2="426.7" y2="430.3"/><line x1="489.2" y1="435.3" x2="497.2" y2="417.7"/><line x1="489.2" y1="435.3" x2="508.3" y2="443.0"/><line x1="489.2" y1="435.3" x2="498.1" y2="440.4"/><line x1="489.2" y1="435.3" x2="506.0" y2="443.1"/><line x1="489.2" y1="435.3" x2="501.9" y2="444.1"/><line x1="489.2" y1="435.3" x2="503.1" y2="429.6"/><line x1="489.2" y1="435.3" x2="498.1" y2="444.7"/><line x1="489.2" y1="435.3" x2="504.4" y2="436.4"/><line x1="489.2" y1="435.3" x2="495.4" y2="453.1"/><line x1="489.2" y1="435.3" x2="496.6" y2="453.0"/><line x1="489.2" y1="435.3" x2="482.8" y2="432.1"/><line x1="489.2" y1="435.3" x2="481.9" y2="435.1"/><line x1="489.2" y1="435.3" x2="479.9" y2="433.8"/><line x1="489.2" y1="435.3" x2="484.0" y2="442.6"/><line x1="489.2" y1="435.3" x2="484.3" y2="439.6"/></g>
<line x1="422.4" y1="435.3" x2="489.2" y2="435.3" stroke="#f07a30" stroke-width="1.1" stroke-dasharray="1.7,1.3"/>
<circle cx="422.4" cy="435.3" r="1.8" fill="#f07a30"/><circle cx="489.2" cy="435.3" r="1.8" fill="#f07a30"/>
<g fill="none" stroke="#9c9c9c" stroke-width="0.48"><path d="M558.6,435.8 C580.0,394.5 644.3,394.5 665.7,435.8" stroke-dasharray="39,2,42,2" stroke-dashoffset="2"/><path d="M558.6,435.8 C580.0,477.1 644.3,477.1 665.7,435.8" stroke-dasharray="53,2,26,3" stroke-dashoffset="14"/><path d="M558.6,435.8 C580.0,395.7 644.3,395.7 665.7,435.8" stroke-dasharray="36,2,22,2" stroke-dashoffset="26"/><path d="M558.6,435.8 C580.0,475.9 644.3,475.9 665.7,435.8" stroke-dasharray="48,2,18,3" stroke-dashoffset="18"/><path d="M558.6,435.8 C580.0,419.4 644.3,419.4 665.7,435.8" stroke-dasharray="16,3,36,2" stroke-dashoffset="26"/><path d="M558.6,435.8 C580.0,453.5 644.3,453.5 665.7,435.8" stroke-dasharray="56,2,51,2" stroke-dashoffset="28"/><path d="M558.6,435.8 C580.0,467.1 644.3,467.1 665.7,435.8" stroke-dasharray="19,1,25,3" stroke-dashoffset="13"/><path d="M558.6,435.8 C580.0,446.3 644.3,446.3 665.7,435.8" stroke-dasharray="29,2,32,2" stroke-dashoffset="18"/><path d="M558.6,435.8 C580.0,442.8 644.3,442.8 665.7,435.8" stroke-dasharray="56,2,57,3" stroke-dashoffset="30"/><path d="M558.6,435.8 C580.0,450.0 644.3,450.0 665.7,435.8" stroke-dasharray="22,3,58,3" stroke-dashoffset="17"/><path d="M558.6,435.8 C580.0,453.5 644.3,453.5 665.7,435.8" stroke-dasharray="25,3,41,2" stroke-dashoffset="2"/><path d="M558.6,435.8 C580.0,465.1 644.3,465.1 665.7,435.8" stroke-dasharray="60,1,51,2" stroke-dashoffset="5"/><path d="M558.6,435.8 C580.0,418.8 644.3,418.8 665.7,435.8" stroke-dasharray="50,3,17,2" stroke-dashoffset="1"/><path d="M558.6,435.8 C580.0,453.9 644.3,453.9 665.7,435.8" stroke-dasharray="30,3,59,2" stroke-dashoffset="30"/><path d="M558.6,435.8 C580.0,420.1 644.3,420.1 665.7,435.8" stroke-dasharray="18,2,16,1" stroke-dashoffset="12"/><path d="M558.6,435.8 C580.0,444.9 644.3,444.9 665.7,435.8" stroke-dasharray="22,1,54,2" stroke-dashoffset="29"/><path d="M558.6,435.8 C580.0,468.6 644.3,468.6 665.7,435.8" stroke-dasharray="32,2,38,2" stroke-dashoffset="18"/><path d="M558.6,435.8 C580.0,440.7 644.3,440.7 665.7,435.8" stroke-dasharray="43,3,38,2" stroke-dashoffset="22"/><path d="M558.6,435.8 C580.0,414.1 644.3,414.1 665.7,435.8" stroke-dasharray="29,3,38,2" stroke-dashoffset="0"/><path d="M558.6,435.8 C580.0,428.8 644.3,428.8 665.7,435.8" stroke-dasharray="41,1,43,2" stroke-dashoffset="2"/><path d="M558.6,435.8 C580.0,446.3 644.3,446.3 665.7,435.8" stroke-dasharray="36,2,31,2" stroke-dashoffset="22"/><path d="M558.6,435.8 C580.0,396.3 644.3,396.3 665.7,435.8" stroke-dasharray="18,2,58,2" stroke-dashoffset="14"/><path d="M558.6,435.8 C580.0,443.5 644.3,443.5 665.7,435.8" stroke-dasharray="29,2,29,2" stroke-dashoffset="18"/><path d="M558.6,435.8 C580.0,419.3 644.3,419.3 665.7,435.8" stroke-dasharray="32,3,16,2" stroke-dashoffset="22"/><path d="M558.6,435.8 C580.0,420.1 644.3,420.1 665.7,435.8" stroke-dasharray="25,3,26,1" stroke-dashoffset="13"/><path d="M558.6,435.8 C580.0,452.2 644.3,452.2 665.7,435.8" stroke-dasharray="20,2,30,3" stroke-dashoffset="13"/><path d="M558.6,435.8 C580.0,465.2 644.3,465.2 665.7,435.8" stroke-dasharray="23,2,44,3" stroke-dashoffset="14"/><path d="M558.6,435.8 C580.0,413.1 644.3,413.1 665.7,435.8" stroke-dasharray="20,2,24,3" stroke-dashoffset="25"/><path d="M558.6,435.8 C580.0,409.6 644.3,409.6 665.7,435.8" stroke-dasharray="28,3,44,3" stroke-dashoffset="10"/><path d="M558.6,435.8 C580.0,405.2 644.3,405.2 665.7,435.8" stroke-dasharray="28,3,27,2" stroke-dashoffset="13"/><path d="M558.6,435.8 C580.0,429.2 644.3,429.2 665.7,435.8" stroke-dasharray="33,3,22,1" stroke-dashoffset="28"/><path d="M558.6,435.8 C580.0,467.2 644.3,467.2 665.7,435.8" stroke-dasharray="59,2,58,3" stroke-dashoffset="7"/><path d="M558.6,435.8 C580.0,456.1 644.3,456.1 665.7,435.8" stroke-dasharray="53,2,38,2" stroke-dashoffset="10"/><path d="M558.6,435.8 C580.0,413.3 644.3,413.3 665.7,435.8" stroke-dasharray="18,2,28,3" stroke-dashoffset="1"/><line x1="589.2" y1="407.8" x2="612.2" y2="399.5"/><line x1="635.1" y1="407.8" x2="604.1" y2="399.5"/><line x1="583.9" y1="410.9" x2="605.6" y2="401.8"/><line x1="640.4" y1="410.9" x2="615.7" y2="401.8"/><line x1="585.3" y1="463.0" x2="604.5" y2="472.2"/><line x1="639.0" y1="463.0" x2="611.0" y2="472.2"/><line x1="580.1" y1="461.8" x2="602.7" y2="470.8"/><line x1="644.2" y1="461.8" x2="614.4" y2="470.8"/><line x1="558.6" y1="435.8" x2="547.4" y2="431.0"/><line x1="558.6" y1="435.8" x2="539.7" y2="437.6"/><line x1="558.6" y1="435.8" x2="546.9" y2="421.2"/><line x1="558.6" y1="435.8" x2="550.9" y2="453.0"/><line x1="558.6" y1="435.8" x2="552.2" y2="443.6"/><line x1="558.6" y1="435.8" x2="540.3" y2="442.5"/><line x1="558.6" y1="435.8" x2="554.2" y2="423.6"/><line x1="558.6" y1="435.8" x2="545.8" y2="426.5"/><line x1="558.6" y1="435.8" x2="543.7" y2="432.6"/><line x1="558.6" y1="435.8" x2="551.3" y2="442.7"/><line x1="558.6" y1="435.8" x2="562.1" y2="430.2"/><line x1="558.6" y1="435.8" x2="562.8" y2="431.0"/><line x1="558.6" y1="435.8" x2="563.5" y2="444.8"/><line x1="558.6" y1="435.8" x2="563.6" y2="428.9"/><line x1="558.6" y1="435.8" x2="565.5" y2="432.7"/><line x1="665.7" y1="435.8" x2="681.4" y2="429.1"/><line x1="665.7" y1="435.8" x2="679.3" y2="439.1"/><line x1="665.7" y1="435.8" x2="674.8" y2="425.7"/><line x1="665.7" y1="435.8" x2="674.1" y2="422.0"/><line x1="665.7" y1="435.8" x2="677.5" y2="443.7"/><line x1="665.7" y1="435.8" x2="670.7" y2="424.9"/><line x1="665.7" y1="435.8" x2="681.4" y2="430.2"/><line x1="665.7" y1="435.8" x2="675.9" y2="445.7"/><line x1="665.7" y1="435.8" x2="677.2" y2="448.1"/><line x1="665.7" y1="435.8" x2="679.6" y2="433.2"/><line x1="665.7" y1="435.8" x2="656.2" y2="435.7"/><line x1="665.7" y1="435.8" x2="656.4" y2="434.1"/><line x1="665.7" y1="435.8" x2="658.5" y2="435.2"/><line x1="665.7" y1="435.8" x2="656.3" y2="436.6"/><line x1="665.7" y1="435.8" x2="661.1" y2="429.1"/></g>
<line x1="558.6" y1="435.8" x2="665.7" y2="435.8" stroke="#f07a30" stroke-width="1.1" stroke-dasharray="1.7,1.3"/>
<circle cx="558.6" cy="435.8" r="1.8" fill="#f07a30"/><circle cx="665.7" cy="435.8" r="1.8" fill="#f07a30"/>
<g transform="translate(261,409)" fill="none" stroke-linecap="round"><path d="M-17,-16 C-17.5,-5 -11,0.5 -3,1.2" stroke="#858585" stroke-width="5.4"/><path d="M-17,-16 C-17.5,-5 -11,0.5 -3,1.2" stroke="#cfcfcf" stroke-width="4.2"/><path d="M-12.5,-19.8 C-12.8,-9 -7,-3.5 -1,-2.5" stroke="#858585" stroke-width="5.4"/><path d="M-12.5,-19.8 C-12.8,-9 -7,-3.5 -1,-2.5" stroke="#d4d4d4" stroke-width="4.2"/><circle cx="1" cy="-2.1" r="2" fill="#2cc0ee" stroke="#1a78b8" stroke-width="0.5"/><circle cx="-0.8" cy="2.5" r="2" fill="#2cc0ee" stroke="#1a78b8" stroke-width="0.5"/><circle cx="0" cy="0" r="1.35" fill="#f07a30"/></g>
<line x1="263" y1="404" x2="266.5" y2="396.8" stroke="#999" stroke-width="0.5"/>
<line x1="249.6" y1="435.6" x2="261" y2="410.5" stroke="#f07a30" stroke-width="1.1" stroke-dasharray="1.7,1.3"/>
<path d="M252.6,418.9 A17,17 0 0 1 266.5,434.1" fill="none" stroke="#f07a30" stroke-width="0.9"/>
<polygon points="266.7,435.9 264.7,432.5 268.3,432.7" fill="#f07a30"/>
<text x="261.5" y="428" font-size="14" fill="#f07a30" font-family="Liberation Serif">α</text>
<g transform="translate(412.2,419.3)" fill="none" stroke-linecap="round"><path d="M-17,-16 C-17.5,-5 -11,0.5 -3,1.2" stroke="#858585" stroke-width="5.4"/><path d="M-17,-16 C-17.5,-5 -11,0.5 -3,1.2" stroke="#cfcfcf" stroke-width="4.2"/><path d="M-12.5,-19.8 C-12.8,-9 -7,-3.5 -1,-2.5" stroke="#858585" stroke-width="5.4"/><path d="M-12.5,-19.8 C-12.8,-9 -7,-3.5 -1,-2.5" stroke="#d4d4d4" stroke-width="4.2"/><circle cx="-1" cy="-2.1" r="2" fill="#2cc0ee" stroke="#1a78b8" stroke-width="0.5"/><circle cx="0.8" cy="2" r="2" fill="#2cc0ee" stroke="#1a78b8" stroke-width="0.5"/><circle cx="0" cy="0" r="1.35" fill="#f07a30"/></g>
<line x1="422.4" y1="435.3" x2="412.2" y2="420.8" stroke="#f07a30" stroke-width="1.1" stroke-dasharray="1.7,1.3"/>
<path d="M414.2,419.8 A17.5,17.5 0 0 1 439.8,433.5" fill="none" stroke="#f07a30" stroke-width="0.9"/>
<polygon points="440.0,435.3 438.0,431.9 441.6,432.1" fill="#f07a30"/>
<text x="428" y="424" font-size="14" fill="#f07a30" font-family="Liberation Serif">α</text>
<g transform="translate(569,420.5)" fill="none" stroke-linecap="round"><path d="M-17,-16 C-17.5,-5 -11,0.5 -3,1.2" stroke="#858585" stroke-width="5.4"/><path d="M-17,-16 C-17.5,-5 -11,0.5 -3,1.2" stroke="#cfcfcf" stroke-width="4.2"/><path d="M-12.5,-19.8 C-12.8,-9 -7,-3.5 -1,-2.5" stroke="#858585" stroke-width="5.4"/><path d="M-12.5,-19.8 C-12.8,-9 -7,-3.5 -1,-2.5" stroke="#d4d4d4" stroke-width="4.2"/><circle cx="1.5" cy="-1.5" r="2" fill="#2cc0ee" stroke="#1a78b8" stroke-width="0.5"/><circle cx="-1.6" cy="0.7" r="2" fill="#2cc0ee" stroke="#1a78b8" stroke-width="0.5"/><circle cx="0" cy="0" r="1.35" fill="#f07a30"/></g>
<line x1="558.6" y1="435.8" x2="569" y2="422.0" stroke="#f07a30" stroke-width="1.1" stroke-dasharray="1.7,1.3"/>
<path d="M564.1,420.8 A16,16 0 0 1 574.5,434.1" fill="none" stroke="#f07a30" stroke-width="0.9"/>
<polygon points="574.7,435.9 572.7,432.5 576.3,432.7" fill="#f07a30"/>
<text x="574" y="429" font-size="14" fill="#f07a30" font-family="Liberation Serif">α</text>
<line x1="373" y1="435.9" x2="391.5" y2="435.9" stroke="#8a8a8a" stroke-width="2.4"/>
<polygon points="401.5,435.9 388.0,428.6 390.5,435.9 388.0,443.2" fill="#8a8a8a"/>
<line x1="509.8" y1="435.9" x2="527.8" y2="435.9" stroke="#8a8a8a" stroke-width="2.4"/>
<polygon points="537.8,435.9 524.3,428.6 526.8,435.9 524.3,443.2" fill="#8a8a8a"/>
<text x="387.5" y="456.8" font-size="11.2" fill="#222" text-anchor="middle" font-weight="normal" >Spindle</text>
<text x="387.5" y="468.8" font-size="11.2" fill="#222" text-anchor="middle" font-weight="normal" >shortening,</text>
<text x="387.5" y="480.8" font-size="11.2" fill="#222" text-anchor="middle" font-weight="normal" >MT pivoting outwards</text>
<text x="523.8" y="456.8" font-size="11.2" fill="#222" text-anchor="middle" font-weight="normal" >Spindle</text>
<text x="523.8" y="468.8" font-size="11.2" fill="#222" text-anchor="middle" font-weight="normal" >elongating,</text>
<text x="523.8" y="480.8" font-size="11.2" fill="#222" text-anchor="middle" font-weight="normal" >MT pivoting inwards</text>
</svg></body></html>
